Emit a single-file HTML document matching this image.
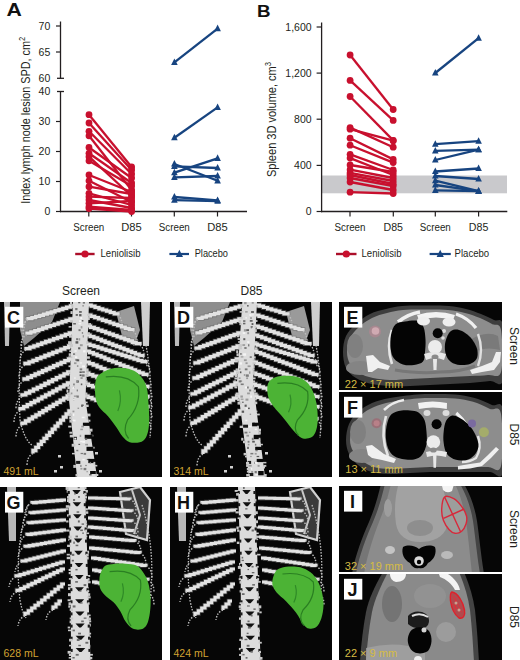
<!DOCTYPE html>
<html><head><meta charset="utf-8"><title>Figure</title>
<style>
html,body{margin:0;padding:0;background:#fff;}
body{width:520px;height:660px;position:relative;overflow:hidden;font-family:"Liberation Sans", sans-serif;}
svg{position:absolute;left:0;top:0;display:block;font-family:"Liberation Sans", sans-serif;}
</style></head><body>
<svg width="520" height="660" viewBox="0 0 520 660">
<text transform="translate(6.6,15.6) scale(1.18,1)" font-size="18" font-weight="bold" fill="#111">A</text>
<line x1="60.5" y1="21.5" x2="60.5" y2="78.6" stroke="#231f20" stroke-width="1.3"/>
<line x1="60.5" y1="91.2" x2="60.5" y2="212.2" stroke="#231f20" stroke-width="1.3"/>
<line x1="57.0" y1="78.3" x2="64.0" y2="78.3" stroke="#231f20" stroke-width="1.3"/>
<line x1="57.0" y1="91.5" x2="64.0" y2="91.5" stroke="#231f20" stroke-width="1.3"/>
<line x1="56.0" y1="26.0" x2="60.5" y2="26.0" stroke="#231f20" stroke-width="1.2"/>
<line x1="56.0" y1="52.0" x2="60.5" y2="52.0" stroke="#231f20" stroke-width="1.2"/>
<line x1="56.0" y1="121.5" x2="60.5" y2="121.5" stroke="#231f20" stroke-width="1.2"/>
<line x1="56.0" y1="151.5" x2="60.5" y2="151.5" stroke="#231f20" stroke-width="1.2"/>
<line x1="56.0" y1="181.5" x2="60.5" y2="181.5" stroke="#231f20" stroke-width="1.2"/>
<line x1="56.0" y1="211.5" x2="60.5" y2="211.5" stroke="#231f20" stroke-width="1.2"/>
<text x="50.3" y="29.8" font-size="10.5" text-anchor="end" fill="#231f20" font-weight="normal" >70</text>
<text x="50.3" y="55.8" font-size="10.5" text-anchor="end" fill="#231f20" font-weight="normal" >65</text>
<text x="50.3" y="82.1" font-size="10.5" text-anchor="end" fill="#231f20" font-weight="normal" >60</text>
<text x="50.3" y="95.3" font-size="10.5" text-anchor="end" fill="#231f20" font-weight="normal" >40</text>
<text x="50.3" y="125.3" font-size="10.5" text-anchor="end" fill="#231f20" font-weight="normal" >30</text>
<text x="50.3" y="155.3" font-size="10.5" text-anchor="end" fill="#231f20" font-weight="normal" >20</text>
<text x="50.3" y="185.3" font-size="10.5" text-anchor="end" fill="#231f20" font-weight="normal" >10</text>
<text x="50.3" y="215.3" font-size="10.5" text-anchor="end" fill="#231f20" font-weight="normal" >0</text>
<line x1="59.9" y1="211.5" x2="247.0" y2="211.5" stroke="#231f20" stroke-width="1.3"/>
<line x1="88.8" y1="211.5" x2="88.8" y2="216.5" stroke="#231f20" stroke-width="1.2"/>
<line x1="131.5" y1="211.5" x2="131.5" y2="216.5" stroke="#231f20" stroke-width="1.2"/>
<line x1="174.3" y1="211.5" x2="174.3" y2="216.5" stroke="#231f20" stroke-width="1.2"/>
<line x1="217.5" y1="211.5" x2="217.5" y2="216.5" stroke="#231f20" stroke-width="1.2"/>
<text x="88.8" y="230.6" font-size="10" text-anchor="middle" fill="#231f20" font-weight="normal" textLength="31" lengthAdjust="spacingAndGlyphs">Screen</text>
<text x="131.5" y="230.6" font-size="10" text-anchor="middle" fill="#231f20" font-weight="normal" textLength="20.5" lengthAdjust="spacingAndGlyphs">D85</text>
<text x="174.3" y="230.6" font-size="10" text-anchor="middle" fill="#231f20" font-weight="normal" textLength="31" lengthAdjust="spacingAndGlyphs">Screen</text>
<text x="217.5" y="230.6" font-size="10" text-anchor="middle" fill="#231f20" font-weight="normal" textLength="20.5" lengthAdjust="spacingAndGlyphs">D85</text>
<text transform="translate(29.8,120.3) rotate(-90) scale(0.836,1)" font-size="13" text-anchor="middle" fill="#231f20">Index lymph node lesion SPD, cm<tspan font-size="9" dy="-5">2</tspan></text>
<line x1="89.0" y1="114.7" x2="131.6" y2="167.0" stroke="#c8102e" stroke-width="2.3"/>
<line x1="89.0" y1="123.0" x2="131.6" y2="170.0" stroke="#c8102e" stroke-width="2.3"/>
<line x1="89.0" y1="131.3" x2="131.6" y2="174.0" stroke="#c8102e" stroke-width="2.3"/>
<line x1="89.0" y1="135.8" x2="131.6" y2="190.0" stroke="#c8102e" stroke-width="2.3"/>
<line x1="89.0" y1="147.5" x2="131.6" y2="178.0" stroke="#c8102e" stroke-width="2.3"/>
<line x1="89.0" y1="153.3" x2="131.6" y2="183.0" stroke="#c8102e" stroke-width="2.3"/>
<line x1="89.0" y1="156.7" x2="131.6" y2="196.0" stroke="#c8102e" stroke-width="2.3"/>
<line x1="89.0" y1="160.8" x2="131.6" y2="186.0" stroke="#c8102e" stroke-width="2.3"/>
<line x1="89.0" y1="175.0" x2="131.6" y2="192.0" stroke="#c8102e" stroke-width="2.3"/>
<line x1="89.0" y1="180.8" x2="131.6" y2="202.0" stroke="#c8102e" stroke-width="2.3"/>
<line x1="89.0" y1="186.7" x2="131.6" y2="194.0" stroke="#c8102e" stroke-width="2.3"/>
<line x1="89.0" y1="193.3" x2="131.6" y2="205.0" stroke="#c8102e" stroke-width="2.3"/>
<line x1="89.0" y1="196.7" x2="131.6" y2="198.0" stroke="#c8102e" stroke-width="2.3"/>
<line x1="89.0" y1="200.0" x2="131.6" y2="208.0" stroke="#c8102e" stroke-width="2.3"/>
<line x1="89.0" y1="203.3" x2="131.6" y2="201.0" stroke="#c8102e" stroke-width="2.3"/>
<line x1="89.0" y1="206.7" x2="131.6" y2="210.0" stroke="#c8102e" stroke-width="2.3"/>
<line x1="89.0" y1="208.5" x2="131.6" y2="211.5" stroke="#c8102e" stroke-width="2.3"/>
<circle cx="89.0" cy="114.7" r="3.4" fill="#c8102e"/>
<circle cx="131.6" cy="167.0" r="3.4" fill="#c8102e"/>
<circle cx="89.0" cy="123.0" r="3.4" fill="#c8102e"/>
<circle cx="131.6" cy="170.0" r="3.4" fill="#c8102e"/>
<circle cx="89.0" cy="131.3" r="3.4" fill="#c8102e"/>
<circle cx="131.6" cy="174.0" r="3.4" fill="#c8102e"/>
<circle cx="89.0" cy="135.8" r="3.4" fill="#c8102e"/>
<circle cx="131.6" cy="190.0" r="3.4" fill="#c8102e"/>
<circle cx="89.0" cy="147.5" r="3.4" fill="#c8102e"/>
<circle cx="131.6" cy="178.0" r="3.4" fill="#c8102e"/>
<circle cx="89.0" cy="153.3" r="3.4" fill="#c8102e"/>
<circle cx="131.6" cy="183.0" r="3.4" fill="#c8102e"/>
<circle cx="89.0" cy="156.7" r="3.4" fill="#c8102e"/>
<circle cx="131.6" cy="196.0" r="3.4" fill="#c8102e"/>
<circle cx="89.0" cy="160.8" r="3.4" fill="#c8102e"/>
<circle cx="131.6" cy="186.0" r="3.4" fill="#c8102e"/>
<circle cx="89.0" cy="175.0" r="3.4" fill="#c8102e"/>
<circle cx="131.6" cy="192.0" r="3.4" fill="#c8102e"/>
<circle cx="89.0" cy="180.8" r="3.4" fill="#c8102e"/>
<circle cx="131.6" cy="202.0" r="3.4" fill="#c8102e"/>
<circle cx="89.0" cy="186.7" r="3.4" fill="#c8102e"/>
<circle cx="131.6" cy="194.0" r="3.4" fill="#c8102e"/>
<circle cx="89.0" cy="193.3" r="3.4" fill="#c8102e"/>
<circle cx="131.6" cy="205.0" r="3.4" fill="#c8102e"/>
<circle cx="89.0" cy="196.7" r="3.4" fill="#c8102e"/>
<circle cx="131.6" cy="198.0" r="3.4" fill="#c8102e"/>
<circle cx="89.0" cy="200.0" r="3.4" fill="#c8102e"/>
<circle cx="131.6" cy="208.0" r="3.4" fill="#c8102e"/>
<circle cx="89.0" cy="203.3" r="3.4" fill="#c8102e"/>
<circle cx="131.6" cy="201.0" r="3.4" fill="#c8102e"/>
<circle cx="89.0" cy="206.7" r="3.4" fill="#c8102e"/>
<circle cx="131.6" cy="210.0" r="3.4" fill="#c8102e"/>
<circle cx="89.0" cy="208.5" r="3.4" fill="#c8102e"/>
<circle cx="131.6" cy="211.5" r="3.4" fill="#c8102e"/>
<line x1="174.4" y1="62.4" x2="217.6" y2="28.6" stroke="#174480" stroke-width="2.3"/>
<line x1="174.4" y1="137.7" x2="217.6" y2="107.4" stroke="#174480" stroke-width="2.3"/>
<line x1="174.4" y1="164.0" x2="217.6" y2="180.8" stroke="#174480" stroke-width="2.3"/>
<line x1="174.4" y1="166.3" x2="217.6" y2="168.0" stroke="#174480" stroke-width="2.3"/>
<line x1="174.4" y1="172.7" x2="217.6" y2="158.3" stroke="#174480" stroke-width="2.3"/>
<line x1="174.4" y1="177.3" x2="217.6" y2="176.0" stroke="#174480" stroke-width="2.3"/>
<line x1="174.4" y1="197.0" x2="217.6" y2="200.4" stroke="#174480" stroke-width="2.3"/>
<line x1="174.4" y1="200.2" x2="217.6" y2="201.2" stroke="#174480" stroke-width="2.3"/>
<path d="M174.4 58.4 L177.7 65.0 L171.1 65.0 Z" fill="#174480"/>
<path d="M217.6 24.6 L220.9 31.2 L214.3 31.2 Z" fill="#174480"/>
<path d="M174.4 133.7 L177.7 140.3 L171.1 140.3 Z" fill="#174480"/>
<path d="M217.6 103.4 L220.9 110.0 L214.3 110.0 Z" fill="#174480"/>
<path d="M174.4 160.0 L177.7 166.6 L171.1 166.6 Z" fill="#174480"/>
<path d="M217.6 176.8 L220.9 183.4 L214.3 183.4 Z" fill="#174480"/>
<path d="M174.4 162.3 L177.7 168.9 L171.1 168.9 Z" fill="#174480"/>
<path d="M217.6 164.0 L220.9 170.6 L214.3 170.6 Z" fill="#174480"/>
<path d="M174.4 168.7 L177.7 175.3 L171.1 175.3 Z" fill="#174480"/>
<path d="M217.6 154.3 L220.9 160.9 L214.3 160.9 Z" fill="#174480"/>
<path d="M174.4 173.3 L177.7 179.9 L171.1 179.9 Z" fill="#174480"/>
<path d="M217.6 172.0 L220.9 178.6 L214.3 178.6 Z" fill="#174480"/>
<path d="M174.4 193.0 L177.7 199.6 L171.1 199.6 Z" fill="#174480"/>
<path d="M217.6 196.4 L220.9 203.0 L214.3 203.0 Z" fill="#174480"/>
<path d="M174.4 196.2 L177.7 202.8 L171.1 202.8 Z" fill="#174480"/>
<path d="M217.6 197.2 L220.9 203.8 L214.3 203.8 Z" fill="#174480"/>
<line x1="75.2" y1="254.0" x2="94.6" y2="254.0" stroke="#ac0f2a" stroke-width="2.4"/>
<circle cx="85.0" cy="254.0" r="3.6" fill="#c8102e"/>
<text x="100.5" y="257.3" font-size="10" text-anchor="start" fill="#231f20" font-weight="normal" textLength="40" lengthAdjust="spacingAndGlyphs">Leniolisib</text>
<line x1="169.4" y1="254.0" x2="189.0" y2="254.0" stroke="#174480" stroke-width="2.2"/>
<path d="M179.4 249.7 L183.0 256.9 L175.8 256.9 Z" fill="#174480"/>
<text x="194.7" y="257.3" font-size="10" text-anchor="start" fill="#231f20" font-weight="normal" textLength="33.3" lengthAdjust="spacingAndGlyphs">Placebo</text>
<text transform="translate(257.0,16.6) scale(1.1,1)" font-size="17" font-weight="bold" fill="#111">B</text>
<rect x="321.6" y="175.5" width="185.4" height="17.8" fill="#c9c9cc"/>
<line x1="321.6" y1="22.5" x2="321.6" y2="212.2" stroke="#231f20" stroke-width="1.3"/>
<line x1="316.6" y1="27.0" x2="321.6" y2="27.0" stroke="#231f20" stroke-width="1.2"/>
<text x="311.6" y="30.8" font-size="10.5" text-anchor="end" fill="#231f20" font-weight="normal" >1,600</text>
<line x1="316.6" y1="73.1" x2="321.6" y2="73.1" stroke="#231f20" stroke-width="1.2"/>
<text x="311.6" y="76.9" font-size="10.5" text-anchor="end" fill="#231f20" font-weight="normal" >1,200</text>
<line x1="316.6" y1="119.2" x2="321.6" y2="119.2" stroke="#231f20" stroke-width="1.2"/>
<text x="311.6" y="123.0" font-size="10.5" text-anchor="end" fill="#231f20" font-weight="normal" >800</text>
<line x1="316.6" y1="165.4" x2="321.6" y2="165.4" stroke="#231f20" stroke-width="1.2"/>
<text x="311.6" y="169.2" font-size="10.5" text-anchor="end" fill="#231f20" font-weight="normal" >400</text>
<line x1="316.6" y1="211.5" x2="321.6" y2="211.5" stroke="#231f20" stroke-width="1.2"/>
<text x="311.6" y="215.3" font-size="10.5" text-anchor="end" fill="#231f20" font-weight="normal" >0</text>
<line x1="321.0" y1="211.5" x2="507.3" y2="211.5" stroke="#231f20" stroke-width="1.3"/>
<line x1="350.0" y1="211.5" x2="350.0" y2="216.5" stroke="#231f20" stroke-width="1.2"/>
<line x1="393.3" y1="211.5" x2="393.3" y2="216.5" stroke="#231f20" stroke-width="1.2"/>
<line x1="435.3" y1="211.5" x2="435.3" y2="216.5" stroke="#231f20" stroke-width="1.2"/>
<line x1="478.6" y1="211.5" x2="478.6" y2="216.5" stroke="#231f20" stroke-width="1.2"/>
<text x="350.0" y="230.6" font-size="10" text-anchor="middle" fill="#231f20" font-weight="normal" textLength="31" lengthAdjust="spacingAndGlyphs">Screen</text>
<text x="393.3" y="230.6" font-size="10" text-anchor="middle" fill="#231f20" font-weight="normal" textLength="19.5" lengthAdjust="spacingAndGlyphs">D85</text>
<text x="435.3" y="230.6" font-size="10" text-anchor="middle" fill="#231f20" font-weight="normal" textLength="31" lengthAdjust="spacingAndGlyphs">Screen</text>
<text x="478.6" y="230.6" font-size="10" text-anchor="middle" fill="#231f20" font-weight="normal" textLength="19.5" lengthAdjust="spacingAndGlyphs">D85</text>
<text transform="translate(276.2,119.5) rotate(-90) scale(0.848,1)" font-size="13" text-anchor="middle" fill="#231f20">Spleen 3D volume, cm<tspan font-size="9" dy="-5">3</tspan></text>
<line x1="350.1" y1="55.0" x2="393.2" y2="109.5" stroke="#c8102e" stroke-width="2.3"/>
<line x1="350.1" y1="80.4" x2="393.2" y2="120.4" stroke="#c8102e" stroke-width="2.3"/>
<line x1="350.1" y1="96.5" x2="393.2" y2="140.4" stroke="#c8102e" stroke-width="2.3"/>
<line x1="350.1" y1="127.6" x2="393.2" y2="147.2" stroke="#c8102e" stroke-width="2.3"/>
<line x1="350.1" y1="129.2" x2="393.2" y2="140.7" stroke="#c8102e" stroke-width="2.3"/>
<line x1="350.1" y1="138.2" x2="393.2" y2="159.4" stroke="#c8102e" stroke-width="2.3"/>
<line x1="350.1" y1="145.2" x2="393.2" y2="162.6" stroke="#c8102e" stroke-width="2.3"/>
<line x1="350.1" y1="154.3" x2="393.2" y2="170.0" stroke="#c8102e" stroke-width="2.3"/>
<line x1="350.1" y1="158.1" x2="393.2" y2="175.0" stroke="#c8102e" stroke-width="2.3"/>
<line x1="350.1" y1="169.7" x2="393.2" y2="178.0" stroke="#c8102e" stroke-width="2.3"/>
<line x1="350.1" y1="172.9" x2="393.2" y2="181.0" stroke="#c8102e" stroke-width="2.3"/>
<line x1="350.1" y1="178.0" x2="393.2" y2="186.0" stroke="#c8102e" stroke-width="2.3"/>
<line x1="350.1" y1="182.0" x2="393.2" y2="190.0" stroke="#c8102e" stroke-width="2.3"/>
<line x1="350.1" y1="192.2" x2="393.2" y2="193.5" stroke="#c8102e" stroke-width="2.3"/>
<line x1="350.1" y1="175.0" x2="393.2" y2="184.0" stroke="#c8102e" stroke-width="2.3"/>
<line x1="350.1" y1="165.0" x2="393.2" y2="172.0" stroke="#c8102e" stroke-width="2.3"/>
<circle cx="350.1" cy="55.0" r="3.4" fill="#c8102e"/>
<circle cx="393.2" cy="109.5" r="3.4" fill="#c8102e"/>
<circle cx="350.1" cy="80.4" r="3.4" fill="#c8102e"/>
<circle cx="393.2" cy="120.4" r="3.4" fill="#c8102e"/>
<circle cx="350.1" cy="96.5" r="3.4" fill="#c8102e"/>
<circle cx="393.2" cy="140.4" r="3.4" fill="#c8102e"/>
<circle cx="350.1" cy="127.6" r="3.4" fill="#c8102e"/>
<circle cx="393.2" cy="147.2" r="3.4" fill="#c8102e"/>
<circle cx="350.1" cy="129.2" r="3.4" fill="#c8102e"/>
<circle cx="393.2" cy="140.7" r="3.4" fill="#c8102e"/>
<circle cx="350.1" cy="138.2" r="3.4" fill="#c8102e"/>
<circle cx="393.2" cy="159.4" r="3.4" fill="#c8102e"/>
<circle cx="350.1" cy="145.2" r="3.4" fill="#c8102e"/>
<circle cx="393.2" cy="162.6" r="3.4" fill="#c8102e"/>
<circle cx="350.1" cy="154.3" r="3.4" fill="#c8102e"/>
<circle cx="393.2" cy="170.0" r="3.4" fill="#c8102e"/>
<circle cx="350.1" cy="158.1" r="3.4" fill="#c8102e"/>
<circle cx="393.2" cy="175.0" r="3.4" fill="#c8102e"/>
<circle cx="350.1" cy="169.7" r="3.4" fill="#c8102e"/>
<circle cx="393.2" cy="178.0" r="3.4" fill="#c8102e"/>
<circle cx="350.1" cy="172.9" r="3.4" fill="#c8102e"/>
<circle cx="393.2" cy="181.0" r="3.4" fill="#c8102e"/>
<circle cx="350.1" cy="178.0" r="3.4" fill="#c8102e"/>
<circle cx="393.2" cy="186.0" r="3.4" fill="#c8102e"/>
<circle cx="350.1" cy="182.0" r="3.4" fill="#c8102e"/>
<circle cx="393.2" cy="190.0" r="3.4" fill="#c8102e"/>
<circle cx="350.1" cy="192.2" r="3.4" fill="#c8102e"/>
<circle cx="393.2" cy="193.5" r="3.4" fill="#c8102e"/>
<circle cx="350.1" cy="175.0" r="3.4" fill="#c8102e"/>
<circle cx="393.2" cy="184.0" r="3.4" fill="#c8102e"/>
<circle cx="350.1" cy="165.0" r="3.4" fill="#c8102e"/>
<circle cx="393.2" cy="172.0" r="3.4" fill="#c8102e"/>
<line x1="435.3" y1="73.0" x2="478.6" y2="38.2" stroke="#174480" stroke-width="2.3"/>
<line x1="435.3" y1="144.2" x2="478.6" y2="141.2" stroke="#174480" stroke-width="2.3"/>
<line x1="435.3" y1="150.9" x2="478.6" y2="149.7" stroke="#174480" stroke-width="2.3"/>
<line x1="435.3" y1="160.0" x2="478.6" y2="149.7" stroke="#174480" stroke-width="2.3"/>
<line x1="435.3" y1="171.5" x2="478.6" y2="168.5" stroke="#174480" stroke-width="2.3"/>
<line x1="435.3" y1="176.0" x2="478.6" y2="179.0" stroke="#174480" stroke-width="2.3"/>
<line x1="435.3" y1="180.6" x2="478.6" y2="191.2" stroke="#174480" stroke-width="2.3"/>
<line x1="435.3" y1="185.0" x2="478.6" y2="191.2" stroke="#174480" stroke-width="2.3"/>
<line x1="435.3" y1="190.3" x2="478.6" y2="191.2" stroke="#174480" stroke-width="2.3"/>
<path d="M435.3 69.0 L438.6 75.6 L432.0 75.6 Z" fill="#174480"/>
<path d="M478.6 34.2 L481.9 40.8 L475.3 40.8 Z" fill="#174480"/>
<path d="M435.3 140.2 L438.6 146.8 L432.0 146.8 Z" fill="#174480"/>
<path d="M478.6 137.2 L481.9 143.8 L475.3 143.8 Z" fill="#174480"/>
<path d="M435.3 146.9 L438.6 153.5 L432.0 153.5 Z" fill="#174480"/>
<path d="M478.6 145.7 L481.9 152.3 L475.3 152.3 Z" fill="#174480"/>
<path d="M435.3 156.0 L438.6 162.6 L432.0 162.6 Z" fill="#174480"/>
<path d="M478.6 145.7 L481.9 152.3 L475.3 152.3 Z" fill="#174480"/>
<path d="M435.3 167.5 L438.6 174.1 L432.0 174.1 Z" fill="#174480"/>
<path d="M478.6 164.5 L481.9 171.1 L475.3 171.1 Z" fill="#174480"/>
<path d="M435.3 172.0 L438.6 178.6 L432.0 178.6 Z" fill="#174480"/>
<path d="M478.6 175.0 L481.9 181.6 L475.3 181.6 Z" fill="#174480"/>
<path d="M435.3 176.6 L438.6 183.2 L432.0 183.2 Z" fill="#174480"/>
<path d="M478.6 187.2 L481.9 193.8 L475.3 193.8 Z" fill="#174480"/>
<path d="M435.3 181.0 L438.6 187.6 L432.0 187.6 Z" fill="#174480"/>
<path d="M478.6 187.2 L481.9 193.8 L475.3 193.8 Z" fill="#174480"/>
<path d="M435.3 186.3 L438.6 192.9 L432.0 192.9 Z" fill="#174480"/>
<path d="M478.6 187.2 L481.9 193.8 L475.3 193.8 Z" fill="#174480"/>
<line x1="336.0" y1="254.0" x2="356.5" y2="254.0" stroke="#ac0f2a" stroke-width="2.4"/>
<circle cx="346.3" cy="254.0" r="3.6" fill="#c8102e"/>
<text x="361.5" y="257.3" font-size="10" text-anchor="start" fill="#231f20" font-weight="normal" textLength="40" lengthAdjust="spacingAndGlyphs">Leniolisib</text>
<line x1="429.6" y1="254.0" x2="450.8" y2="254.0" stroke="#174480" stroke-width="2.2"/>
<path d="M440.2 249.7 L443.8 256.9 L436.6 256.9 Z" fill="#174480"/>
<text x="454.6" y="257.3" font-size="10" text-anchor="start" fill="#231f20" font-weight="normal" textLength="34.5" lengthAdjust="spacingAndGlyphs">Placebo</text>
<clipPath id="cpC"><rect x="0" y="302" width="162" height="175"/></clipPath><g clip-path="url(#cpC)"><rect x="0" y="302" width="162" height="175" fill="#060606"/><path d="M4 302 L10 302 L9 346 L5 346 Z" fill="#bcbcbc"/><path d="M141 302 L150 302 L149 346 L143 346 Z" fill="#cfcfcf"/><path d="M116 312 L134 306 L140 330 L134 346 L122 336 Z" fill="#9a9a9a"/><path d="M20 302 L60 302 L52 322 L34 338 L24 346 L20 330 Z" fill="#8e8e8e"/><path d="M26 318 Q17 360 20 420 Q24 440 33 446" stroke="#bdbdbd" stroke-width="1.3" fill="none" stroke-dasharray="1.6 1.4"/><path d="M146 345 Q154 390 150 438" stroke="#bdbdbd" stroke-width="1.3" fill="none" stroke-dasharray="1.6 1.4"/><path d="M74.3 306.0 L70.5 306.0 L70.5 307.2 L66.6 307.2 L66.6 308.3 L62.8 308.3 L62.8 309.5 L58.9 309.5 L58.9 310.6 L55.0 310.6 L55.0 311.8 L51.2 311.8 L51.2 313.0 L47.3 313.0 L47.3 314.1 L43.4 314.1 L43.4 315.3 L39.6 315.3 L39.6 316.4 L35.7 316.4 L35.7 317.6 L31.9 317.6 L31.9 318.7 L28.0 318.7 L28.0 319.9" stroke="#6a6a6a" stroke-width="4.9" fill="none" stroke-linejoin="miter" opacity="0.55"/><path d="M74.3 306.0 L70.5 306.0 L70.5 307.2 L66.6 307.2 L66.6 308.3 L62.8 308.3 L62.8 309.5 L58.9 309.5 L58.9 310.6 L55.0 310.6 L55.0 311.8 L51.2 311.8 L51.2 313.0 L47.3 313.0 L47.3 314.1 L43.4 314.1 L43.4 315.3 L39.6 315.3 L39.6 316.4 L35.7 316.4 L35.7 317.6 L31.9 317.6 L31.9 318.7 L28.0 318.7 L28.0 319.9" stroke="#e2e2e2" stroke-width="3.3" fill="none" stroke-linejoin="miter" opacity="1"/><path d="M28.0 319.9 Q22.0 322.9 22.0 331.9" stroke="#bdbdbd" stroke-width="1.4" fill="none" stroke-dasharray="1.5 1.5"/><path d="M73.8 319.0 L69.9 319.0 L69.9 320.3 L66.0 320.3 L66.0 321.6 L62.1 321.6 L62.1 322.9 L58.2 322.9 L58.2 324.1 L54.3 324.1 L54.3 325.4 L50.4 325.4 L50.4 326.7 L46.5 326.7 L46.5 328.0 L42.6 328.0 L42.6 329.3 L38.7 329.3 L38.7 330.6 L34.8 330.6 L34.8 331.9 L30.9 331.9 L30.9 333.2 L27.0 333.2 L27.0 334.4" stroke="#6a6a6a" stroke-width="4.9" fill="none" stroke-linejoin="miter" opacity="0.55"/><path d="M73.8 319.0 L69.9 319.0 L69.9 320.3 L66.0 320.3 L66.0 321.6 L62.1 321.6 L62.1 322.9 L58.2 322.9 L58.2 324.1 L54.3 324.1 L54.3 325.4 L50.4 325.4 L50.4 326.7 L46.5 326.7 L46.5 328.0 L42.6 328.0 L42.6 329.3 L38.7 329.3 L38.7 330.6 L34.8 330.6 L34.8 331.9 L30.9 331.9 L30.9 333.2 L27.0 333.2 L27.0 334.4" stroke="#e2e2e2" stroke-width="3.3" fill="none" stroke-linejoin="miter" opacity="1"/><path d="M27.0 334.4 Q21.0 337.4 21.0 346.4" stroke="#bdbdbd" stroke-width="1.4" fill="none" stroke-dasharray="1.5 1.5"/><path d="M73.2 333.0 L69.3 333.0 L69.3 334.4 L65.4 334.4 L65.4 335.8 L61.4 335.8 L61.4 337.3 L57.5 337.3 L57.5 338.7 L53.6 338.7 L53.6 340.1 L49.6 340.1 L49.6 341.5 L45.7 341.5 L45.7 342.9 L41.7 342.9 L41.7 344.3 L37.8 344.3 L37.8 345.8 L33.9 345.8 L33.9 347.2 L29.9 347.2 L29.9 348.6 L26.0 348.6 L26.0 350.0" stroke="#6a6a6a" stroke-width="4.9" fill="none" stroke-linejoin="miter" opacity="0.55"/><path d="M73.2 333.0 L69.3 333.0 L69.3 334.4 L65.4 334.4 L65.4 335.8 L61.4 335.8 L61.4 337.3 L57.5 337.3 L57.5 338.7 L53.6 338.7 L53.6 340.1 L49.6 340.1 L49.6 341.5 L45.7 341.5 L45.7 342.9 L41.7 342.9 L41.7 344.3 L37.8 344.3 L37.8 345.8 L33.9 345.8 L33.9 347.2 L29.9 347.2 L29.9 348.6 L26.0 348.6 L26.0 350.0" stroke="#e2e2e2" stroke-width="3.3" fill="none" stroke-linejoin="miter" opacity="1"/><path d="M26.0 350.0 Q20.0 353.0 20.0 362.0" stroke="#bdbdbd" stroke-width="1.4" fill="none" stroke-dasharray="1.5 1.5"/><path d="M72.7 346.0 L68.7 346.0 L68.7 347.6 L64.8 347.6 L64.8 349.2 L60.8 349.2 L60.8 350.8 L56.8 350.8 L56.8 352.4 L52.8 352.4 L52.8 354.0 L48.9 354.0 L48.9 355.5 L44.9 355.5 L44.9 357.1 L40.9 357.1 L40.9 358.7 L36.9 358.7 L36.9 360.3 L33.0 360.3 L33.0 361.9 L29.0 361.9 L29.0 363.5 L25.0 363.5 L25.0 365.1" stroke="#6a6a6a" stroke-width="4.9" fill="none" stroke-linejoin="miter" opacity="0.55"/><path d="M72.7 346.0 L68.7 346.0 L68.7 347.6 L64.8 347.6 L64.8 349.2 L60.8 349.2 L60.8 350.8 L56.8 350.8 L56.8 352.4 L52.8 352.4 L52.8 354.0 L48.9 354.0 L48.9 355.5 L44.9 355.5 L44.9 357.1 L40.9 357.1 L40.9 358.7 L36.9 358.7 L36.9 360.3 L33.0 360.3 L33.0 361.9 L29.0 361.9 L29.0 363.5 L25.0 363.5 L25.0 365.1" stroke="#e2e2e2" stroke-width="3.3" fill="none" stroke-linejoin="miter" opacity="1"/><path d="M25.0 365.1 Q19.0 368.1 19.0 377.1" stroke="#bdbdbd" stroke-width="1.4" fill="none" stroke-dasharray="1.5 1.5"/><path d="M72.2 359.0 L68.5 359.0 L68.5 360.7 L64.8 360.7 L64.8 362.3 L61.1 362.3 L61.1 364.0 L57.4 364.0 L57.4 365.7 L53.6 365.7 L53.6 367.3 L49.9 367.3 L49.9 369.0 L46.2 369.0 L46.2 370.7 L42.5 370.7 L42.5 372.3 L38.8 372.3 L38.8 374.0 L35.1 374.0 L35.1 375.7 L31.4 375.7 L31.4 377.3 L27.7 377.3 L27.7 379.0 L24.0 379.0 L24.0 380.7" stroke="#6a6a6a" stroke-width="4.9" fill="none" stroke-linejoin="miter" opacity="0.55"/><path d="M72.2 359.0 L68.5 359.0 L68.5 360.7 L64.8 360.7 L64.8 362.3 L61.1 362.3 L61.1 364.0 L57.4 364.0 L57.4 365.7 L53.6 365.7 L53.6 367.3 L49.9 367.3 L49.9 369.0 L46.2 369.0 L46.2 370.7 L42.5 370.7 L42.5 372.3 L38.8 372.3 L38.8 374.0 L35.1 374.0 L35.1 375.7 L31.4 375.7 L31.4 377.3 L27.7 377.3 L27.7 379.0 L24.0 379.0 L24.0 380.7" stroke="#e2e2e2" stroke-width="3.3" fill="none" stroke-linejoin="miter" opacity="1"/><path d="M24.0 380.7 Q18.0 383.7 18.0 392.7" stroke="#bdbdbd" stroke-width="1.4" fill="none" stroke-dasharray="1.5 1.5"/><path d="M71.6 372.0 L67.8 372.0 L67.8 373.9 L64.0 373.9 L64.0 375.8 L60.2 375.8 L60.2 377.7 L56.4 377.7 L56.4 379.6 L52.5 379.6 L52.5 381.5 L48.7 381.5 L48.7 383.5 L44.9 383.5 L44.9 385.4 L41.1 385.4 L41.1 387.3 L37.3 387.3 L37.3 389.2 L33.5 389.2 L33.5 391.1 L29.6 391.1 L29.6 393.0 L25.8 393.0 L25.8 394.9 L22.0 394.9 L22.0 396.8" stroke="#6a6a6a" stroke-width="4.9" fill="none" stroke-linejoin="miter" opacity="0.55"/><path d="M71.6 372.0 L67.8 372.0 L67.8 373.9 L64.0 373.9 L64.0 375.8 L60.2 375.8 L60.2 377.7 L56.4 377.7 L56.4 379.6 L52.5 379.6 L52.5 381.5 L48.7 381.5 L48.7 383.5 L44.9 383.5 L44.9 385.4 L41.1 385.4 L41.1 387.3 L37.3 387.3 L37.3 389.2 L33.5 389.2 L33.5 391.1 L29.6 391.1 L29.6 393.0 L25.8 393.0 L25.8 394.9 L22.0 394.9 L22.0 396.8" stroke="#e2e2e2" stroke-width="3.3" fill="none" stroke-linejoin="miter" opacity="1"/><path d="M22.0 396.8 Q16.0 399.8 16.0 408.8" stroke="#bdbdbd" stroke-width="1.4" fill="none" stroke-dasharray="1.5 1.5"/><path d="M71.2 383.0 L67.5 383.0 L67.5 385.0 L63.9 385.0 L63.9 386.9 L60.2 386.9 L60.2 388.9 L56.6 388.9 L56.6 390.9 L52.9 390.9 L52.9 392.9 L49.3 392.9 L49.3 394.8 L45.6 394.8 L45.6 396.8 L41.9 396.8 L41.9 398.8 L38.3 398.8 L38.3 400.8 L34.6 400.8 L34.6 402.7 L31.0 402.7 L31.0 404.7 L27.3 404.7 L27.3 406.7 L23.7 406.7 L23.7 408.7 L20.0 408.7 L20.0 410.6" stroke="#6a6a6a" stroke-width="4.9" fill="none" stroke-linejoin="miter" opacity="0.55"/><path d="M71.2 383.0 L67.5 383.0 L67.5 385.0 L63.9 385.0 L63.9 386.9 L60.2 386.9 L60.2 388.9 L56.6 388.9 L56.6 390.9 L52.9 390.9 L52.9 392.9 L49.3 392.9 L49.3 394.8 L45.6 394.8 L45.6 396.8 L41.9 396.8 L41.9 398.8 L38.3 398.8 L38.3 400.8 L34.6 400.8 L34.6 402.7 L31.0 402.7 L31.0 404.7 L27.3 404.7 L27.3 406.7 L23.7 406.7 L23.7 408.7 L20.0 408.7 L20.0 410.6" stroke="#e2e2e2" stroke-width="3.3" fill="none" stroke-linejoin="miter" opacity="1"/><path d="M20.0 410.6 Q14.0 413.6 14.0 422.6" stroke="#bdbdbd" stroke-width="1.4" fill="none" stroke-dasharray="1.5 1.5"/><path d="M70.7 396.0 L67.2 396.0 L67.2 398.1 L63.7 398.1 L63.7 400.2 L60.2 400.2 L60.2 402.3 L56.8 402.3 L56.8 404.3 L53.3 404.3 L53.3 406.4 L49.8 406.4 L49.8 408.5 L46.3 408.5 L46.3 410.6 L42.9 410.6 L42.9 412.7 L39.4 412.7 L39.4 414.8 L35.9 414.8 L35.9 416.9 L32.4 416.9 L32.4 418.9 L29.0 418.9 L29.0 421.0 L25.5 421.0 L25.5 423.1 L22.0 423.1 L22.0 425.2" stroke="#6a6a6a" stroke-width="4.9" fill="none" stroke-linejoin="miter" opacity="0.55"/><path d="M70.7 396.0 L67.2 396.0 L67.2 398.1 L63.7 398.1 L63.7 400.2 L60.2 400.2 L60.2 402.3 L56.8 402.3 L56.8 404.3 L53.3 404.3 L53.3 406.4 L49.8 406.4 L49.8 408.5 L46.3 408.5 L46.3 410.6 L42.9 410.6 L42.9 412.7 L39.4 412.7 L39.4 414.8 L35.9 414.8 L35.9 416.9 L32.4 416.9 L32.4 418.9 L29.0 418.9 L29.0 421.0 L25.5 421.0 L25.5 423.1 L22.0 423.1 L22.0 425.2" stroke="#e2e2e2" stroke-width="3.3" fill="none" stroke-linejoin="miter" opacity="1"/><path d="M22.0 425.2 Q16.0 428.2 16.0 437.2" stroke="#bdbdbd" stroke-width="1.4" fill="none" stroke-dasharray="1.5 1.5"/><path d="M71.6 411.0 L68.9 411.0 L68.9 414.0 L66.1 414.0 L66.1 417.1 L63.4 417.1 L63.4 420.1 L60.6 420.1 L60.6 423.1 L57.8 423.1 L57.8 426.2 L55.1 426.2 L55.1 429.2 L52.3 429.2 L52.3 432.3 L49.6 432.3 L49.6 435.3 L46.8 435.3 L46.8 438.3 L44.0 438.3 L44.0 441.4 L41.3 441.4 L41.3 444.4 L38.5 444.4 L38.5 447.4 L35.8 447.4 L35.8 450.5 L33.0 450.5 L33.0 453.5" stroke="#6a6a6a" stroke-width="4.9" fill="none" stroke-linejoin="miter" opacity="0.55"/><path d="M71.6 411.0 L68.9 411.0 L68.9 414.0 L66.1 414.0 L66.1 417.1 L63.4 417.1 L63.4 420.1 L60.6 420.1 L60.6 423.1 L57.8 423.1 L57.8 426.2 L55.1 426.2 L55.1 429.2 L52.3 429.2 L52.3 432.3 L49.6 432.3 L49.6 435.3 L46.8 435.3 L46.8 438.3 L44.0 438.3 L44.0 441.4 L41.3 441.4 L41.3 444.4 L38.5 444.4 L38.5 447.4 L35.8 447.4 L35.8 450.5 L33.0 450.5 L33.0 453.5" stroke="#e2e2e2" stroke-width="3.3" fill="none" stroke-linejoin="miter" opacity="1"/><path d="M33.0 453.5 Q27.0 456.5 27.0 465.5" stroke="#bdbdbd" stroke-width="1.4" fill="none" stroke-dasharray="1.5 1.5"/><path d="M87.4 305.0 L91.2 305.0 L91.2 306.2 L95.0 306.2 L95.0 307.5 L98.9 307.5 L98.9 308.8 L102.7 308.8 L102.7 310.0 L106.5 310.0 L106.5 311.2 L110.3 311.2 L110.3 312.5 L114.2 312.5 L114.2 313.8 L118.0 313.8 L118.0 315.0" stroke="#6a6a6a" stroke-width="4.8" fill="none" stroke-linejoin="miter" opacity="0.55"/><path d="M87.4 305.0 L91.2 305.0 L91.2 306.2 L95.0 306.2 L95.0 307.5 L98.9 307.5 L98.9 308.8 L102.7 308.8 L102.7 310.0 L106.5 310.0 L106.5 311.2 L110.3 311.2 L110.3 312.5 L114.2 312.5 L114.2 313.8 L118.0 313.8 L118.0 315.0" stroke="#e2e2e2" stroke-width="3.2" fill="none" stroke-linejoin="miter" opacity="1"/><path d="M118.0 315.0 Q122.0 318.0 122.0 325.0" stroke="#bdbdbd" stroke-width="1.4" fill="none" stroke-dasharray="1.5 1.5"/><path d="M87.0 315.0 L90.9 315.0 L90.9 316.3 L94.7 316.3 L94.7 317.7 L98.5 317.7 L98.5 319.0 L102.4 319.0 L102.4 320.3 L106.2 320.3 L106.2 321.7 L110.0 321.7 L110.0 323.0 L113.8 323.0 L113.8 324.3 L117.7 324.3 L117.7 325.7 L121.5 325.7 L121.5 327.0 L125.3 327.0 L125.3 328.3 L129.2 328.3 L129.2 329.7 L133.0 329.7 L133.0 331.0" stroke="#6a6a6a" stroke-width="4.8" fill="none" stroke-linejoin="miter" opacity="0.55"/><path d="M87.0 315.0 L90.9 315.0 L90.9 316.3 L94.7 316.3 L94.7 317.7 L98.5 317.7 L98.5 319.0 L102.4 319.0 L102.4 320.3 L106.2 320.3 L106.2 321.7 L110.0 321.7 L110.0 323.0 L113.8 323.0 L113.8 324.3 L117.7 324.3 L117.7 325.7 L121.5 325.7 L121.5 327.0 L125.3 327.0 L125.3 328.3 L129.2 328.3 L129.2 329.7 L133.0 329.7 L133.0 331.0" stroke="#e2e2e2" stroke-width="3.2" fill="none" stroke-linejoin="miter" opacity="1"/><path d="M133.0 331.0 Q137.0 334.0 137.0 341.0" stroke="#bdbdbd" stroke-width="1.4" fill="none" stroke-dasharray="1.5 1.5"/><path d="M86.6 326.0 L90.5 326.0 L90.5 327.4 L94.3 327.4 L94.3 328.7 L98.1 328.7 L98.1 330.1 L101.9 330.1 L101.9 331.4 L105.7 331.4 L105.7 332.8 L109.5 332.8 L109.5 334.1 L113.3 334.1 L113.3 335.5 L117.1 335.5 L117.1 336.9 L120.9 336.9 L120.9 338.2 L124.8 338.2 L124.8 339.6 L128.6 339.6 L128.6 340.9 L132.4 340.9 L132.4 342.3 L136.2 342.3 L136.2 343.6 L140.0 343.6 L140.0 345.0" stroke="#6a6a6a" stroke-width="4.8" fill="none" stroke-linejoin="miter" opacity="0.55"/><path d="M86.6 326.0 L90.5 326.0 L90.5 327.4 L94.3 327.4 L94.3 328.7 L98.1 328.7 L98.1 330.1 L101.9 330.1 L101.9 331.4 L105.7 331.4 L105.7 332.8 L109.5 332.8 L109.5 334.1 L113.3 334.1 L113.3 335.5 L117.1 335.5 L117.1 336.9 L120.9 336.9 L120.9 338.2 L124.8 338.2 L124.8 339.6 L128.6 339.6 L128.6 340.9 L132.4 340.9 L132.4 342.3 L136.2 342.3 L136.2 343.6 L140.0 343.6 L140.0 345.0" stroke="#e2e2e2" stroke-width="3.2" fill="none" stroke-linejoin="miter" opacity="1"/><path d="M140.0 345.0 Q144.0 348.0 144.0 355.0" stroke="#bdbdbd" stroke-width="1.4" fill="none" stroke-dasharray="1.5 1.5"/><path d="M86.3 335.0 L90.1 335.0 L90.1 336.5 L93.9 336.5 L93.9 337.9 L97.7 337.9 L97.7 339.4 L101.4 339.4 L101.4 340.9 L105.2 340.9 L105.2 342.3 L109.0 342.3 L109.0 343.8 L112.8 343.8 L112.8 345.3 L116.5 345.3 L116.5 346.7 L120.3 346.7 L120.3 348.2 L124.1 348.2 L124.1 349.7 L127.9 349.7 L127.9 351.1 L131.7 351.1 L131.7 352.6 L135.4 352.6 L135.4 354.1 L139.2 354.1 L139.2 355.5 L143.0 355.5 L143.0 357.0" stroke="#6a6a6a" stroke-width="4.8" fill="none" stroke-linejoin="miter" opacity="0.55"/><path d="M86.3 335.0 L90.1 335.0 L90.1 336.5 L93.9 336.5 L93.9 337.9 L97.7 337.9 L97.7 339.4 L101.4 339.4 L101.4 340.9 L105.2 340.9 L105.2 342.3 L109.0 342.3 L109.0 343.8 L112.8 343.8 L112.8 345.3 L116.5 345.3 L116.5 346.7 L120.3 346.7 L120.3 348.2 L124.1 348.2 L124.1 349.7 L127.9 349.7 L127.9 351.1 L131.7 351.1 L131.7 352.6 L135.4 352.6 L135.4 354.1 L139.2 354.1 L139.2 355.5 L143.0 355.5 L143.0 357.0" stroke="#e2e2e2" stroke-width="3.2" fill="none" stroke-linejoin="miter" opacity="1"/><path d="M143.0 357.0 Q147.0 360.0 147.0 367.0" stroke="#bdbdbd" stroke-width="1.4" fill="none" stroke-dasharray="1.5 1.5"/><path d="M86.0 344.0 L90.0 344.0 L90.0 345.3 L94.0 345.3 L94.0 346.5 L98.0 346.5 L98.0 347.8 L102.0 347.8 L102.0 349.1 L106.0 349.1 L106.0 350.3 L110.0 350.3 L110.0 351.6 L114.0 351.6 L114.0 352.9 L118.0 352.9 L118.0 354.1 L122.0 354.1 L122.0 355.4 L126.0 355.4 L126.0 356.7 L130.0 356.7 L130.0 357.9 L134.0 357.9 L134.0 359.2 L138.0 359.2 L138.0 360.5 L142.0 360.5 L142.0 361.7 L146.0 361.7 L146.0 363.0" stroke="#6a6a6a" stroke-width="4.8" fill="none" stroke-linejoin="miter" opacity="0.55"/><path d="M86.0 344.0 L90.0 344.0 L90.0 345.3 L94.0 345.3 L94.0 346.5 L98.0 346.5 L98.0 347.8 L102.0 347.8 L102.0 349.1 L106.0 349.1 L106.0 350.3 L110.0 350.3 L110.0 351.6 L114.0 351.6 L114.0 352.9 L118.0 352.9 L118.0 354.1 L122.0 354.1 L122.0 355.4 L126.0 355.4 L126.0 356.7 L130.0 356.7 L130.0 357.9 L134.0 357.9 L134.0 359.2 L138.0 359.2 L138.0 360.5 L142.0 360.5 L142.0 361.7 L146.0 361.7 L146.0 363.0" stroke="#e2e2e2" stroke-width="3.2" fill="none" stroke-linejoin="miter" opacity="1"/><path d="M146.0 363.0 Q150.0 366.0 150.0 373.0" stroke="#bdbdbd" stroke-width="1.4" fill="none" stroke-dasharray="1.5 1.5"/><path d="M85.8 351.0 L89.6 351.0 L89.6 352.6 L93.4 352.6 L93.4 354.1 L97.2 354.1 L97.2 355.7 L101.1 355.7 L101.1 357.2 L104.9 357.2 L104.9 358.8 L108.7 358.8 L108.7 360.4 L112.5 360.4 L112.5 361.9 L116.4 361.9 L116.4 363.5 L120.2 363.5 L120.2 365.1 L124.0 365.1 L124.0 366.6 L127.9 366.6 L127.9 368.2 L131.7 368.2 L131.7 369.8 L135.5 369.8 L135.5 371.3 L139.3 371.3 L139.3 372.9 L143.2 372.9 L143.2 374.4 L147.0 374.4 L147.0 376.0" stroke="#6a6a6a" stroke-width="4.8" fill="none" stroke-linejoin="miter" opacity="0.55"/><path d="M85.8 351.0 L89.6 351.0 L89.6 352.6 L93.4 352.6 L93.4 354.1 L97.2 354.1 L97.2 355.7 L101.1 355.7 L101.1 357.2 L104.9 357.2 L104.9 358.8 L108.7 358.8 L108.7 360.4 L112.5 360.4 L112.5 361.9 L116.4 361.9 L116.4 363.5 L120.2 363.5 L120.2 365.1 L124.0 365.1 L124.0 366.6 L127.9 366.6 L127.9 368.2 L131.7 368.2 L131.7 369.8 L135.5 369.8 L135.5 371.3 L139.3 371.3 L139.3 372.9 L143.2 372.9 L143.2 374.4 L147.0 374.4 L147.0 376.0" stroke="#e2e2e2" stroke-width="3.2" fill="none" stroke-linejoin="miter" opacity="1"/><path d="M147.0 376.0 Q151.0 379.0 151.0 386.0" stroke="#bdbdbd" stroke-width="1.4" fill="none" stroke-dasharray="1.5 1.5"/><path d="M85.4 362.0 L89.3 362.0 L89.3 363.6 L93.2 363.6 L93.2 365.2 L97.1 365.2 L97.1 366.9 L101.0 366.9 L101.0 368.5 L104.9 368.5 L104.9 370.1 L108.8 370.1 L108.8 371.8 L112.8 371.8 L112.8 373.4 L116.7 373.4 L116.7 375.0 L120.6 375.0 L120.6 376.6 L124.5 376.6 L124.5 378.2 L128.4 378.2 L128.4 379.9 L132.3 379.9 L132.3 381.5 L136.3 381.5 L136.3 383.1 L140.2 383.1 L140.2 384.8 L144.1 384.8 L144.1 386.4 L148.0 386.4 L148.0 388.0" stroke="#6a6a6a" stroke-width="4.8" fill="none" stroke-linejoin="miter" opacity="0.55"/><path d="M85.4 362.0 L89.3 362.0 L89.3 363.6 L93.2 363.6 L93.2 365.2 L97.1 365.2 L97.1 366.9 L101.0 366.9 L101.0 368.5 L104.9 368.5 L104.9 370.1 L108.8 370.1 L108.8 371.8 L112.8 371.8 L112.8 373.4 L116.7 373.4 L116.7 375.0 L120.6 375.0 L120.6 376.6 L124.5 376.6 L124.5 378.2 L128.4 378.2 L128.4 379.9 L132.3 379.9 L132.3 381.5 L136.3 381.5 L136.3 383.1 L140.2 383.1 L140.2 384.8 L144.1 384.8 L144.1 386.4 L148.0 386.4 L148.0 388.0" stroke="#e2e2e2" stroke-width="3.2" fill="none" stroke-linejoin="miter" opacity="1"/><path d="M148.0 388.0 Q152.0 391.0 152.0 398.0" stroke="#bdbdbd" stroke-width="1.4" fill="none" stroke-dasharray="1.5 1.5"/><path d="M85.0 373.0 L88.9 373.0 L88.9 374.6 L92.8 374.6 L92.8 376.1 L96.8 376.1 L96.8 377.7 L100.7 377.7 L100.7 379.2 L104.7 379.2 L104.7 380.8 L108.6 380.8 L108.6 382.4 L112.5 382.4 L112.5 383.9 L116.5 383.9 L116.5 385.5 L120.4 385.5 L120.4 387.1 L124.4 387.1 L124.4 388.6 L128.3 388.6 L128.3 390.2 L132.2 390.2 L132.2 391.8 L136.2 391.8 L136.2 393.3 L140.1 393.3 L140.1 394.9 L144.1 394.9 L144.1 396.4 L148.0 396.4 L148.0 398.0" stroke="#6a6a6a" stroke-width="4.8" fill="none" stroke-linejoin="miter" opacity="0.55"/><path d="M85.0 373.0 L88.9 373.0 L88.9 374.6 L92.8 374.6 L92.8 376.1 L96.8 376.1 L96.8 377.7 L100.7 377.7 L100.7 379.2 L104.7 379.2 L104.7 380.8 L108.6 380.8 L108.6 382.4 L112.5 382.4 L112.5 383.9 L116.5 383.9 L116.5 385.5 L120.4 385.5 L120.4 387.1 L124.4 387.1 L124.4 388.6 L128.3 388.6 L128.3 390.2 L132.2 390.2 L132.2 391.8 L136.2 391.8 L136.2 393.3 L140.1 393.3 L140.1 394.9 L144.1 394.9 L144.1 396.4 L148.0 396.4 L148.0 398.0" stroke="#e2e2e2" stroke-width="3.2" fill="none" stroke-linejoin="miter" opacity="1"/><path d="M148.0 398.0 Q152.0 401.0 152.0 408.0" stroke="#bdbdbd" stroke-width="1.4" fill="none" stroke-dasharray="1.5 1.5"/><path d="M84.6 384.0 L88.5 384.0 L88.5 385.5 L92.5 385.5 L92.5 387.0 L96.5 387.0 L96.5 388.5 L100.4 388.5 L100.4 390.0 L104.4 390.0 L104.4 391.5 L108.4 391.5 L108.4 393.0 L112.3 393.0 L112.3 394.5 L116.3 394.5 L116.3 396.0 L120.2 396.0 L120.2 397.5 L124.2 397.5 L124.2 399.0 L128.2 399.0 L128.2 400.5 L132.1 400.5 L132.1 402.0 L136.1 402.0 L136.1 403.5 L140.1 403.5 L140.1 405.0 L144.0 405.0 L144.0 406.5 L148.0 406.5 L148.0 408.0" stroke="#6a6a6a" stroke-width="4.8" fill="none" stroke-linejoin="miter" opacity="0.55"/><path d="M84.6 384.0 L88.5 384.0 L88.5 385.5 L92.5 385.5 L92.5 387.0 L96.5 387.0 L96.5 388.5 L100.4 388.5 L100.4 390.0 L104.4 390.0 L104.4 391.5 L108.4 391.5 L108.4 393.0 L112.3 393.0 L112.3 394.5 L116.3 394.5 L116.3 396.0 L120.2 396.0 L120.2 397.5 L124.2 397.5 L124.2 399.0 L128.2 399.0 L128.2 400.5 L132.1 400.5 L132.1 402.0 L136.1 402.0 L136.1 403.5 L140.1 403.5 L140.1 405.0 L144.0 405.0 L144.0 406.5 L148.0 406.5 L148.0 408.0" stroke="#e2e2e2" stroke-width="3.2" fill="none" stroke-linejoin="miter" opacity="1"/><path d="M148.0 408.0 Q152.0 411.0 152.0 418.0" stroke="#bdbdbd" stroke-width="1.4" fill="none" stroke-dasharray="1.5 1.5"/><path d="M84.1 396.0 L88.1 396.0 L88.1 397.5 L92.0 397.5 L92.0 399.0 L95.9 399.0 L95.9 400.5 L99.9 400.5 L99.9 402.0 L103.8 402.0 L103.8 403.5 L107.7 403.5 L107.7 405.0 L111.6 405.0 L111.6 406.5 L115.6 406.5 L115.6 408.0 L119.5 408.0 L119.5 409.5 L123.4 409.5 L123.4 411.0 L127.4 411.0 L127.4 412.5 L131.3 412.5 L131.3 414.0 L135.2 414.0 L135.2 415.5 L139.1 415.5 L139.1 417.0 L143.1 417.0 L143.1 418.5 L147.0 418.5 L147.0 420.0" stroke="#6a6a6a" stroke-width="4.8" fill="none" stroke-linejoin="miter" opacity="0.55"/><path d="M84.1 396.0 L88.1 396.0 L88.1 397.5 L92.0 397.5 L92.0 399.0 L95.9 399.0 L95.9 400.5 L99.9 400.5 L99.9 402.0 L103.8 402.0 L103.8 403.5 L107.7 403.5 L107.7 405.0 L111.6 405.0 L111.6 406.5 L115.6 406.5 L115.6 408.0 L119.5 408.0 L119.5 409.5 L123.4 409.5 L123.4 411.0 L127.4 411.0 L127.4 412.5 L131.3 412.5 L131.3 414.0 L135.2 414.0 L135.2 415.5 L139.1 415.5 L139.1 417.0 L143.1 417.0 L143.1 418.5 L147.0 418.5 L147.0 420.0" stroke="#e2e2e2" stroke-width="3.2" fill="none" stroke-linejoin="miter" opacity="1"/><path d="M147.0 420.0 Q151.0 423.0 151.0 430.0" stroke="#bdbdbd" stroke-width="1.4" fill="none" stroke-dasharray="1.5 1.5"/><rect x="58" y="455" width="3" height="2.5" fill="#cfcfcf"/><rect x="60" y="466" width="3" height="2.5" fill="#cfcfcf"/><rect x="54" y="470" width="3" height="2.5" fill="#cfcfcf"/><rect x="95" y="452" width="3" height="2.5" fill="#cfcfcf"/><rect x="92" y="466" width="3" height="2.5" fill="#cfcfcf"/><rect x="99" y="470" width="3" height="2.5" fill="#cfcfcf"/><polygon points="73.0,302.0 69.0,400.0 77.0,477.0 97.0,477.0 85.5,400.0 89.0,302.0" fill="#dcdcdc"/><rect x="70.0" y="302.0" width="2.2" height="2.0" fill="#c8c8c8"/><rect x="82.8" y="302.0" width="2.2" height="1.6" fill="#7a7a7a"/><rect x="78.2" y="302.0" width="2.1" height="1.3" fill="#5a5a5a"/><rect x="71.2" y="305.0" width="2.2" height="2.6" fill="#c8c8c8"/><rect x="82.3" y="305.0" width="1.6" height="1.6" fill="#9a9a9a"/><rect x="75.2" y="308.0" width="2.3" height="2.2" fill="#7a7a7a"/><rect x="70.5" y="311.1" width="2.1" height="2.9" fill="#c8c8c8"/><rect x="80.1" y="311.1" width="1.8" height="2.1" fill="#f4f4f4"/><rect x="79.1" y="311.1" width="2.7" height="1.7" fill="#5a5a5a"/><rect x="87.3" y="314.1" width="3.3" height="1.7" fill="#c8c8c8"/><rect x="79.1" y="314.1" width="2.4" height="2.2" fill="#5a5a5a"/><rect x="75.7" y="314.1" width="2.2" height="1.7" fill="#5a5a5a"/><rect x="87.9" y="317.1" width="1.9" height="2.9" fill="#c8c8c8"/><rect x="80.3" y="317.1" width="1.9" height="2.0" fill="#f4f4f4"/><rect x="70.1" y="320.1" width="2.7" height="2.4" fill="#c8c8c8"/><rect x="79.1" y="320.1" width="2.6" height="2.1" fill="#f4f4f4"/><rect x="81.7" y="320.1" width="1.7" height="1.4" fill="#5a5a5a"/><rect x="88.2" y="323.1" width="2.8" height="2.1" fill="#c8c8c8"/><rect x="78.5" y="323.1" width="2.8" height="1.3" fill="#f4f4f4"/><rect x="73.2" y="323.1" width="2.7" height="1.4" fill="#5a5a5a"/><rect x="68.6" y="326.1" width="3.0" height="1.5" fill="#c8c8c8"/><rect x="80.7" y="326.1" width="1.7" height="2.3" fill="#9a9a9a"/><rect x="78.5" y="329.2" width="2.1" height="1.9" fill="#7a7a7a"/><rect x="87.8" y="332.2" width="2.1" height="2.7" fill="#c8c8c8"/><rect x="81.8" y="332.2" width="1.3" height="1.5" fill="#7a7a7a"/><rect x="69.0" y="335.2" width="3.4" height="2.5" fill="#c8c8c8"/><rect x="82.7" y="335.2" width="1.3" height="2.3" fill="#9a9a9a"/><rect x="78.9" y="338.2" width="1.3" height="2.3" fill="#9a9a9a"/><rect x="76.1" y="338.2" width="2.2" height="2.0" fill="#7a7a7a"/><rect x="68.1" y="341.2" width="3.7" height="3.0" fill="#c8c8c8"/><rect x="86.2" y="341.2" width="2.2" height="2.8" fill="#c8c8c8"/><rect x="75.5" y="341.2" width="2.8" height="2.4" fill="#5a5a5a"/><rect x="69.5" y="344.2" width="3.5" height="2.7" fill="#c8c8c8"/><rect x="79.9" y="344.2" width="2.8" height="2.0" fill="#9a9a9a"/><rect x="78.1" y="347.3" width="2.2" height="2.0" fill="#5a5a5a"/><rect x="69.3" y="350.3" width="2.1" height="1.8" fill="#c8c8c8"/><rect x="83.1" y="350.3" width="2.5" height="2.1" fill="#f4f4f4"/><rect x="74.4" y="350.3" width="2.3" height="1.4" fill="#f4f4f4"/><rect x="68.7" y="353.3" width="2.2" height="2.6" fill="#c8c8c8"/><rect x="73.0" y="353.3" width="2.1" height="1.6" fill="#7a7a7a"/><rect x="68.4" y="356.3" width="4.0" height="1.7" fill="#c8c8c8"/><rect x="86.6" y="356.3" width="3.3" height="2.5" fill="#c8c8c8"/><rect x="75.0" y="356.3" width="2.3" height="1.7" fill="#f4f4f4"/><rect x="75.1" y="359.3" width="2.7" height="1.3" fill="#7a7a7a"/><rect x="76.4" y="359.3" width="2.8" height="2.0" fill="#5a5a5a"/><rect x="80.2" y="362.3" width="1.6" height="1.3" fill="#f4f4f4"/><rect x="74.0" y="362.3" width="2.5" height="1.8" fill="#9a9a9a"/><rect x="68.5" y="365.4" width="2.9" height="1.8" fill="#c8c8c8"/><rect x="85.5" y="365.4" width="1.8" height="1.8" fill="#c8c8c8"/><rect x="82.1" y="365.4" width="3.0" height="2.0" fill="#f4f4f4"/><rect x="76.9" y="365.4" width="1.5" height="1.3" fill="#7a7a7a"/><rect x="86.0" y="368.4" width="2.6" height="2.9" fill="#c8c8c8"/><rect x="79.7" y="368.4" width="2.5" height="1.9" fill="#7a7a7a"/><rect x="68.0" y="371.4" width="2.4" height="1.6" fill="#c8c8c8"/><rect x="86.4" y="371.4" width="2.3" height="2.4" fill="#c8c8c8"/><rect x="79.5" y="371.4" width="2.3" height="1.6" fill="#5a5a5a"/><rect x="82.1" y="371.4" width="2.7" height="1.3" fill="#5a5a5a"/><rect x="85.4" y="374.4" width="3.1" height="2.5" fill="#c8c8c8"/><rect x="81.7" y="374.4" width="2.9" height="2.3" fill="#7a7a7a"/><rect x="79.6" y="374.4" width="1.9" height="1.7" fill="#5a5a5a"/><rect x="85.0" y="377.4" width="1.7" height="2.8" fill="#c8c8c8"/><rect x="80.5" y="377.4" width="2.2" height="1.3" fill="#7a7a7a"/><rect x="74.2" y="377.4" width="1.5" height="1.3" fill="#f4f4f4"/><rect x="85.5" y="380.4" width="2.1" height="2.6" fill="#c8c8c8"/><rect x="76.4" y="380.4" width="2.4" height="2.3" fill="#5a5a5a"/><rect x="76.3" y="380.4" width="1.5" height="2.0" fill="#9a9a9a"/><rect x="85.1" y="383.5" width="3.4" height="1.6" fill="#c8c8c8"/><rect x="73.2" y="383.5" width="1.5" height="1.9" fill="#7a7a7a"/><rect x="80.8" y="383.5" width="1.5" height="1.7" fill="#5a5a5a"/><rect x="67.4" y="386.5" width="3.0" height="2.5" fill="#c8c8c8"/><rect x="72.3" y="386.5" width="2.2" height="1.6" fill="#9a9a9a"/><rect x="72.3" y="386.5" width="1.9" height="2.3" fill="#f4f4f4"/><rect x="66.4" y="389.5" width="2.0" height="3.0" fill="#c8c8c8"/><rect x="76.7" y="389.5" width="1.2" height="1.9" fill="#7a7a7a"/><rect x="67.0" y="392.5" width="3.8" height="2.8" fill="#c8c8c8"/><rect x="85.1" y="392.5" width="2.3" height="2.9" fill="#c8c8c8"/><rect x="71.0" y="392.5" width="1.4" height="1.8" fill="#9a9a9a"/><rect x="68.1" y="395.5" width="2.1" height="2.1" fill="#c8c8c8"/><rect x="85.4" y="395.5" width="2.9" height="1.6" fill="#c8c8c8"/><rect x="73.9" y="395.5" width="2.9" height="1.3" fill="#9a9a9a"/><rect x="76.5" y="395.5" width="2.3" height="2.2" fill="#7a7a7a"/><rect x="66.9" y="398.6" width="2.5" height="2.2" fill="#c8c8c8"/><rect x="73.0" y="398.6" width="1.5" height="1.6" fill="#5a5a5a"/><rect x="73.1" y="398.6" width="1.7" height="1.6" fill="#f4f4f4"/><rect x="84.6" y="401.6" width="3.0" height="1.7" fill="#c8c8c8"/><rect x="85.2" y="404.6" width="3.5" height="2.4" fill="#c8c8c8"/><rect x="81.7" y="404.6" width="2.3" height="1.3" fill="#7a7a7a"/><rect x="81.2" y="404.6" width="1.6" height="2.3" fill="#5a5a5a"/><rect x="77.5" y="407.6" width="1.6" height="1.4" fill="#9a9a9a"/><rect x="72.5" y="410.6" width="1.9" height="1.7" fill="#9a9a9a"/><rect x="68.7" y="413.6" width="3.9" height="2.7" fill="#c8c8c8"/><rect x="87.0" y="413.6" width="3.5" height="2.8" fill="#c8c8c8"/><rect x="72.7" y="413.6" width="1.6" height="2.3" fill="#f4f4f4"/><rect x="69.2" y="416.7" width="2.7" height="2.7" fill="#c8c8c8"/><rect x="86.5" y="416.7" width="1.5" height="3.0" fill="#c8c8c8"/><rect x="81.7" y="416.7" width="2.9" height="1.5" fill="#f4f4f4"/><rect x="69.4" y="419.7" width="3.6" height="2.9" fill="#c8c8c8"/><rect x="88.4" y="419.7" width="2.0" height="2.0" fill="#c8c8c8"/><rect x="73.1" y="419.7" width="2.5" height="1.7" fill="#f4f4f4"/><rect x="72.5" y="419.7" width="1.3" height="1.3" fill="#f4f4f4"/><rect x="87.6" y="422.7" width="1.7" height="2.7" fill="#c8c8c8"/><rect x="82.9" y="422.7" width="8.8" height="3.2" fill="#0a0a0a"/><rect x="68.2" y="425.7" width="3.3" height="1.8" fill="#c8c8c8"/><rect x="81.3" y="425.7" width="2.7" height="1.7" fill="#9a9a9a"/><rect x="89.2" y="428.7" width="3.3" height="2.9" fill="#c8c8c8"/><rect x="80.3" y="428.7" width="2.6" height="1.5" fill="#9a9a9a"/><rect x="69.4" y="431.7" width="3.0" height="2.0" fill="#c8c8c8"/><rect x="89.4" y="431.7" width="1.5" height="1.9" fill="#c8c8c8"/><rect x="69.8" y="434.8" width="3.6" height="2.6" fill="#c8c8c8"/><rect x="89.8" y="434.8" width="3.5" height="1.7" fill="#c8c8c8"/><rect x="79.7" y="434.8" width="1.5" height="2.2" fill="#9a9a9a"/><rect x="84.7" y="434.8" width="8.0" height="4.0" fill="#0a0a0a"/><rect x="73.6" y="436.8" width="3.3" height="3" fill="#1a1a1a"/><rect x="85.0" y="437.8" width="2.2" height="2.0" fill="#5a5a5a"/><rect x="74.3" y="437.8" width="2.0" height="1.8" fill="#f4f4f4"/><rect x="82.3" y="440.8" width="2.8" height="2.1" fill="#f4f4f4"/><rect x="80.2" y="440.8" width="2.5" height="1.4" fill="#f4f4f4"/><rect x="71.7" y="443.8" width="3.6" height="2.9" fill="#c8c8c8"/><rect x="78.4" y="443.8" width="1.7" height="1.2" fill="#5a5a5a"/><rect x="85.2" y="443.8" width="2.8" height="1.6" fill="#9a9a9a"/><rect x="92.1" y="446.8" width="2.5" height="1.8" fill="#c8c8c8"/><rect x="86.5" y="446.8" width="6.9" height="4.1" fill="#0a0a0a"/><rect x="76.0" y="449.8" width="2.1" height="2.3" fill="#f4f4f4"/><rect x="76.2" y="449.8" width="2.1" height="1.6" fill="#7a7a7a"/><rect x="72.0" y="452.9" width="3.3" height="1.5" fill="#c8c8c8"/><rect x="83.6" y="452.9" width="2.5" height="1.9" fill="#7a7a7a"/><rect x="80.6" y="452.9" width="2.4" height="1.2" fill="#7a7a7a"/><rect x="82.4" y="458.9" width="2.3" height="1.5" fill="#f4f4f4"/><rect x="86.8" y="458.9" width="3.0" height="1.2" fill="#5a5a5a"/><rect x="88.3" y="458.9" width="7.1" height="4.2" fill="#0a0a0a"/><rect x="76.1" y="460.9" width="4.2" height="3" fill="#1a1a1a"/><rect x="93.4" y="461.9" width="1.9" height="2.9" fill="#c8c8c8"/><rect x="89.6" y="461.9" width="1.5" height="1.5" fill="#7a7a7a"/><rect x="73.3" y="464.9" width="2.6" height="3.0" fill="#c8c8c8"/><rect x="94.6" y="464.9" width="2.7" height="1.6" fill="#c8c8c8"/><rect x="80.3" y="464.9" width="1.2" height="2.1" fill="#7a7a7a"/><rect x="85.0" y="464.9" width="2.0" height="1.2" fill="#9a9a9a"/><rect x="80.4" y="467.9" width="2.0" height="1.7" fill="#9a9a9a"/><rect x="83.6" y="467.9" width="2.7" height="2.3" fill="#7a7a7a"/><rect x="89.7" y="471.0" width="2.0" height="2.0" fill="#f4f4f4"/><rect x="86.5" y="471.0" width="1.3" height="1.3" fill="#9a9a9a"/><rect x="90.1" y="471.0" width="5.7" height="3.0" fill="#0a0a0a"/><rect x="75.5" y="474.0" width="2.2" height="2.6" fill="#c8c8c8"/><rect x="95.3" y="474.0" width="3.0" height="2.0" fill="#c8c8c8"/><rect x="89.2" y="474.0" width="2.4" height="1.4" fill="#5a5a5a"/><path d="M99.4 374.4 C101.9 372.5 107.2 369.8 111.0 368.7 C114.8 367.6 118.7 367.6 122.5 368.0 C126.3 368.4 130.6 369.0 134.0 370.8 C137.4 372.6 140.5 375.8 142.7 378.8 C144.9 381.8 146.0 384.7 147.0 388.8 C148.0 392.9 148.1 398.5 148.5 403.3 C148.9 408.1 149.2 413.4 149.2 417.7 C149.2 422.0 149.1 425.8 148.5 429.2 C147.9 432.6 147.0 435.7 145.6 437.9 C144.2 440.1 142.5 441.5 139.8 442.2 C137.2 442.9 132.6 443.2 129.7 442.2 C126.8 441.2 124.7 438.8 122.5 436.4 C120.3 434.0 119.1 431.1 116.7 427.8 C114.3 424.5 110.9 419.7 108.0 416.3 C105.1 412.9 101.4 410.5 99.4 407.6 C97.4 404.7 96.5 402.0 95.8 398.9 C95.1 395.8 95.0 391.9 95.0 388.8 C95.0 385.7 95.1 382.6 95.8 380.2 C96.5 377.8 96.9 376.3 99.4 374.4 Z" fill="#4cb335"/><path d="M105.8 376.9 Q127.5 373.9 138.4 386.6 Q141.1 405.1 127.5 419.9 Q122.1 431.1 128.6 438.5" stroke="#2a7f22" stroke-width="1.2" fill="none"/><path d="M119.4 390.3 Q122.1 401.4 117.8 411.0" stroke="#2f8a27" stroke-width="1.2" fill="none"/></g><rect x="5" y="306.8" width="18.3" height="20.8" fill="#fff"/><text x="13.4" y="323.6" font-size="18" text-anchor="middle" fill="#111" font-weight="bold" >C</text>
<clipPath id="cpD"><rect x="170" y="302" width="162" height="175"/></clipPath><g clip-path="url(#cpD)"><rect x="170" y="302" width="162" height="175" fill="#060606"/><path d="M174 302 L180 302 L179 346 L175 346 Z" fill="#bcbcbc"/><path d="M311 302 L320 302 L319 346 L313 346 Z" fill="#cfcfcf"/><path d="M286 312 L304 306 L310 330 L304 346 L292 336 Z" fill="#9a9a9a"/><path d="M190 302 L230 302 L222 322 L204 338 L194 346 L190 330 Z" fill="#8e8e8e"/><path d="M196 318 Q187 360 190 420 Q194 440 203 446" stroke="#bdbdbd" stroke-width="1.3" fill="none" stroke-dasharray="1.6 1.4"/><path d="M316 345 Q324 390 320 438" stroke="#bdbdbd" stroke-width="1.3" fill="none" stroke-dasharray="1.6 1.4"/><path d="M243.5 306.0 L239.4 306.0 L239.4 307.2 L235.3 307.2 L235.3 308.5 L231.1 308.5 L231.1 309.7 L227.0 309.7 L227.0 311.0 L222.8 311.0 L222.8 312.2 L218.7 312.2 L218.7 313.5 L214.6 313.5 L214.6 314.7 L210.4 314.7 L210.4 315.9 L206.3 315.9 L206.3 317.2 L202.1 317.2 L202.1 318.4 L198.0 318.4 L198.0 319.7" stroke="#6a6a6a" stroke-width="4.9" fill="none" stroke-linejoin="miter" opacity="0.55"/><path d="M243.5 306.0 L239.4 306.0 L239.4 307.2 L235.3 307.2 L235.3 308.5 L231.1 308.5 L231.1 309.7 L227.0 309.7 L227.0 311.0 L222.8 311.0 L222.8 312.2 L218.7 312.2 L218.7 313.5 L214.6 313.5 L214.6 314.7 L210.4 314.7 L210.4 315.9 L206.3 315.9 L206.3 317.2 L202.1 317.2 L202.1 318.4 L198.0 318.4 L198.0 319.7" stroke="#e2e2e2" stroke-width="3.3" fill="none" stroke-linejoin="miter" opacity="1"/><path d="M198.0 319.7 Q192.0 322.7 192.0 331.7" stroke="#bdbdbd" stroke-width="1.4" fill="none" stroke-dasharray="1.5 1.5"/><path d="M242.7 319.0 L238.9 319.0 L238.9 320.3 L235.1 320.3 L235.1 321.5 L231.3 321.5 L231.3 322.8 L227.4 322.8 L227.4 324.0 L223.6 324.0 L223.6 325.3 L219.8 325.3 L219.8 326.5 L216.0 326.5 L216.0 327.8 L212.2 327.8 L212.2 329.0 L208.4 329.0 L208.4 330.3 L204.6 330.3 L204.6 331.6 L200.8 331.6 L200.8 332.8 L197.0 332.8 L197.0 334.1" stroke="#6a6a6a" stroke-width="4.9" fill="none" stroke-linejoin="miter" opacity="0.55"/><path d="M242.7 319.0 L238.9 319.0 L238.9 320.3 L235.1 320.3 L235.1 321.5 L231.3 321.5 L231.3 322.8 L227.4 322.8 L227.4 324.0 L223.6 324.0 L223.6 325.3 L219.8 325.3 L219.8 326.5 L216.0 326.5 L216.0 327.8 L212.2 327.8 L212.2 329.0 L208.4 329.0 L208.4 330.3 L204.6 330.3 L204.6 331.6 L200.8 331.6 L200.8 332.8 L197.0 332.8 L197.0 334.1" stroke="#e2e2e2" stroke-width="3.3" fill="none" stroke-linejoin="miter" opacity="1"/><path d="M197.0 334.1 Q191.0 337.1 191.0 346.1" stroke="#bdbdbd" stroke-width="1.4" fill="none" stroke-dasharray="1.5 1.5"/><path d="M241.7 333.0 L237.9 333.0 L237.9 334.4 L234.1 334.4 L234.1 335.7 L230.3 335.7 L230.3 337.1 L226.5 337.1 L226.5 338.5 L222.7 338.5 L222.7 339.9 L218.9 339.9 L218.9 341.2 L215.1 341.2 L215.1 342.6 L211.2 342.6 L211.2 344.0 L207.4 344.0 L207.4 345.4 L203.6 345.4 L203.6 346.7 L199.8 346.7 L199.8 348.1 L196.0 348.1 L196.0 349.5" stroke="#6a6a6a" stroke-width="4.9" fill="none" stroke-linejoin="miter" opacity="0.55"/><path d="M241.7 333.0 L237.9 333.0 L237.9 334.4 L234.1 334.4 L234.1 335.7 L230.3 335.7 L230.3 337.1 L226.5 337.1 L226.5 338.5 L222.7 338.5 L222.7 339.9 L218.9 339.9 L218.9 341.2 L215.1 341.2 L215.1 342.6 L211.2 342.6 L211.2 344.0 L207.4 344.0 L207.4 345.4 L203.6 345.4 L203.6 346.7 L199.8 346.7 L199.8 348.1 L196.0 348.1 L196.0 349.5" stroke="#e2e2e2" stroke-width="3.3" fill="none" stroke-linejoin="miter" opacity="1"/><path d="M196.0 349.5 Q190.0 352.5 190.0 361.5" stroke="#bdbdbd" stroke-width="1.4" fill="none" stroke-dasharray="1.5 1.5"/><path d="M240.9 346.0 L237.1 346.0 L237.1 347.5 L233.2 347.5 L233.2 349.1 L229.4 349.1 L229.4 350.6 L225.6 350.6 L225.6 352.1 L221.8 352.1 L221.8 353.6 L217.9 353.6 L217.9 355.2 L214.1 355.2 L214.1 356.7 L210.3 356.7 L210.3 358.2 L206.5 358.2 L206.5 359.8 L202.6 359.8 L202.6 361.3 L198.8 361.3 L198.8 362.8 L195.0 362.8 L195.0 364.4" stroke="#6a6a6a" stroke-width="4.9" fill="none" stroke-linejoin="miter" opacity="0.55"/><path d="M240.9 346.0 L237.1 346.0 L237.1 347.5 L233.2 347.5 L233.2 349.1 L229.4 349.1 L229.4 350.6 L225.6 350.6 L225.6 352.1 L221.8 352.1 L221.8 353.6 L217.9 353.6 L217.9 355.2 L214.1 355.2 L214.1 356.7 L210.3 356.7 L210.3 358.2 L206.5 358.2 L206.5 359.8 L202.6 359.8 L202.6 361.3 L198.8 361.3 L198.8 362.8 L195.0 362.8 L195.0 364.4" stroke="#e2e2e2" stroke-width="3.3" fill="none" stroke-linejoin="miter" opacity="1"/><path d="M195.0 364.4 Q189.0 367.4 189.0 376.4" stroke="#bdbdbd" stroke-width="1.4" fill="none" stroke-dasharray="1.5 1.5"/><path d="M240.0 359.0 L236.2 359.0 L236.2 360.7 L232.4 360.7 L232.4 362.5 L228.5 362.5 L228.5 364.2 L224.7 364.2 L224.7 365.9 L220.8 365.9 L220.8 367.6 L217.0 367.6 L217.0 369.4 L213.2 369.4 L213.2 371.1 L209.3 371.1 L209.3 372.8 L205.5 372.8 L205.5 374.5 L201.7 374.5 L201.7 376.3 L197.8 376.3 L197.8 378.0 L194.0 378.0 L194.0 379.7" stroke="#6a6a6a" stroke-width="4.9" fill="none" stroke-linejoin="miter" opacity="0.55"/><path d="M240.0 359.0 L236.2 359.0 L236.2 360.7 L232.4 360.7 L232.4 362.5 L228.5 362.5 L228.5 364.2 L224.7 364.2 L224.7 365.9 L220.8 365.9 L220.8 367.6 L217.0 367.6 L217.0 369.4 L213.2 369.4 L213.2 371.1 L209.3 371.1 L209.3 372.8 L205.5 372.8 L205.5 374.5 L201.7 374.5 L201.7 376.3 L197.8 376.3 L197.8 378.0 L194.0 378.0 L194.0 379.7" stroke="#e2e2e2" stroke-width="3.3" fill="none" stroke-linejoin="miter" opacity="1"/><path d="M194.0 379.7 Q188.0 382.7 188.0 391.7" stroke="#bdbdbd" stroke-width="1.4" fill="none" stroke-dasharray="1.5 1.5"/><path d="M239.2 372.0 L235.5 372.0 L235.5 373.8 L231.9 373.8 L231.9 375.6 L228.3 375.6 L228.3 377.4 L224.7 377.4 L224.7 379.3 L221.0 379.3 L221.0 381.1 L217.4 381.1 L217.4 382.9 L213.8 382.9 L213.8 384.7 L210.1 384.7 L210.1 386.5 L206.5 386.5 L206.5 388.3 L202.9 388.3 L202.9 390.1 L199.3 390.1 L199.3 392.0 L195.6 392.0 L195.6 393.8 L192.0 393.8 L192.0 395.6" stroke="#6a6a6a" stroke-width="4.9" fill="none" stroke-linejoin="miter" opacity="0.55"/><path d="M239.2 372.0 L235.5 372.0 L235.5 373.8 L231.9 373.8 L231.9 375.6 L228.3 375.6 L228.3 377.4 L224.7 377.4 L224.7 379.3 L221.0 379.3 L221.0 381.1 L217.4 381.1 L217.4 382.9 L213.8 382.9 L213.8 384.7 L210.1 384.7 L210.1 386.5 L206.5 386.5 L206.5 388.3 L202.9 388.3 L202.9 390.1 L199.3 390.1 L199.3 392.0 L195.6 392.0 L195.6 393.8 L192.0 393.8 L192.0 395.6" stroke="#e2e2e2" stroke-width="3.3" fill="none" stroke-linejoin="miter" opacity="1"/><path d="M192.0 395.6 Q186.0 398.6 186.0 407.6" stroke="#bdbdbd" stroke-width="1.4" fill="none" stroke-dasharray="1.5 1.5"/><path d="M238.6 383.0 L234.9 383.0 L234.9 385.0 L231.1 385.0 L231.1 387.0 L227.4 387.0 L227.4 389.1 L223.7 389.1 L223.7 391.1 L219.9 391.1 L219.9 393.1 L216.2 393.1 L216.2 395.1 L212.4 395.1 L212.4 397.1 L208.7 397.1 L208.7 399.2 L205.0 399.2 L205.0 401.2 L201.2 401.2 L201.2 403.2 L197.5 403.2 L197.5 405.2 L193.7 405.2 L193.7 407.2 L190.0 407.2 L190.0 409.3" stroke="#6a6a6a" stroke-width="4.9" fill="none" stroke-linejoin="miter" opacity="0.55"/><path d="M238.6 383.0 L234.9 383.0 L234.9 385.0 L231.1 385.0 L231.1 387.0 L227.4 387.0 L227.4 389.1 L223.7 389.1 L223.7 391.1 L219.9 391.1 L219.9 393.1 L216.2 393.1 L216.2 395.1 L212.4 395.1 L212.4 397.1 L208.7 397.1 L208.7 399.2 L205.0 399.2 L205.0 401.2 L201.2 401.2 L201.2 403.2 L197.5 403.2 L197.5 405.2 L193.7 405.2 L193.7 407.2 L190.0 407.2 L190.0 409.3" stroke="#e2e2e2" stroke-width="3.3" fill="none" stroke-linejoin="miter" opacity="1"/><path d="M190.0 409.3 Q184.0 412.3 184.0 421.3" stroke="#bdbdbd" stroke-width="1.4" fill="none" stroke-dasharray="1.5 1.5"/><path d="M240.3 396.0 L236.8 396.0 L236.8 398.1 L233.4 398.1 L233.4 400.1 L229.9 400.1 L229.9 402.2 L226.5 402.2 L226.5 404.3 L223.0 404.3 L223.0 406.3 L219.6 406.3 L219.6 408.4 L216.1 408.4 L216.1 410.5 L212.7 410.5 L212.7 412.5 L209.2 412.5 L209.2 414.6 L205.8 414.6 L205.8 416.7 L202.3 416.7 L202.3 418.8 L198.9 418.8 L198.9 420.8 L195.4 420.8 L195.4 422.9 L192.0 422.9 L192.0 425.0" stroke="#6a6a6a" stroke-width="4.9" fill="none" stroke-linejoin="miter" opacity="0.55"/><path d="M240.3 396.0 L236.8 396.0 L236.8 398.1 L233.4 398.1 L233.4 400.1 L229.9 400.1 L229.9 402.2 L226.5 402.2 L226.5 404.3 L223.0 404.3 L223.0 406.3 L219.6 406.3 L219.6 408.4 L216.1 408.4 L216.1 410.5 L212.7 410.5 L212.7 412.5 L209.2 412.5 L209.2 414.6 L205.8 414.6 L205.8 416.7 L202.3 416.7 L202.3 418.8 L198.9 418.8 L198.9 420.8 L195.4 420.8 L195.4 422.9 L192.0 422.9 L192.0 425.0" stroke="#e2e2e2" stroke-width="3.3" fill="none" stroke-linejoin="miter" opacity="1"/><path d="M192.0 425.0 Q186.0 428.0 186.0 437.0" stroke="#bdbdbd" stroke-width="1.4" fill="none" stroke-dasharray="1.5 1.5"/><path d="M242.2 411.0 L239.4 411.0 L239.4 414.1 L236.6 414.1 L236.6 417.2 L233.8 417.2 L233.8 420.2 L231.0 420.2 L231.0 423.3 L228.2 423.3 L228.2 426.4 L225.4 426.4 L225.4 429.5 L222.6 429.5 L222.6 432.5 L219.8 432.5 L219.8 435.6 L217.0 435.6 L217.0 438.7 L214.2 438.7 L214.2 441.8 L211.4 441.8 L211.4 444.8 L208.6 444.8 L208.6 447.9 L205.8 447.9 L205.8 451.0 L203.0 451.0 L203.0 454.1" stroke="#6a6a6a" stroke-width="4.9" fill="none" stroke-linejoin="miter" opacity="0.55"/><path d="M242.2 411.0 L239.4 411.0 L239.4 414.1 L236.6 414.1 L236.6 417.2 L233.8 417.2 L233.8 420.2 L231.0 420.2 L231.0 423.3 L228.2 423.3 L228.2 426.4 L225.4 426.4 L225.4 429.5 L222.6 429.5 L222.6 432.5 L219.8 432.5 L219.8 435.6 L217.0 435.6 L217.0 438.7 L214.2 438.7 L214.2 441.8 L211.4 441.8 L211.4 444.8 L208.6 444.8 L208.6 447.9 L205.8 447.9 L205.8 451.0 L203.0 451.0 L203.0 454.1" stroke="#e2e2e2" stroke-width="3.3" fill="none" stroke-linejoin="miter" opacity="1"/><path d="M203.0 454.1 Q197.0 457.1 197.0 466.1" stroke="#bdbdbd" stroke-width="1.4" fill="none" stroke-dasharray="1.5 1.5"/><path d="M255.4 305.0 L259.4 305.0 L259.4 306.2 L263.5 306.2 L263.5 307.5 L267.6 307.5 L267.6 308.8 L271.7 308.8 L271.7 310.0 L275.8 310.0 L275.8 311.2 L279.8 311.2 L279.8 312.5 L283.9 312.5 L283.9 313.8 L288.0 313.8 L288.0 315.0" stroke="#6a6a6a" stroke-width="4.8" fill="none" stroke-linejoin="miter" opacity="0.55"/><path d="M255.4 305.0 L259.4 305.0 L259.4 306.2 L263.5 306.2 L263.5 307.5 L267.6 307.5 L267.6 308.8 L271.7 308.8 L271.7 310.0 L275.8 310.0 L275.8 311.2 L279.8 311.2 L279.8 312.5 L283.9 312.5 L283.9 313.8 L288.0 313.8 L288.0 315.0" stroke="#e2e2e2" stroke-width="3.2" fill="none" stroke-linejoin="miter" opacity="1"/><path d="M288.0 315.0 Q292.0 318.0 292.0 325.0" stroke="#bdbdbd" stroke-width="1.4" fill="none" stroke-dasharray="1.5 1.5"/><path d="M254.9 315.0 L258.9 315.0 L258.9 316.3 L262.9 316.3 L262.9 317.7 L266.9 317.7 L266.9 319.0 L270.9 319.0 L270.9 320.3 L274.9 320.3 L274.9 321.7 L278.9 321.7 L278.9 323.0 L282.9 323.0 L282.9 324.3 L286.9 324.3 L286.9 325.7 L291.0 325.7 L291.0 327.0 L295.0 327.0 L295.0 328.3 L299.0 328.3 L299.0 329.7 L303.0 329.7 L303.0 331.0" stroke="#6a6a6a" stroke-width="4.8" fill="none" stroke-linejoin="miter" opacity="0.55"/><path d="M254.9 315.0 L258.9 315.0 L258.9 316.3 L262.9 316.3 L262.9 317.7 L266.9 317.7 L266.9 319.0 L270.9 319.0 L270.9 320.3 L274.9 320.3 L274.9 321.7 L278.9 321.7 L278.9 323.0 L282.9 323.0 L282.9 324.3 L286.9 324.3 L286.9 325.7 L291.0 325.7 L291.0 327.0 L295.0 327.0 L295.0 328.3 L299.0 328.3 L299.0 329.7 L303.0 329.7 L303.0 331.0" stroke="#e2e2e2" stroke-width="3.2" fill="none" stroke-linejoin="miter" opacity="1"/><path d="M303.0 331.0 Q307.0 334.0 307.0 341.0" stroke="#bdbdbd" stroke-width="1.4" fill="none" stroke-dasharray="1.5 1.5"/><path d="M254.3 326.0 L258.3 326.0 L258.3 327.4 L262.3 327.4 L262.3 328.7 L266.2 328.7 L266.2 330.1 L270.2 330.1 L270.2 331.4 L274.2 331.4 L274.2 332.8 L278.2 332.8 L278.2 334.1 L282.1 334.1 L282.1 335.5 L286.1 335.5 L286.1 336.9 L290.1 336.9 L290.1 338.2 L294.1 338.2 L294.1 339.6 L298.1 339.6 L298.1 340.9 L302.0 340.9 L302.0 342.3 L306.0 342.3 L306.0 343.6 L310.0 343.6 L310.0 345.0" stroke="#6a6a6a" stroke-width="4.8" fill="none" stroke-linejoin="miter" opacity="0.55"/><path d="M254.3 326.0 L258.3 326.0 L258.3 327.4 L262.3 327.4 L262.3 328.7 L266.2 328.7 L266.2 330.1 L270.2 330.1 L270.2 331.4 L274.2 331.4 L274.2 332.8 L278.2 332.8 L278.2 334.1 L282.1 334.1 L282.1 335.5 L286.1 335.5 L286.1 336.9 L290.1 336.9 L290.1 338.2 L294.1 338.2 L294.1 339.6 L298.1 339.6 L298.1 340.9 L302.0 340.9 L302.0 342.3 L306.0 342.3 L306.0 343.6 L310.0 343.6 L310.0 345.0" stroke="#e2e2e2" stroke-width="3.2" fill="none" stroke-linejoin="miter" opacity="1"/><path d="M310.0 345.0 Q314.0 348.0 314.0 355.0" stroke="#bdbdbd" stroke-width="1.4" fill="none" stroke-dasharray="1.5 1.5"/><path d="M253.8 335.0 L257.8 335.0 L257.8 336.5 L261.7 336.5 L261.7 337.9 L265.7 337.9 L265.7 339.4 L269.6 339.4 L269.6 340.9 L273.6 340.9 L273.6 342.3 L277.5 342.3 L277.5 343.8 L281.5 343.8 L281.5 345.3 L285.4 345.3 L285.4 346.7 L289.3 346.7 L289.3 348.2 L293.3 348.2 L293.3 349.7 L297.2 349.7 L297.2 351.1 L301.2 351.1 L301.2 352.6 L305.1 352.6 L305.1 354.1 L309.1 354.1 L309.1 355.5 L313.0 355.5 L313.0 357.0" stroke="#6a6a6a" stroke-width="4.8" fill="none" stroke-linejoin="miter" opacity="0.55"/><path d="M253.8 335.0 L257.8 335.0 L257.8 336.5 L261.7 336.5 L261.7 337.9 L265.7 337.9 L265.7 339.4 L269.6 339.4 L269.6 340.9 L273.6 340.9 L273.6 342.3 L277.5 342.3 L277.5 343.8 L281.5 343.8 L281.5 345.3 L285.4 345.3 L285.4 346.7 L289.3 346.7 L289.3 348.2 L293.3 348.2 L293.3 349.7 L297.2 349.7 L297.2 351.1 L301.2 351.1 L301.2 352.6 L305.1 352.6 L305.1 354.1 L309.1 354.1 L309.1 355.5 L313.0 355.5 L313.0 357.0" stroke="#e2e2e2" stroke-width="3.2" fill="none" stroke-linejoin="miter" opacity="1"/><path d="M313.0 357.0 Q317.0 360.0 317.0 367.0" stroke="#bdbdbd" stroke-width="1.4" fill="none" stroke-dasharray="1.5 1.5"/><path d="M253.4 344.0 L257.3 344.0 L257.3 345.2 L261.2 345.2 L261.2 346.4 L265.1 346.4 L265.1 347.6 L269.1 347.6 L269.1 348.8 L273.0 348.8 L273.0 349.9 L276.9 349.9 L276.9 351.1 L280.8 351.1 L280.8 352.3 L284.7 352.3 L284.7 353.5 L288.6 353.5 L288.6 354.7 L292.5 354.7 L292.5 355.9 L296.4 355.9 L296.4 357.1 L300.4 357.1 L300.4 358.2 L304.3 358.2 L304.3 359.4 L308.2 359.4 L308.2 360.6 L312.1 360.6 L312.1 361.8 L316.0 361.8 L316.0 363.0" stroke="#6a6a6a" stroke-width="4.8" fill="none" stroke-linejoin="miter" opacity="0.55"/><path d="M253.4 344.0 L257.3 344.0 L257.3 345.2 L261.2 345.2 L261.2 346.4 L265.1 346.4 L265.1 347.6 L269.1 347.6 L269.1 348.8 L273.0 348.8 L273.0 349.9 L276.9 349.9 L276.9 351.1 L280.8 351.1 L280.8 352.3 L284.7 352.3 L284.7 353.5 L288.6 353.5 L288.6 354.7 L292.5 354.7 L292.5 355.9 L296.4 355.9 L296.4 357.1 L300.4 357.1 L300.4 358.2 L304.3 358.2 L304.3 359.4 L308.2 359.4 L308.2 360.6 L312.1 360.6 L312.1 361.8 L316.0 361.8 L316.0 363.0" stroke="#e2e2e2" stroke-width="3.2" fill="none" stroke-linejoin="miter" opacity="1"/><path d="M316.0 363.0 Q320.0 366.0 320.0 373.0" stroke="#bdbdbd" stroke-width="1.4" fill="none" stroke-dasharray="1.5 1.5"/><path d="M253.1 351.0 L256.8 351.0 L256.8 352.5 L260.6 352.5 L260.6 353.9 L264.3 353.9 L264.3 355.4 L268.1 355.4 L268.1 356.9 L271.9 356.9 L271.9 358.4 L275.6 358.4 L275.6 359.8 L279.4 359.8 L279.4 361.3 L283.1 361.3 L283.1 362.8 L286.9 362.8 L286.9 364.2 L290.7 364.2 L290.7 365.7 L294.4 365.7 L294.4 367.2 L298.2 367.2 L298.2 368.6 L302.0 368.6 L302.0 370.1 L305.7 370.1 L305.7 371.6 L309.5 371.6 L309.5 373.1 L313.2 373.1 L313.2 374.5 L317.0 374.5 L317.0 376.0" stroke="#6a6a6a" stroke-width="4.8" fill="none" stroke-linejoin="miter" opacity="0.55"/><path d="M253.1 351.0 L256.8 351.0 L256.8 352.5 L260.6 352.5 L260.6 353.9 L264.3 353.9 L264.3 355.4 L268.1 355.4 L268.1 356.9 L271.9 356.9 L271.9 358.4 L275.6 358.4 L275.6 359.8 L279.4 359.8 L279.4 361.3 L283.1 361.3 L283.1 362.8 L286.9 362.8 L286.9 364.2 L290.7 364.2 L290.7 365.7 L294.4 365.7 L294.4 367.2 L298.2 367.2 L298.2 368.6 L302.0 368.6 L302.0 370.1 L305.7 370.1 L305.7 371.6 L309.5 371.6 L309.5 373.1 L313.2 373.1 L313.2 374.5 L317.0 374.5 L317.0 376.0" stroke="#e2e2e2" stroke-width="3.2" fill="none" stroke-linejoin="miter" opacity="1"/><path d="M317.0 376.0 Q321.0 379.0 321.0 386.0" stroke="#bdbdbd" stroke-width="1.4" fill="none" stroke-dasharray="1.5 1.5"/><path d="M252.5 362.0 L256.4 362.0 L256.4 363.5 L260.2 363.5 L260.2 365.1 L264.1 365.1 L264.1 366.6 L267.9 366.6 L267.9 368.1 L271.8 368.1 L271.8 369.6 L275.6 369.6 L275.6 371.2 L279.5 371.2 L279.5 372.7 L283.3 372.7 L283.3 374.2 L287.2 374.2 L287.2 375.8 L291.0 375.8 L291.0 377.3 L294.9 377.3 L294.9 378.8 L298.7 378.8 L298.7 380.4 L302.6 380.4 L302.6 381.9 L306.4 381.9 L306.4 383.4 L310.3 383.4 L310.3 384.9 L314.1 384.9 L314.1 386.5 L318.0 386.5 L318.0 388.0" stroke="#6a6a6a" stroke-width="4.8" fill="none" stroke-linejoin="miter" opacity="0.55"/><path d="M252.5 362.0 L256.4 362.0 L256.4 363.5 L260.2 363.5 L260.2 365.1 L264.1 365.1 L264.1 366.6 L267.9 366.6 L267.9 368.1 L271.8 368.1 L271.8 369.6 L275.6 369.6 L275.6 371.2 L279.5 371.2 L279.5 372.7 L283.3 372.7 L283.3 374.2 L287.2 374.2 L287.2 375.8 L291.0 375.8 L291.0 377.3 L294.9 377.3 L294.9 378.8 L298.7 378.8 L298.7 380.4 L302.6 380.4 L302.6 381.9 L306.4 381.9 L306.4 383.4 L310.3 383.4 L310.3 384.9 L314.1 384.9 L314.1 386.5 L318.0 386.5 L318.0 388.0" stroke="#e2e2e2" stroke-width="3.2" fill="none" stroke-linejoin="miter" opacity="1"/><path d="M318.0 388.0 Q322.0 391.0 322.0 398.0" stroke="#bdbdbd" stroke-width="1.4" fill="none" stroke-dasharray="1.5 1.5"/><path d="M251.9 373.0 L255.8 373.0 L255.8 374.5 L259.7 374.5 L259.7 375.9 L263.6 375.9 L263.6 377.4 L267.5 377.4 L267.5 378.9 L271.4 378.9 L271.4 380.4 L275.3 380.4 L275.3 381.8 L279.1 381.8 L279.1 383.3 L283.0 383.3 L283.0 384.8 L286.9 384.8 L286.9 386.2 L290.8 386.2 L290.8 387.7 L294.7 387.7 L294.7 389.2 L298.6 389.2 L298.6 390.6 L302.5 390.6 L302.5 392.1 L306.3 392.1 L306.3 393.6 L310.2 393.6 L310.2 395.1 L314.1 395.1 L314.1 396.5 L318.0 396.5 L318.0 398.0" stroke="#6a6a6a" stroke-width="4.8" fill="none" stroke-linejoin="miter" opacity="0.55"/><path d="M251.9 373.0 L255.8 373.0 L255.8 374.5 L259.7 374.5 L259.7 375.9 L263.6 375.9 L263.6 377.4 L267.5 377.4 L267.5 378.9 L271.4 378.9 L271.4 380.4 L275.3 380.4 L275.3 381.8 L279.1 381.8 L279.1 383.3 L283.0 383.3 L283.0 384.8 L286.9 384.8 L286.9 386.2 L290.8 386.2 L290.8 387.7 L294.7 387.7 L294.7 389.2 L298.6 389.2 L298.6 390.6 L302.5 390.6 L302.5 392.1 L306.3 392.1 L306.3 393.6 L310.2 393.6 L310.2 395.1 L314.1 395.1 L314.1 396.5 L318.0 396.5 L318.0 398.0" stroke="#e2e2e2" stroke-width="3.2" fill="none" stroke-linejoin="miter" opacity="1"/><path d="M318.0 398.0 Q322.0 401.0 322.0 408.0" stroke="#bdbdbd" stroke-width="1.4" fill="none" stroke-dasharray="1.5 1.5"/><path d="M251.8 384.0 L255.6 384.0 L255.6 385.4 L259.5 385.4 L259.5 386.8 L263.4 386.8 L263.4 388.2 L267.3 388.2 L267.3 389.6 L271.2 389.6 L271.2 391.1 L275.1 391.1 L275.1 392.5 L279.0 392.5 L279.0 393.9 L282.9 393.9 L282.9 395.3 L286.8 395.3 L286.8 396.7 L290.7 396.7 L290.7 398.1 L294.6 398.1 L294.6 399.5 L298.5 399.5 L298.5 400.9 L302.4 400.9 L302.4 402.4 L306.3 402.4 L306.3 403.8 L310.2 403.8 L310.2 405.2 L314.1 405.2 L314.1 406.6 L318.0 406.6 L318.0 408.0" stroke="#6a6a6a" stroke-width="4.8" fill="none" stroke-linejoin="miter" opacity="0.55"/><path d="M251.8 384.0 L255.6 384.0 L255.6 385.4 L259.5 385.4 L259.5 386.8 L263.4 386.8 L263.4 388.2 L267.3 388.2 L267.3 389.6 L271.2 389.6 L271.2 391.1 L275.1 391.1 L275.1 392.5 L279.0 392.5 L279.0 393.9 L282.9 393.9 L282.9 395.3 L286.8 395.3 L286.8 396.7 L290.7 396.7 L290.7 398.1 L294.6 398.1 L294.6 399.5 L298.5 399.5 L298.5 400.9 L302.4 400.9 L302.4 402.4 L306.3 402.4 L306.3 403.8 L310.2 403.8 L310.2 405.2 L314.1 405.2 L314.1 406.6 L318.0 406.6 L318.0 408.0" stroke="#e2e2e2" stroke-width="3.2" fill="none" stroke-linejoin="miter" opacity="1"/><path d="M318.0 408.0 Q322.0 411.0 322.0 418.0" stroke="#bdbdbd" stroke-width="1.4" fill="none" stroke-dasharray="1.5 1.5"/><path d="M253.3 396.0 L257.0 396.0 L257.0 397.4 L260.8 397.4 L260.8 398.8 L264.5 398.8 L264.5 400.2 L268.3 400.2 L268.3 401.6 L272.0 401.6 L272.0 403.1 L275.8 403.1 L275.8 404.5 L279.5 404.5 L279.5 405.9 L283.3 405.9 L283.3 407.3 L287.0 407.3 L287.0 408.7 L290.8 408.7 L290.8 410.1 L294.5 410.1 L294.5 411.5 L298.3 411.5 L298.3 412.9 L302.0 412.9 L302.0 414.4 L305.8 414.4 L305.8 415.8 L309.5 415.8 L309.5 417.2 L313.3 417.2 L313.3 418.6 L317.0 418.6 L317.0 420.0" stroke="#6a6a6a" stroke-width="4.8" fill="none" stroke-linejoin="miter" opacity="0.55"/><path d="M253.3 396.0 L257.0 396.0 L257.0 397.4 L260.8 397.4 L260.8 398.8 L264.5 398.8 L264.5 400.2 L268.3 400.2 L268.3 401.6 L272.0 401.6 L272.0 403.1 L275.8 403.1 L275.8 404.5 L279.5 404.5 L279.5 405.9 L283.3 405.9 L283.3 407.3 L287.0 407.3 L287.0 408.7 L290.8 408.7 L290.8 410.1 L294.5 410.1 L294.5 411.5 L298.3 411.5 L298.3 412.9 L302.0 412.9 L302.0 414.4 L305.8 414.4 L305.8 415.8 L309.5 415.8 L309.5 417.2 L313.3 417.2 L313.3 418.6 L317.0 418.6 L317.0 420.0" stroke="#e2e2e2" stroke-width="3.2" fill="none" stroke-linejoin="miter" opacity="1"/><path d="M317.0 420.0 Q321.0 423.0 321.0 430.0" stroke="#bdbdbd" stroke-width="1.4" fill="none" stroke-dasharray="1.5 1.5"/><rect x="228" y="455" width="3" height="2.5" fill="#cfcfcf"/><rect x="230" y="466" width="3" height="2.5" fill="#cfcfcf"/><rect x="224" y="470" width="3" height="2.5" fill="#cfcfcf"/><rect x="265" y="452" width="3" height="2.5" fill="#cfcfcf"/><rect x="262" y="466" width="3" height="2.5" fill="#cfcfcf"/><rect x="269" y="470" width="3" height="2.5" fill="#cfcfcf"/><polygon points="242.3,302.0 237.0,382.0 249.0,477.0 265.0,477.0 253.0,382.0 257.0,302.0" fill="#dcdcdc"/><rect x="244.1" y="302.0" width="2.5" height="2.2" fill="#9a9a9a"/><rect x="251.7" y="302.0" width="2.1" height="1.7" fill="#9a9a9a"/><rect x="240.0" y="305.0" width="3.3" height="2.3" fill="#c8c8c8"/><rect x="255.9" y="305.0" width="2.3" height="2.4" fill="#c8c8c8"/><rect x="247.1" y="305.0" width="1.5" height="1.6" fill="#5a5a5a"/><rect x="239.6" y="311.1" width="3.9" height="1.6" fill="#c8c8c8"/><rect x="245.1" y="311.1" width="2.6" height="1.5" fill="#9a9a9a"/><rect x="251.1" y="311.1" width="2.8" height="1.8" fill="#5a5a5a"/><rect x="252.2" y="314.1" width="1.4" height="1.5" fill="#f4f4f4"/><rect x="249.4" y="314.1" width="2.3" height="1.8" fill="#f4f4f4"/><rect x="239.3" y="317.1" width="3.5" height="1.6" fill="#c8c8c8"/><rect x="250.2" y="317.1" width="1.6" height="1.9" fill="#9a9a9a"/><rect x="245.5" y="317.1" width="1.3" height="1.5" fill="#f4f4f4"/><rect x="238.6" y="320.1" width="2.4" height="3.0" fill="#c8c8c8"/><rect x="255.6" y="320.1" width="1.9" height="1.8" fill="#c8c8c8"/><rect x="243.1" y="320.1" width="2.3" height="2.2" fill="#7a7a7a"/><rect x="249.8" y="320.1" width="2.8" height="1.6" fill="#5a5a5a"/><rect x="239.4" y="323.1" width="2.7" height="2.1" fill="#c8c8c8"/><rect x="243.0" y="323.1" width="2.4" height="1.2" fill="#5a5a5a"/><rect x="251.6" y="323.1" width="1.8" height="1.9" fill="#5a5a5a"/><rect x="254.4" y="326.1" width="1.8" height="1.5" fill="#c8c8c8"/><rect x="250.8" y="326.1" width="1.9" height="1.5" fill="#5a5a5a"/><rect x="250.8" y="326.1" width="1.2" height="2.2" fill="#7a7a7a"/><rect x="254.7" y="329.2" width="2.1" height="2.9" fill="#c8c8c8"/><rect x="243.9" y="329.2" width="2.5" height="2.3" fill="#9a9a9a"/><rect x="246.3" y="329.2" width="2.7" height="1.9" fill="#5a5a5a"/><rect x="242.7" y="332.2" width="2.6" height="1.7" fill="#f4f4f4"/><rect x="247.2" y="332.2" width="1.9" height="2.0" fill="#9a9a9a"/><rect x="236.8" y="335.2" width="2.6" height="2.1" fill="#c8c8c8"/><rect x="237.6" y="338.2" width="2.9" height="1.7" fill="#c8c8c8"/><rect x="243.3" y="338.2" width="2.0" height="2.0" fill="#5a5a5a"/><rect x="238.1" y="341.2" width="2.3" height="1.6" fill="#c8c8c8"/><rect x="254.8" y="341.2" width="2.6" height="2.1" fill="#c8c8c8"/><rect x="247.2" y="341.2" width="2.2" height="1.9" fill="#f4f4f4"/><rect x="238.4" y="344.2" width="3.6" height="3.0" fill="#c8c8c8"/><rect x="248.0" y="344.2" width="1.4" height="2.2" fill="#7a7a7a"/><rect x="242.4" y="344.2" width="2.7" height="1.7" fill="#9a9a9a"/><rect x="237.9" y="347.3" width="4.0" height="2.0" fill="#c8c8c8"/><rect x="254.6" y="347.3" width="2.9" height="2.6" fill="#c8c8c8"/><rect x="244.3" y="347.3" width="2.3" height="1.4" fill="#5a5a5a"/><rect x="236.2" y="350.3" width="2.1" height="2.8" fill="#c8c8c8"/><rect x="236.5" y="353.3" width="2.3" height="2.8" fill="#c8c8c8"/><rect x="243.1" y="353.3" width="3.0" height="2.4" fill="#f4f4f4"/><rect x="240.1" y="353.3" width="1.6" height="1.3" fill="#5a5a5a"/><rect x="253.9" y="356.3" width="1.8" height="2.3" fill="#c8c8c8"/><rect x="249.7" y="356.3" width="2.1" height="1.6" fill="#7a7a7a"/><rect x="240.7" y="356.3" width="2.7" height="1.2" fill="#9a9a9a"/><rect x="235.0" y="359.3" width="3.7" height="2.1" fill="#c8c8c8"/><rect x="252.7" y="359.3" width="2.7" height="1.6" fill="#c8c8c8"/><rect x="243.9" y="359.3" width="2.8" height="1.8" fill="#9a9a9a"/><rect x="252.5" y="362.3" width="3.3" height="2.1" fill="#c8c8c8"/><rect x="245.5" y="362.3" width="2.1" height="1.8" fill="#9a9a9a"/><rect x="239.4" y="362.3" width="2.5" height="2.3" fill="#f4f4f4"/><rect x="253.0" y="365.4" width="1.7" height="2.8" fill="#c8c8c8"/><rect x="247.6" y="365.4" width="3.0" height="1.7" fill="#9a9a9a"/><rect x="235.6" y="368.4" width="2.3" height="2.0" fill="#c8c8c8"/><rect x="252.2" y="368.4" width="2.4" height="2.3" fill="#c8c8c8"/><rect x="239.2" y="368.4" width="1.2" height="1.3" fill="#7a7a7a"/><rect x="244.8" y="368.4" width="2.7" height="1.9" fill="#7a7a7a"/><rect x="236.0" y="371.4" width="2.9" height="2.5" fill="#c8c8c8"/><rect x="252.6" y="371.4" width="2.2" height="2.7" fill="#c8c8c8"/><rect x="239.9" y="371.4" width="1.5" height="1.8" fill="#5a5a5a"/><rect x="249.0" y="371.4" width="1.4" height="2.4" fill="#9a9a9a"/><rect x="234.9" y="374.4" width="2.2" height="2.6" fill="#c8c8c8"/><rect x="245.8" y="374.4" width="3.0" height="2.4" fill="#7a7a7a"/><rect x="243.8" y="374.4" width="1.5" height="1.2" fill="#7a7a7a"/><rect x="234.4" y="377.4" width="3.7" height="2.1" fill="#c8c8c8"/><rect x="252.8" y="377.4" width="2.8" height="1.9" fill="#c8c8c8"/><rect x="246.2" y="377.4" width="1.9" height="1.7" fill="#9a9a9a"/><rect x="238.7" y="377.4" width="1.8" height="1.6" fill="#9a9a9a"/><rect x="233.6" y="380.4" width="2.3" height="1.6" fill="#c8c8c8"/><rect x="253.0" y="380.4" width="2.1" height="2.2" fill="#c8c8c8"/><rect x="240.2" y="380.4" width="1.9" height="1.4" fill="#9a9a9a"/><rect x="238.7" y="380.4" width="2.5" height="2.0" fill="#7a7a7a"/><rect x="235.5" y="383.5" width="2.5" height="2.4" fill="#c8c8c8"/><rect x="240.7" y="383.5" width="3.0" height="1.6" fill="#7a7a7a"/><rect x="234.4" y="386.5" width="2.6" height="1.9" fill="#c8c8c8"/><rect x="252.2" y="386.5" width="2.4" height="2.0" fill="#c8c8c8"/><rect x="244.9" y="386.5" width="2.4" height="2.0" fill="#f4f4f4"/><rect x="247.1" y="386.5" width="1.6" height="2.0" fill="#7a7a7a"/><rect x="252.8" y="389.5" width="3.1" height="2.8" fill="#c8c8c8"/><rect x="249.1" y="389.5" width="2.1" height="1.9" fill="#7a7a7a"/><rect x="235.6" y="392.5" width="3.8" height="2.6" fill="#c8c8c8"/><rect x="254.1" y="392.5" width="3.5" height="2.7" fill="#c8c8c8"/><rect x="247.1" y="392.5" width="2.8" height="1.8" fill="#9a9a9a"/><rect x="235.7" y="395.5" width="2.7" height="1.8" fill="#c8c8c8"/><rect x="240.4" y="395.5" width="2.5" height="2.1" fill="#9a9a9a"/><rect x="250.2" y="395.5" width="1.8" height="2.3" fill="#f4f4f4"/><rect x="237.1" y="398.6" width="2.6" height="2.4" fill="#c8c8c8"/><rect x="254.7" y="398.6" width="2.1" height="1.8" fill="#c8c8c8"/><rect x="245.5" y="398.6" width="2.9" height="2.1" fill="#9a9a9a"/><rect x="240.7" y="398.6" width="2.8" height="1.2" fill="#9a9a9a"/><rect x="237.5" y="401.6" width="3.8" height="3.0" fill="#c8c8c8"/><rect x="254.4" y="401.6" width="2.9" height="2.6" fill="#c8c8c8"/><rect x="242.0" y="401.6" width="1.7" height="1.4" fill="#7a7a7a"/><rect x="243.9" y="404.6" width="1.3" height="2.2" fill="#f4f4f4"/><rect x="244.5" y="404.6" width="2.2" height="2.2" fill="#5a5a5a"/><rect x="248.0" y="407.6" width="1.8" height="1.5" fill="#5a5a5a"/><rect x="245.7" y="407.6" width="2.0" height="2.0" fill="#f4f4f4"/><rect x="255.9" y="410.6" width="1.5" height="1.7" fill="#c8c8c8"/><rect x="241.7" y="410.6" width="2.4" height="2.2" fill="#5a5a5a"/><rect x="256.6" y="413.6" width="3.2" height="1.8" fill="#c8c8c8"/><rect x="249.7" y="413.6" width="1.4" height="1.4" fill="#9a9a9a"/><rect x="245.3" y="419.7" width="2.0" height="1.6" fill="#f4f4f4"/><rect x="253.4" y="422.7" width="1.6" height="1.8" fill="#9a9a9a"/><rect x="252.6" y="422.7" width="2.2" height="1.8" fill="#5a5a5a"/><rect x="252.1" y="422.7" width="7.7" height="3.6" fill="#0a0a0a"/><rect x="243.1" y="424.7" width="4.9" height="3" fill="#1a1a1a"/><rect x="239.7" y="425.7" width="3.3" height="2.3" fill="#c8c8c8"/><rect x="257.1" y="425.7" width="1.7" height="2.6" fill="#c8c8c8"/><rect x="248.9" y="425.7" width="2.7" height="1.7" fill="#f4f4f4"/><rect x="258.1" y="428.7" width="2.9" height="2.9" fill="#c8c8c8"/><rect x="254.8" y="428.7" width="2.0" height="1.4" fill="#f4f4f4"/><rect x="258.0" y="431.7" width="2.8" height="2.9" fill="#c8c8c8"/><rect x="248.9" y="431.7" width="1.6" height="1.2" fill="#9a9a9a"/><rect x="244.5" y="431.7" width="2.9" height="1.8" fill="#7a7a7a"/><rect x="246.4" y="434.8" width="2.6" height="1.8" fill="#9a9a9a"/><rect x="253.7" y="434.8" width="7.1" height="4.4" fill="#0a0a0a"/><rect x="241.2" y="437.8" width="2.2" height="2.8" fill="#c8c8c8"/><rect x="258.7" y="437.8" width="1.7" height="2.9" fill="#c8c8c8"/><rect x="251.8" y="437.8" width="1.9" height="2.4" fill="#7a7a7a"/><rect x="243.0" y="440.8" width="3.2" height="2.4" fill="#c8c8c8"/><rect x="247.6" y="440.8" width="1.9" height="1.9" fill="#7a7a7a"/><rect x="252.2" y="440.8" width="2.6" height="1.8" fill="#5a5a5a"/><rect x="259.5" y="443.8" width="3.4" height="1.5" fill="#c8c8c8"/><rect x="247.8" y="443.8" width="1.7" height="1.6" fill="#9a9a9a"/><rect x="254.9" y="443.8" width="1.4" height="1.8" fill="#7a7a7a"/><rect x="247.2" y="446.8" width="1.6" height="2.2" fill="#5a5a5a"/><rect x="256.1" y="446.8" width="1.4" height="2.2" fill="#9a9a9a"/><rect x="255.2" y="446.8" width="8.6" height="3.2" fill="#0a0a0a"/><rect x="255.4" y="449.8" width="2.3" height="1.5" fill="#7a7a7a"/><rect x="243.6" y="452.9" width="3.6" height="2.5" fill="#c8c8c8"/><rect x="250.4" y="452.9" width="2.9" height="1.5" fill="#7a7a7a"/><rect x="254.7" y="452.9" width="2.0" height="1.7" fill="#9a9a9a"/><rect x="245.0" y="455.9" width="2.1" height="1.5" fill="#c8c8c8"/><rect x="250.2" y="455.9" width="1.5" height="1.2" fill="#9a9a9a"/><rect x="256.6" y="455.9" width="2.6" height="1.2" fill="#5a5a5a"/><rect x="256.7" y="458.9" width="8.8" height="3.2" fill="#0a0a0a"/><rect x="247.7" y="460.9" width="3.4" height="3" fill="#1a1a1a"/><rect x="246.0" y="461.9" width="3.1" height="2.9" fill="#c8c8c8"/><rect x="263.0" y="461.9" width="3.4" height="1.5" fill="#c8c8c8"/><rect x="254.1" y="461.9" width="1.8" height="2.0" fill="#5a5a5a"/><rect x="254.6" y="461.9" width="3.0" height="2.0" fill="#f4f4f4"/><rect x="246.1" y="464.9" width="3.4" height="2.0" fill="#c8c8c8"/><rect x="263.2" y="464.9" width="3.1" height="1.9" fill="#c8c8c8"/><rect x="257.6" y="464.9" width="2.0" height="1.9" fill="#9a9a9a"/><rect x="248.7" y="464.9" width="3.0" height="1.7" fill="#9a9a9a"/><rect x="246.8" y="467.9" width="4.0" height="2.5" fill="#c8c8c8"/><rect x="250.7" y="467.9" width="1.5" height="1.9" fill="#f4f4f4"/><rect x="246.9" y="471.0" width="2.7" height="1.6" fill="#c8c8c8"/><rect x="251.2" y="471.0" width="1.9" height="2.0" fill="#9a9a9a"/><rect x="254.6" y="471.0" width="2.2" height="2.2" fill="#7a7a7a"/><rect x="258.2" y="471.0" width="5.5" height="4.3" fill="#0a0a0a"/><rect x="249.2" y="473.0" width="4.1" height="3" fill="#1a1a1a"/><rect x="246.2" y="474.0" width="3.6" height="2.5" fill="#c8c8c8"/><rect x="264.3" y="474.0" width="2.4" height="2.9" fill="#c8c8c8"/><rect x="255.3" y="474.0" width="2.4" height="1.6" fill="#f4f4f4"/><path d="M268.7 382.3 C270.0 380.3 272.2 378.4 275.2 377.3 C278.2 376.2 282.8 375.8 286.7 375.8 C290.6 375.8 294.9 376.2 298.3 377.3 C301.7 378.4 304.5 380.0 306.9 382.3 C309.3 384.6 311.1 387.6 312.7 391.0 C314.3 394.4 315.5 398.4 316.3 402.5 C317.1 406.6 317.6 411.4 317.7 415.5 C317.8 419.6 317.7 423.6 317.0 427.0 C316.3 430.4 315.1 433.8 313.4 435.7 C311.7 437.6 308.9 438.2 306.9 438.6 C304.9 439.0 303.3 439.0 301.2 437.8 C299.1 436.6 296.9 434.5 294.0 431.3 C291.1 428.1 287.2 422.5 283.8 418.4 C280.4 414.3 276.3 410.2 273.8 406.8 C271.3 403.4 269.8 401.1 268.7 398.2 C267.6 395.3 267.3 392.1 267.3 389.5 C267.3 386.9 267.4 384.3 268.7 382.3 Z" fill="#4cb335"/><path d="M277.4 383.3 Q297.5 380.8 307.6 391.5 Q310.1 407.2 297.5 419.8 Q292.5 429.2 298.5 435.5" stroke="#2a7f22" stroke-width="1.2" fill="none"/><path d="M290.0 394.6 Q292.5 404.1 288.5 412.2" stroke="#2f8a27" stroke-width="1.2" fill="none"/></g><rect x="175" y="306.8" width="18.3" height="20.8" fill="#fff"/><text x="183.4" y="323.6" font-size="18" text-anchor="middle" fill="#111" font-weight="bold" >D</text>
<clipPath id="cpG"><rect x="0" y="487" width="162" height="173"/></clipPath><g clip-path="url(#cpG)"><rect x="0" y="487" width="162" height="173" fill="#060606"/><path d="M7 487 L16 487 L16 541 L9 541 Z" fill="#b8b8b8"/><path d="M120 492 L140 487 L150 500 L147 540 L126 534 Z" fill="#3a3a3a" stroke="#d0d0d0" stroke-width="2.2"/><path d="M132 490 L140 515 L134 534" stroke="#c8c8c8" stroke-width="2" fill="none"/><path d="M28 505 Q14 550 20 600 Q22 612 26 618" stroke="#bdbdbd" stroke-width="1.3" fill="none" stroke-dasharray="1.6 1.4"/><path d="M142 505 Q156 550 150 600" stroke="#bdbdbd" stroke-width="1.3" fill="none" stroke-dasharray="1.6 1.4"/><path d="M66.0 500.0 L61.8 500.0 L61.8 500.4 L57.5 500.4 L57.5 500.8 L53.2 500.8 L53.2 501.1 L49.0 501.1 L49.0 501.5 L44.8 501.5 L44.8 501.9 L40.5 501.9 L40.5 502.2 L36.2 502.2 L36.2 502.6 L32.0 502.6 L32.0 503.0" stroke="#6a6a6a" stroke-width="4.7" fill="none" stroke-linejoin="miter" opacity="0.55"/><path d="M66.0 500.0 L61.8 500.0 L61.8 500.4 L57.5 500.4 L57.5 500.8 L53.2 500.8 L53.2 501.1 L49.0 501.1 L49.0 501.5 L44.8 501.5 L44.8 501.9 L40.5 501.9 L40.5 502.2 L36.2 502.2 L36.2 502.6 L32.0 502.6 L32.0 503.0" stroke="#e2e2e2" stroke-width="3.1" fill="none" stroke-linejoin="miter" opacity="1"/><path d="M32.0 503.0 Q26.0 505.0 25.0 513.0" stroke="#bdbdbd" stroke-width="1.4" fill="none" stroke-dasharray="1.5 1.5"/><path d="M66.0 510.0 L62.0 510.0 L62.0 510.3 L58.0 510.3 L58.0 510.7 L54.0 510.7 L54.0 511.0 L50.0 511.0 L50.0 511.3 L46.0 511.3 L46.0 511.7 L42.0 511.7 L42.0 512.0 L38.0 512.0 L38.0 512.3 L34.0 512.3 L34.0 512.7 L30.0 512.7 L30.0 513.0" stroke="#6a6a6a" stroke-width="4.7" fill="none" stroke-linejoin="miter" opacity="0.55"/><path d="M66.0 510.0 L62.0 510.0 L62.0 510.3 L58.0 510.3 L58.0 510.7 L54.0 510.7 L54.0 511.0 L50.0 511.0 L50.0 511.3 L46.0 511.3 L46.0 511.7 L42.0 511.7 L42.0 512.0 L38.0 512.0 L38.0 512.3 L34.0 512.3 L34.0 512.7 L30.0 512.7 L30.0 513.0" stroke="#e2e2e2" stroke-width="3.1" fill="none" stroke-linejoin="miter" opacity="1"/><path d="M30.0 513.0 Q24.0 515.0 23.0 523.0" stroke="#bdbdbd" stroke-width="1.4" fill="none" stroke-dasharray="1.5 1.5"/><path d="M66.0 520.0 L61.8 520.0 L61.8 520.3 L57.6 520.3 L57.6 520.7 L53.3 520.7 L53.3 521.0 L49.1 521.0 L49.1 521.3 L44.9 521.3 L44.9 521.7 L40.7 521.7 L40.7 522.0 L36.4 522.0 L36.4 522.3 L32.2 522.3 L32.2 522.7 L28.0 522.7 L28.0 523.0" stroke="#6a6a6a" stroke-width="4.7" fill="none" stroke-linejoin="miter" opacity="0.55"/><path d="M66.0 520.0 L61.8 520.0 L61.8 520.3 L57.6 520.3 L57.6 520.7 L53.3 520.7 L53.3 521.0 L49.1 521.0 L49.1 521.3 L44.9 521.3 L44.9 521.7 L40.7 521.7 L40.7 522.0 L36.4 522.0 L36.4 522.3 L32.2 522.3 L32.2 522.7 L28.0 522.7 L28.0 523.0" stroke="#e2e2e2" stroke-width="3.1" fill="none" stroke-linejoin="miter" opacity="1"/><path d="M28.0 523.0 Q22.0 525.0 21.0 533.0" stroke="#bdbdbd" stroke-width="1.4" fill="none" stroke-dasharray="1.5 1.5"/><path d="M66.0 530.0 L61.7 530.0 L61.7 530.6 L57.3 530.6 L57.3 531.1 L53.0 531.1 L53.0 531.7 L48.7 531.7 L48.7 532.2 L44.3 532.2 L44.3 532.8 L40.0 532.8 L40.0 533.3 L35.7 533.3 L35.7 533.9 L31.3 533.9 L31.3 534.4 L27.0 534.4 L27.0 535.0" stroke="#6a6a6a" stroke-width="4.7" fill="none" stroke-linejoin="miter" opacity="0.55"/><path d="M66.0 530.0 L61.7 530.0 L61.7 530.6 L57.3 530.6 L57.3 531.1 L53.0 531.1 L53.0 531.7 L48.7 531.7 L48.7 532.2 L44.3 532.2 L44.3 532.8 L40.0 532.8 L40.0 533.3 L35.7 533.3 L35.7 533.9 L31.3 533.9 L31.3 534.4 L27.0 534.4 L27.0 535.0" stroke="#e2e2e2" stroke-width="3.1" fill="none" stroke-linejoin="miter" opacity="1"/><path d="M27.0 535.0 Q21.0 537.0 20.0 545.0" stroke="#bdbdbd" stroke-width="1.4" fill="none" stroke-dasharray="1.5 1.5"/><path d="M66.0 540.0 L61.9 540.0 L61.9 540.7 L57.8 540.7 L57.8 541.4 L53.7 541.4 L53.7 542.1 L49.6 542.1 L49.6 542.8 L45.5 542.8 L45.5 543.5 L41.4 543.5 L41.4 544.2 L37.3 544.2 L37.3 544.9 L33.2 544.9 L33.2 545.6 L29.1 545.6 L29.1 546.3 L25.0 546.3 L25.0 547.0" stroke="#6a6a6a" stroke-width="4.7" fill="none" stroke-linejoin="miter" opacity="0.55"/><path d="M66.0 540.0 L61.9 540.0 L61.9 540.7 L57.8 540.7 L57.8 541.4 L53.7 541.4 L53.7 542.1 L49.6 542.1 L49.6 542.8 L45.5 542.8 L45.5 543.5 L41.4 543.5 L41.4 544.2 L37.3 544.2 L37.3 544.9 L33.2 544.9 L33.2 545.6 L29.1 545.6 L29.1 546.3 L25.0 546.3 L25.0 547.0" stroke="#e2e2e2" stroke-width="3.1" fill="none" stroke-linejoin="miter" opacity="1"/><path d="M25.0 547.0 Q19.0 549.0 18.0 557.0" stroke="#bdbdbd" stroke-width="1.4" fill="none" stroke-dasharray="1.5 1.5"/><path d="M66.0 551.0 L62.0 551.0 L62.0 552.0 L58.0 552.0 L58.0 553.0 L54.0 553.0 L54.0 554.0 L50.0 554.0 L50.0 555.0 L46.0 555.0 L46.0 556.0 L42.0 556.0 L42.0 557.0 L38.0 557.0 L38.0 558.0 L34.0 558.0 L34.0 559.0 L30.0 559.0 L30.0 560.0 L26.0 560.0 L26.0 561.0 L22.0 561.0 L22.0 562.0" stroke="#6a6a6a" stroke-width="4.7" fill="none" stroke-linejoin="miter" opacity="0.55"/><path d="M66.0 551.0 L62.0 551.0 L62.0 552.0 L58.0 552.0 L58.0 553.0 L54.0 553.0 L54.0 554.0 L50.0 554.0 L50.0 555.0 L46.0 555.0 L46.0 556.0 L42.0 556.0 L42.0 557.0 L38.0 557.0 L38.0 558.0 L34.0 558.0 L34.0 559.0 L30.0 559.0 L30.0 560.0 L26.0 560.0 L26.0 561.0 L22.0 561.0 L22.0 562.0" stroke="#e2e2e2" stroke-width="3.1" fill="none" stroke-linejoin="miter" opacity="1"/><path d="M22.0 562.0 Q16.0 564.0 15.0 572.0" stroke="#bdbdbd" stroke-width="1.4" fill="none" stroke-dasharray="1.5 1.5"/><path d="M65.0 562.0 L60.9 562.0 L60.9 563.2 L56.8 563.2 L56.8 564.5 L52.8 564.5 L52.8 565.8 L48.7 565.8 L48.7 567.0 L44.6 567.0 L44.6 568.2 L40.5 568.2 L40.5 569.5 L36.4 569.5 L36.4 570.8 L32.3 570.8 L32.3 572.0 L28.2 572.0 L28.2 573.2 L24.2 573.2 L24.2 574.5 L20.1 574.5 L20.1 575.8 L16.0 575.8 L16.0 577.0" stroke="#6a6a6a" stroke-width="4.7" fill="none" stroke-linejoin="miter" opacity="0.55"/><path d="M65.0 562.0 L60.9 562.0 L60.9 563.2 L56.8 563.2 L56.8 564.5 L52.8 564.5 L52.8 565.8 L48.7 565.8 L48.7 567.0 L44.6 567.0 L44.6 568.2 L40.5 568.2 L40.5 569.5 L36.4 569.5 L36.4 570.8 L32.3 570.8 L32.3 572.0 L28.2 572.0 L28.2 573.2 L24.2 573.2 L24.2 574.5 L20.1 574.5 L20.1 575.8 L16.0 575.8 L16.0 577.0" stroke="#e2e2e2" stroke-width="3.1" fill="none" stroke-linejoin="miter" opacity="1"/><path d="M16.0 577.0 Q10.0 579.0 9.0 587.0" stroke="#bdbdbd" stroke-width="1.4" fill="none" stroke-dasharray="1.5 1.5"/><path d="M65.0 569.0 L61.3 569.0 L61.3 570.8 L57.6 570.8 L57.6 572.5 L53.9 572.5 L53.9 574.3 L50.2 574.3 L50.2 576.1 L46.5 576.1 L46.5 577.8 L42.8 577.8 L42.8 579.6 L39.2 579.6 L39.2 581.4 L35.5 581.4 L35.5 583.2 L31.8 583.2 L31.8 584.9 L28.1 584.9 L28.1 586.7 L24.4 586.7 L24.4 588.5 L20.7 588.5 L20.7 590.2 L17.0 590.2 L17.0 592.0" stroke="#6a6a6a" stroke-width="4.7" fill="none" stroke-linejoin="miter" opacity="0.55"/><path d="M65.0 569.0 L61.3 569.0 L61.3 570.8 L57.6 570.8 L57.6 572.5 L53.9 572.5 L53.9 574.3 L50.2 574.3 L50.2 576.1 L46.5 576.1 L46.5 577.8 L42.8 577.8 L42.8 579.6 L39.2 579.6 L39.2 581.4 L35.5 581.4 L35.5 583.2 L31.8 583.2 L31.8 584.9 L28.1 584.9 L28.1 586.7 L24.4 586.7 L24.4 588.5 L20.7 588.5 L20.7 590.2 L17.0 590.2 L17.0 592.0" stroke="#e2e2e2" stroke-width="3.1" fill="none" stroke-linejoin="miter" opacity="1"/><path d="M17.0 592.0 Q11.0 594.0 10.0 602.0" stroke="#bdbdbd" stroke-width="1.4" fill="none" stroke-dasharray="1.5 1.5"/><path d="M65.0 584.0 L61.7 584.0 L61.7 586.7 L58.3 586.7 L58.3 589.3 L55.0 589.3 L55.0 592.0 L51.7 592.0 L51.7 594.7 L48.3 594.7 L48.3 597.3 L45.0 597.3 L45.0 600.0 L41.7 600.0 L41.7 602.7 L38.3 602.7 L38.3 605.3 L35.0 605.3 L35.0 608.0 L31.7 608.0 L31.7 610.7 L28.3 610.7 L28.3 613.3 L25.0 613.3 L25.0 616.0" stroke="#6a6a6a" stroke-width="4.7" fill="none" stroke-linejoin="miter" opacity="0.55"/><path d="M65.0 584.0 L61.7 584.0 L61.7 586.7 L58.3 586.7 L58.3 589.3 L55.0 589.3 L55.0 592.0 L51.7 592.0 L51.7 594.7 L48.3 594.7 L48.3 597.3 L45.0 597.3 L45.0 600.0 L41.7 600.0 L41.7 602.7 L38.3 602.7 L38.3 605.3 L35.0 605.3 L35.0 608.0 L31.7 608.0 L31.7 610.7 L28.3 610.7 L28.3 613.3 L25.0 613.3 L25.0 616.0" stroke="#e2e2e2" stroke-width="3.1" fill="none" stroke-linejoin="miter" opacity="1"/><path d="M25.0 616.0 Q19.0 618.0 18.0 626.0" stroke="#bdbdbd" stroke-width="1.4" fill="none" stroke-dasharray="1.5 1.5"/><path d="M62.0 601.0 L59.0 601.0 L59.0 604.0 L56.0 604.0 L56.0 607.0 L53.0 607.0 L53.0 610.0" stroke="#6a6a6a" stroke-width="4.7" fill="none" stroke-linejoin="miter" opacity="0.55"/><path d="M62.0 601.0 L59.0 601.0 L59.0 604.0 L56.0 604.0 L56.0 607.0 L53.0 607.0 L53.0 610.0" stroke="#e2e2e2" stroke-width="3.1" fill="none" stroke-linejoin="miter" opacity="1"/><path d="M53.0 610.0 Q47.0 612.0 46.0 620.0" stroke="#bdbdbd" stroke-width="1.4" fill="none" stroke-dasharray="1.5 1.5"/><path d="M88.0 498.0 L92.2 498.0 L92.2 498.1 L96.4 498.1 L96.4 498.2 L100.6 498.2 L100.6 498.3 L104.8 498.3 L104.8 498.4 L109.0 498.4 L109.0 498.5 L113.2 498.5 L113.2 498.6 L117.4 498.6 L117.4 498.7 L121.6 498.7 L121.6 498.8 L125.8 498.8 L125.8 498.9 L130.0 498.9 L130.0 499.0" stroke="#6a6a6a" stroke-width="4.6" fill="none" stroke-linejoin="miter" opacity="0.55"/><path d="M88.0 498.0 L92.2 498.0 L92.2 498.1 L96.4 498.1 L96.4 498.2 L100.6 498.2 L100.6 498.3 L104.8 498.3 L104.8 498.4 L109.0 498.4 L109.0 498.5 L113.2 498.5 L113.2 498.6 L117.4 498.6 L117.4 498.7 L121.6 498.7 L121.6 498.8 L125.8 498.8 L125.8 498.9 L130.0 498.9 L130.0 499.0" stroke="#e2e2e2" stroke-width="3.0" fill="none" stroke-linejoin="miter" opacity="1"/><path d="M130.0 499.0 Q136.0 502.0 136.0 511.0" stroke="#bdbdbd" stroke-width="1.4" fill="none" stroke-dasharray="1.5 1.5"/><path d="M88.0 508.0 L92.0 508.0 L92.0 508.3 L96.0 508.3 L96.0 508.5 L100.0 508.5 L100.0 508.8 L104.0 508.8 L104.0 509.1 L108.0 509.1 L108.0 509.4 L112.0 509.4 L112.0 509.6 L116.0 509.6 L116.0 509.9 L120.0 509.9 L120.0 510.2 L124.0 510.2 L124.0 510.5 L128.0 510.5 L128.0 510.7 L132.0 510.7 L132.0 511.0" stroke="#6a6a6a" stroke-width="4.6" fill="none" stroke-linejoin="miter" opacity="0.55"/><path d="M88.0 508.0 L92.0 508.0 L92.0 508.3 L96.0 508.3 L96.0 508.5 L100.0 508.5 L100.0 508.8 L104.0 508.8 L104.0 509.1 L108.0 509.1 L108.0 509.4 L112.0 509.4 L112.0 509.6 L116.0 509.6 L116.0 509.9 L120.0 509.9 L120.0 510.2 L124.0 510.2 L124.0 510.5 L128.0 510.5 L128.0 510.7 L132.0 510.7 L132.0 511.0" stroke="#e2e2e2" stroke-width="3.0" fill="none" stroke-linejoin="miter" opacity="1"/><path d="M132.0 511.0 Q138.0 514.0 138.0 523.0" stroke="#bdbdbd" stroke-width="1.4" fill="none" stroke-dasharray="1.5 1.5"/><path d="M88.0 518.0 L92.0 518.0 L92.0 518.3 L96.0 518.3 L96.0 518.5 L100.0 518.5 L100.0 518.8 L104.0 518.8 L104.0 519.1 L108.0 519.1 L108.0 519.4 L112.0 519.4 L112.0 519.6 L116.0 519.6 L116.0 519.9 L120.0 519.9 L120.0 520.2 L124.0 520.2 L124.0 520.5 L128.0 520.5 L128.0 520.7 L132.0 520.7 L132.0 521.0" stroke="#6a6a6a" stroke-width="4.6" fill="none" stroke-linejoin="miter" opacity="0.55"/><path d="M88.0 518.0 L92.0 518.0 L92.0 518.3 L96.0 518.3 L96.0 518.5 L100.0 518.5 L100.0 518.8 L104.0 518.8 L104.0 519.1 L108.0 519.1 L108.0 519.4 L112.0 519.4 L112.0 519.6 L116.0 519.6 L116.0 519.9 L120.0 519.9 L120.0 520.2 L124.0 520.2 L124.0 520.5 L128.0 520.5 L128.0 520.7 L132.0 520.7 L132.0 521.0" stroke="#e2e2e2" stroke-width="3.0" fill="none" stroke-linejoin="miter" opacity="1"/><path d="M132.0 521.0 Q138.0 524.0 138.0 533.0" stroke="#bdbdbd" stroke-width="1.4" fill="none" stroke-dasharray="1.5 1.5"/><path d="M88.0 527.0 L92.1 527.0 L92.1 527.4 L96.2 527.4 L96.2 527.7 L100.3 527.7 L100.3 528.1 L104.4 528.1 L104.4 528.5 L108.5 528.5 L108.5 528.8 L112.5 528.8 L112.5 529.2 L116.6 529.2 L116.6 529.5 L120.7 529.5 L120.7 529.9 L124.8 529.9 L124.8 530.3 L128.9 530.3 L128.9 530.6 L133.0 530.6 L133.0 531.0" stroke="#6a6a6a" stroke-width="4.6" fill="none" stroke-linejoin="miter" opacity="0.55"/><path d="M88.0 527.0 L92.1 527.0 L92.1 527.4 L96.2 527.4 L96.2 527.7 L100.3 527.7 L100.3 528.1 L104.4 528.1 L104.4 528.5 L108.5 528.5 L108.5 528.8 L112.5 528.8 L112.5 529.2 L116.6 529.2 L116.6 529.5 L120.7 529.5 L120.7 529.9 L124.8 529.9 L124.8 530.3 L128.9 530.3 L128.9 530.6 L133.0 530.6 L133.0 531.0" stroke="#e2e2e2" stroke-width="3.0" fill="none" stroke-linejoin="miter" opacity="1"/><path d="M133.0 531.0 Q139.0 534.0 139.0 543.0" stroke="#bdbdbd" stroke-width="1.4" fill="none" stroke-dasharray="1.5 1.5"/><path d="M89.0 537.0 L93.2 537.0 L93.2 537.4 L97.4 537.4 L97.4 537.7 L101.5 537.7 L101.5 538.1 L105.7 538.1 L105.7 538.5 L109.9 538.5 L109.9 538.8 L114.1 538.8 L114.1 539.2 L118.3 539.2 L118.3 539.5 L122.5 539.5 L122.5 539.9 L126.6 539.9 L126.6 540.3 L130.8 540.3 L130.8 540.6 L135.0 540.6 L135.0 541.0" stroke="#6a6a6a" stroke-width="4.6" fill="none" stroke-linejoin="miter" opacity="0.55"/><path d="M89.0 537.0 L93.2 537.0 L93.2 537.4 L97.4 537.4 L97.4 537.7 L101.5 537.7 L101.5 538.1 L105.7 538.1 L105.7 538.5 L109.9 538.5 L109.9 538.8 L114.1 538.8 L114.1 539.2 L118.3 539.2 L118.3 539.5 L122.5 539.5 L122.5 539.9 L126.6 539.9 L126.6 540.3 L130.8 540.3 L130.8 540.6 L135.0 540.6 L135.0 541.0" stroke="#e2e2e2" stroke-width="3.0" fill="none" stroke-linejoin="miter" opacity="1"/><path d="M135.0 541.0 Q141.0 544.0 141.0 553.0" stroke="#bdbdbd" stroke-width="1.4" fill="none" stroke-dasharray="1.5 1.5"/><path d="M89.0 548.0 L93.2 548.0 L93.2 548.4 L97.5 548.4 L97.5 548.8 L101.8 548.8 L101.8 549.2 L106.0 549.2 L106.0 549.7 L110.2 549.7 L110.2 550.1 L114.5 550.1 L114.5 550.5 L118.8 550.5 L118.8 550.9 L123.0 550.9 L123.0 551.3 L127.2 551.3 L127.2 551.8 L131.5 551.8 L131.5 552.2 L135.8 552.2 L135.8 552.6 L140.0 552.6 L140.0 553.0" stroke="#6a6a6a" stroke-width="4.6" fill="none" stroke-linejoin="miter" opacity="0.55"/><path d="M89.0 548.0 L93.2 548.0 L93.2 548.4 L97.5 548.4 L97.5 548.8 L101.8 548.8 L101.8 549.2 L106.0 549.2 L106.0 549.7 L110.2 549.7 L110.2 550.1 L114.5 550.1 L114.5 550.5 L118.8 550.5 L118.8 550.9 L123.0 550.9 L123.0 551.3 L127.2 551.3 L127.2 551.8 L131.5 551.8 L131.5 552.2 L135.8 552.2 L135.8 552.6 L140.0 552.6 L140.0 553.0" stroke="#e2e2e2" stroke-width="3.0" fill="none" stroke-linejoin="miter" opacity="1"/><path d="M140.0 553.0 Q146.0 556.0 146.0 565.0" stroke="#bdbdbd" stroke-width="1.4" fill="none" stroke-dasharray="1.5 1.5"/><path d="M91.0 558.0 L95.2 558.0 L95.2 558.6 L99.5 558.6 L99.5 559.2 L103.7 559.2 L103.7 559.8 L107.9 559.8 L107.9 560.5 L112.2 560.5 L112.2 561.1 L116.4 561.1 L116.4 561.7 L120.6 561.7 L120.6 562.3 L124.8 562.3 L124.8 562.9 L129.1 562.9 L129.1 563.5 L133.3 563.5 L133.3 564.2 L137.5 564.2 L137.5 564.8 L141.8 564.8 L141.8 565.4 L146.0 565.4 L146.0 566.0" stroke="#6a6a6a" stroke-width="4.6" fill="none" stroke-linejoin="miter" opacity="0.55"/><path d="M91.0 558.0 L95.2 558.0 L95.2 558.6 L99.5 558.6 L99.5 559.2 L103.7 559.2 L103.7 559.8 L107.9 559.8 L107.9 560.5 L112.2 560.5 L112.2 561.1 L116.4 561.1 L116.4 561.7 L120.6 561.7 L120.6 562.3 L124.8 562.3 L124.8 562.9 L129.1 562.9 L129.1 563.5 L133.3 563.5 L133.3 564.2 L137.5 564.2 L137.5 564.8 L141.8 564.8 L141.8 565.4 L146.0 565.4 L146.0 566.0" stroke="#e2e2e2" stroke-width="3.0" fill="none" stroke-linejoin="miter" opacity="1"/><path d="M146.0 566.0 Q152.0 569.0 152.0 578.0" stroke="#bdbdbd" stroke-width="1.4" fill="none" stroke-dasharray="1.5 1.5"/><path d="M92.0 570.0 L96.0 570.0 L96.0 570.7 L100.0 570.7 L100.0 571.4 L104.0 571.4 L104.0 572.1 L108.0 572.1 L108.0 572.9 L112.0 572.9 L112.0 573.6 L116.0 573.6 L116.0 574.3 L120.0 574.3 L120.0 575.0 L124.0 575.0 L124.0 575.7 L128.0 575.7 L128.0 576.4 L132.0 576.4 L132.0 577.1 L136.0 577.1 L136.0 577.9 L140.0 577.9 L140.0 578.6 L144.0 578.6 L144.0 579.3 L148.0 579.3 L148.0 580.0" stroke="#6a6a6a" stroke-width="4.6" fill="none" stroke-linejoin="miter" opacity="0.55"/><path d="M92.0 570.0 L96.0 570.0 L96.0 570.7 L100.0 570.7 L100.0 571.4 L104.0 571.4 L104.0 572.1 L108.0 572.1 L108.0 572.9 L112.0 572.9 L112.0 573.6 L116.0 573.6 L116.0 574.3 L120.0 574.3 L120.0 575.0 L124.0 575.0 L124.0 575.7 L128.0 575.7 L128.0 576.4 L132.0 576.4 L132.0 577.1 L136.0 577.1 L136.0 577.9 L140.0 577.9 L140.0 578.6 L144.0 578.6 L144.0 579.3 L148.0 579.3 L148.0 580.0" stroke="#e2e2e2" stroke-width="3.0" fill="none" stroke-linejoin="miter" opacity="1"/><path d="M148.0 580.0 Q154.0 583.0 154.0 592.0" stroke="#bdbdbd" stroke-width="1.4" fill="none" stroke-dasharray="1.5 1.5"/><path d="M92.0 582.0 L96.0 582.0 L96.0 582.8 L100.0 582.8 L100.0 583.6 L104.0 583.6 L104.0 584.4 L108.0 584.4 L108.0 585.1 L112.0 585.1 L112.0 585.9 L116.0 585.9 L116.0 586.7 L120.0 586.7 L120.0 587.5 L124.0 587.5 L124.0 588.3 L128.0 588.3 L128.0 589.1 L132.0 589.1 L132.0 589.9 L136.0 589.9 L136.0 590.6 L140.0 590.6 L140.0 591.4 L144.0 591.4 L144.0 592.2 L148.0 592.2 L148.0 593.0" stroke="#6a6a6a" stroke-width="4.6" fill="none" stroke-linejoin="miter" opacity="0.55"/><path d="M92.0 582.0 L96.0 582.0 L96.0 582.8 L100.0 582.8 L100.0 583.6 L104.0 583.6 L104.0 584.4 L108.0 584.4 L108.0 585.1 L112.0 585.1 L112.0 585.9 L116.0 585.9 L116.0 586.7 L120.0 586.7 L120.0 587.5 L124.0 587.5 L124.0 588.3 L128.0 588.3 L128.0 589.1 L132.0 589.1 L132.0 589.9 L136.0 589.9 L136.0 590.6 L140.0 590.6 L140.0 591.4 L144.0 591.4 L144.0 592.2 L148.0 592.2 L148.0 593.0" stroke="#e2e2e2" stroke-width="3.0" fill="none" stroke-linejoin="miter" opacity="1"/><path d="M148.0 593.0 Q154.0 596.0 154.0 605.0" stroke="#bdbdbd" stroke-width="1.4" fill="none" stroke-dasharray="1.5 1.5"/><polygon points="68.0,487.0 70.7,573.0 71.0,660.0 90.5,660.0 87.8,573.0 85.0,487.0" fill="#dcdcdc"/><rect x="65.6" y="487.0" width="2.7" height="2.9" fill="#c8c8c8"/><rect x="84.1" y="487.0" width="2.4" height="2.3" fill="#c8c8c8"/><rect x="77.7" y="487.0" width="2.1" height="1.3" fill="#6a6a6a"/><rect x="66.7" y="490.0" width="2.8" height="2.8" fill="#c8c8c8"/><rect x="84.5" y="490.0" width="3.4" height="2.6" fill="#c8c8c8"/><path d="M72.3 490.0 L80.8 490.0 L77.4 494.0 L75.7 494.0 Z" fill="#111"/><rect x="67.6" y="491.0" width="2.2" height="3" fill="#1a1a1a"/><rect x="83.4" y="491.0" width="2.2" height="3" fill="#1a1a1a"/><rect x="84.1" y="493.1" width="2.5" height="2.4" fill="#c8c8c8"/><rect x="74.2" y="493.1" width="1.5" height="1.5" fill="#6a6a6a"/><rect x="67.0" y="496.1" width="2.6" height="2.6" fill="#c8c8c8"/><rect x="84.8" y="496.1" width="2.2" height="2.4" fill="#c8c8c8"/><rect x="78.0" y="496.1" width="1.9" height="1.7" fill="#6a6a6a"/><rect x="67.0" y="499.1" width="2.4" height="2.9" fill="#c8c8c8"/><rect x="84.7" y="499.1" width="1.6" height="2.4" fill="#c8c8c8"/><rect x="73.0" y="499.1" width="2.1" height="1.8" fill="#6a6a6a"/><path d="M72.7 502.2 L81.2 502.2 L77.8 506.2 L76.1 506.2 Z" fill="#111"/><rect x="68.0" y="503.2" width="2.2" height="3" fill="#1a1a1a"/><rect x="83.8" y="503.2" width="2.2" height="3" fill="#1a1a1a"/><rect x="65.8" y="505.2" width="3.8" height="2.6" fill="#c8c8c8"/><rect x="65.6" y="508.2" width="2.9" height="2.1" fill="#c8c8c8"/><rect x="85.1" y="508.2" width="2.8" height="2.2" fill="#c8c8c8"/><rect x="85.7" y="511.3" width="2.6" height="2.5" fill="#c8c8c8"/><rect x="76.6" y="511.3" width="2.6" height="1.5" fill="#6a6a6a"/><rect x="67.0" y="514.3" width="3.7" height="2.3" fill="#c8c8c8"/><path d="M73.1 514.3 L81.6 514.3 L78.2 518.3 L76.5 518.3 Z" fill="#111"/><rect x="68.4" y="515.3" width="2.2" height="3" fill="#1a1a1a"/><rect x="84.2" y="515.3" width="2.2" height="3" fill="#1a1a1a"/><rect x="66.1" y="520.4" width="2.4" height="2.1" fill="#c8c8c8"/><rect x="84.6" y="520.4" width="2.3" height="3.0" fill="#c8c8c8"/><rect x="77.9" y="520.4" width="1.9" height="2.1" fill="#6a6a6a"/><rect x="85.6" y="523.4" width="1.6" height="2.3" fill="#c8c8c8"/><rect x="81.6" y="523.4" width="2.5" height="1.4" fill="#6a6a6a"/><rect x="86.0" y="526.5" width="1.6" height="2.8" fill="#c8c8c8"/><path d="M73.5 526.5 L82.0 526.5 L78.6 530.5 L76.9 530.5 Z" fill="#111"/><rect x="68.7" y="527.5" width="2.2" height="3" fill="#1a1a1a"/><rect x="84.6" y="527.5" width="2.2" height="3" fill="#1a1a1a"/><rect x="66.1" y="529.5" width="3.2" height="2.1" fill="#c8c8c8"/><rect x="85.1" y="529.5" width="2.0" height="2.8" fill="#c8c8c8"/><rect x="80.2" y="529.5" width="2.7" height="1.6" fill="#6a6a6a"/><rect x="86.3" y="532.5" width="2.8" height="1.6" fill="#c8c8c8"/><rect x="82.2" y="532.5" width="1.7" height="1.3" fill="#6a6a6a"/><rect x="68.5" y="535.6" width="3.2" height="2.4" fill="#c8c8c8"/><rect x="85.5" y="535.6" width="1.8" height="1.6" fill="#c8c8c8"/><rect x="75.5" y="535.6" width="2.5" height="1.7" fill="#6a6a6a"/><rect x="68.3" y="538.6" width="3.8" height="2.3" fill="#c8c8c8"/><path d="M73.9 538.6 L82.4 538.6 L79.0 542.6 L77.3 542.6 Z" fill="#111"/><rect x="69.1" y="539.6" width="2.2" height="3" fill="#1a1a1a"/><rect x="85.0" y="539.6" width="2.2" height="3" fill="#1a1a1a"/><rect x="73.3" y="541.6" width="1.5" height="2.2" fill="#6a6a6a"/><rect x="67.1" y="544.7" width="3.7" height="2.3" fill="#c8c8c8"/><rect x="75.6" y="544.7" width="2.7" height="1.5" fill="#6a6a6a"/><rect x="86.0" y="550.7" width="3.1" height="3.0" fill="#c8c8c8"/><path d="M74.3 550.7 L82.8 550.7 L79.4 554.7 L77.7 554.7 Z" fill="#111"/><rect x="69.5" y="551.7" width="2.2" height="3" fill="#1a1a1a"/><rect x="85.4" y="551.7" width="2.2" height="3" fill="#1a1a1a"/><rect x="66.7" y="553.8" width="3.2" height="1.7" fill="#c8c8c8"/><rect x="86.0" y="553.8" width="2.7" height="2.6" fill="#c8c8c8"/><rect x="71.8" y="553.8" width="2.5" height="2.1" fill="#6a6a6a"/><rect x="66.7" y="556.8" width="3.3" height="2.4" fill="#c8c8c8"/><rect x="86.7" y="556.8" width="2.0" height="2.7" fill="#c8c8c8"/><rect x="71.8" y="559.8" width="2.1" height="1.7" fill="#6a6a6a"/><path d="M74.7 562.9 L83.2 562.9 L79.8 566.9 L78.1 566.9 Z" fill="#111"/><rect x="69.9" y="563.9" width="2.2" height="3" fill="#1a1a1a"/><rect x="85.8" y="563.9" width="2.2" height="3" fill="#1a1a1a"/><rect x="68.6" y="568.9" width="2.5" height="2.1" fill="#c8c8c8"/><rect x="75.4" y="568.9" width="2.2" height="1.5" fill="#6a6a6a"/><rect x="68.7" y="572.0" width="2.1" height="2.2" fill="#c8c8c8"/><rect x="86.7" y="575.0" width="3.5" height="1.9" fill="#c8c8c8"/><path d="M75.0 575.0 L83.6 575.0 L80.1 579.0 L78.4 579.0 Z" fill="#111"/><rect x="70.2" y="576.0" width="2.2" height="3" fill="#1a1a1a"/><rect x="86.2" y="576.0" width="2.2" height="3" fill="#1a1a1a"/><rect x="68.9" y="578.1" width="3.2" height="1.6" fill="#c8c8c8"/><rect x="87.6" y="578.1" width="2.0" height="2.7" fill="#c8c8c8"/><rect x="87.4" y="581.1" width="3.2" height="2.2" fill="#c8c8c8"/><rect x="75.2" y="581.1" width="2.7" height="1.6" fill="#6a6a6a"/><rect x="67.9" y="584.1" width="3.9" height="2.1" fill="#c8c8c8"/><rect x="83.6" y="584.1" width="2.7" height="2.0" fill="#6a6a6a"/><rect x="68.0" y="587.2" width="3.4" height="2.7" fill="#c8c8c8"/><rect x="87.0" y="587.2" width="1.6" height="2.1" fill="#c8c8c8"/><path d="M75.1 587.2 L83.9 587.2 L80.4 591.2 L78.6 591.2 Z" fill="#111"/><rect x="70.2" y="588.2" width="2.2" height="3" fill="#1a1a1a"/><rect x="86.5" y="588.2" width="2.2" height="3" fill="#1a1a1a"/><rect x="87.0" y="590.2" width="2.2" height="1.9" fill="#c8c8c8"/><rect x="79.5" y="590.2" width="2.0" height="1.4" fill="#6a6a6a"/><rect x="68.0" y="593.2" width="3.0" height="3.0" fill="#c8c8c8"/><rect x="88.0" y="593.2" width="2.2" height="2.7" fill="#c8c8c8"/><rect x="87.4" y="596.3" width="3.3" height="2.1" fill="#c8c8c8"/><rect x="67.6" y="599.3" width="3.9" height="1.9" fill="#c8c8c8"/><path d="M75.2 599.3 L84.2 599.3 L80.6 603.3 L78.8 603.3 Z" fill="#111"/><rect x="70.3" y="600.3" width="2.2" height="3" fill="#1a1a1a"/><rect x="86.9" y="600.3" width="2.2" height="3" fill="#1a1a1a"/><rect x="68.5" y="602.3" width="2.6" height="2.9" fill="#c8c8c8"/><rect x="87.5" y="602.3" width="2.1" height="2.4" fill="#c8c8c8"/><rect x="80.1" y="602.3" width="2.5" height="1.3" fill="#6a6a6a"/><rect x="68.3" y="605.4" width="2.2" height="2.3" fill="#c8c8c8"/><rect x="72.7" y="605.4" width="2.8" height="2.1" fill="#6a6a6a"/><rect x="69.7" y="608.4" width="3.3" height="2.5" fill="#c8c8c8"/><path d="M75.4 611.4 L84.5 611.4 L80.8 615.4 L79.0 615.4 Z" fill="#111"/><rect x="70.3" y="612.4" width="2.2" height="3" fill="#1a1a1a"/><rect x="87.3" y="612.4" width="2.2" height="3" fill="#1a1a1a"/><rect x="87.7" y="614.5" width="2.9" height="1.7" fill="#c8c8c8"/><rect x="69.7" y="617.5" width="3.5" height="1.9" fill="#c8c8c8"/><rect x="87.9" y="617.5" width="3.0" height="3.0" fill="#c8c8c8"/><rect x="83.7" y="617.5" width="2.8" height="1.3" fill="#6a6a6a"/><rect x="69.6" y="620.5" width="2.1" height="2.7" fill="#c8c8c8"/><rect x="89.1" y="620.5" width="2.1" height="1.8" fill="#c8c8c8"/><rect x="81.2" y="620.5" width="2.6" height="1.7" fill="#6a6a6a"/><rect x="88.2" y="623.6" width="2.6" height="2.9" fill="#c8c8c8"/><path d="M75.5 623.6 L84.7 623.6 L81.0 627.6 L79.2 627.6 Z" fill="#111"/><rect x="70.4" y="624.6" width="2.2" height="3" fill="#1a1a1a"/><rect x="87.7" y="624.6" width="2.2" height="3" fill="#1a1a1a"/><rect x="67.7" y="626.6" width="2.4" height="1.8" fill="#c8c8c8"/><rect x="68.0" y="629.6" width="3.7" height="1.6" fill="#c8c8c8"/><rect x="72.5" y="629.6" width="2.4" height="1.7" fill="#6a6a6a"/><rect x="88.6" y="632.7" width="2.5" height="1.8" fill="#c8c8c8"/><rect x="78.1" y="632.7" width="2.9" height="1.7" fill="#6a6a6a"/><rect x="88.9" y="635.7" width="2.0" height="1.9" fill="#c8c8c8"/><path d="M75.6 635.7 L85.0 635.7 L81.3 639.7 L79.4 639.7 Z" fill="#111"/><rect x="70.4" y="636.7" width="2.2" height="3" fill="#1a1a1a"/><rect x="88.0" y="636.7" width="2.2" height="3" fill="#1a1a1a"/><rect x="69.1" y="638.8" width="3.5" height="2.7" fill="#c8c8c8"/><rect x="76.8" y="638.8" width="2.8" height="2.2" fill="#6a6a6a"/><rect x="85.4" y="641.8" width="2.9" height="1.9" fill="#6a6a6a"/><rect x="69.0" y="644.8" width="3.3" height="1.6" fill="#c8c8c8"/><rect x="88.8" y="644.8" width="1.5" height="2.8" fill="#c8c8c8"/><rect x="78.3" y="644.8" width="2.6" height="1.4" fill="#6a6a6a"/><path d="M75.7 647.9 L85.3 647.9 L81.5 651.9 L79.6 651.9 Z" fill="#111"/><rect x="70.5" y="648.9" width="2.2" height="3" fill="#1a1a1a"/><rect x="88.4" y="648.9" width="2.2" height="3" fill="#1a1a1a"/><rect x="67.6" y="650.9" width="3.2" height="2.8" fill="#c8c8c8"/><rect x="68.9" y="653.9" width="2.7" height="2.1" fill="#c8c8c8"/><rect x="90.0" y="653.9" width="2.9" height="1.7" fill="#c8c8c8"/><rect x="75.7" y="653.9" width="3.0" height="1.8" fill="#6a6a6a"/><rect x="68.7" y="657.0" width="2.8" height="1.6" fill="#c8c8c8"/><rect x="89.7" y="657.0" width="2.6" height="2.3" fill="#c8c8c8"/><rect x="72.4" y="657.0" width="2.3" height="1.5" fill="#6a6a6a"/><path d="M100.9 572.3 C101.9 570.0 103.1 567.2 105.2 565.8 C107.3 564.4 110.4 564.2 113.8 563.9 C117.2 563.5 121.6 563.4 125.4 563.7 C129.2 564.0 133.8 564.1 136.9 565.8 C140.0 567.5 142.2 570.8 144.1 573.8 C146.0 576.8 147.4 579.7 148.5 583.8 C149.6 587.9 150.4 593.5 150.6 598.3 C150.8 603.1 150.5 608.4 149.9 612.7 C149.3 617.0 148.4 621.4 147.0 624.2 C145.6 627.0 143.7 628.6 141.3 629.3 C138.9 630.0 135.2 629.9 132.6 628.6 C129.9 627.3 127.5 624.2 125.4 621.3 C123.4 618.4 122.2 614.4 120.3 611.3 C118.4 608.2 116.3 605.2 113.8 602.6 C111.3 600.0 107.5 597.8 105.2 595.4 C102.9 593.0 101.1 590.9 100.1 588.2 C99.1 585.6 99.3 582.1 99.4 579.5 C99.5 576.9 99.9 574.6 100.9 572.3 Z" fill="#4cb335"/><path d="M109.6 571.6 Q130.1 568.9 140.4 580.1 Q142.9 596.5 130.1 609.6 Q125.0 619.5 131.1 626.0" stroke="#2a7f22" stroke-width="1.2" fill="none"/><path d="M122.4 583.4 Q125.0 593.2 120.9 601.7" stroke="#2f8a27" stroke-width="1.2" fill="none"/></g><rect x="5" y="491.8" width="18.3" height="20.8" fill="#fff"/><text x="13.4" y="508.6" font-size="18" text-anchor="middle" fill="#111" font-weight="bold" >G</text>
<clipPath id="cpH"><rect x="170" y="487" width="162" height="173"/></clipPath><g clip-path="url(#cpH)"><rect x="170" y="487" width="162" height="173" fill="#060606"/><path d="M177 487 L186 487 L186 541 L179 541 Z" fill="#b8b8b8"/><path d="M290 492 L310 487 L320 500 L317 540 L296 534 Z" fill="#3a3a3a" stroke="#d0d0d0" stroke-width="2.2"/><path d="M302 490 L310 515 L304 534" stroke="#c8c8c8" stroke-width="2" fill="none"/><path d="M198 505 Q184 550 190 600 Q192 612 196 618" stroke="#bdbdbd" stroke-width="1.3" fill="none" stroke-dasharray="1.6 1.4"/><path d="M312 505 Q326 550 320 600" stroke="#bdbdbd" stroke-width="1.3" fill="none" stroke-dasharray="1.6 1.4"/><path d="M236.0 500.0 L231.8 500.0 L231.8 500.4 L227.5 500.4 L227.5 500.8 L223.2 500.8 L223.2 501.1 L219.0 501.1 L219.0 501.5 L214.8 501.5 L214.8 501.9 L210.5 501.9 L210.5 502.2 L206.2 502.2 L206.2 502.6 L202.0 502.6 L202.0 503.0" stroke="#6a6a6a" stroke-width="4.7" fill="none" stroke-linejoin="miter" opacity="0.55"/><path d="M236.0 500.0 L231.8 500.0 L231.8 500.4 L227.5 500.4 L227.5 500.8 L223.2 500.8 L223.2 501.1 L219.0 501.1 L219.0 501.5 L214.8 501.5 L214.8 501.9 L210.5 501.9 L210.5 502.2 L206.2 502.2 L206.2 502.6 L202.0 502.6 L202.0 503.0" stroke="#e2e2e2" stroke-width="3.1" fill="none" stroke-linejoin="miter" opacity="1"/><path d="M202.0 503.0 Q196.0 505.0 195.0 513.0" stroke="#bdbdbd" stroke-width="1.4" fill="none" stroke-dasharray="1.5 1.5"/><path d="M236.0 510.0 L232.0 510.0 L232.0 510.3 L228.0 510.3 L228.0 510.7 L224.0 510.7 L224.0 511.0 L220.0 511.0 L220.0 511.3 L216.0 511.3 L216.0 511.7 L212.0 511.7 L212.0 512.0 L208.0 512.0 L208.0 512.3 L204.0 512.3 L204.0 512.7 L200.0 512.7 L200.0 513.0" stroke="#6a6a6a" stroke-width="4.7" fill="none" stroke-linejoin="miter" opacity="0.55"/><path d="M236.0 510.0 L232.0 510.0 L232.0 510.3 L228.0 510.3 L228.0 510.7 L224.0 510.7 L224.0 511.0 L220.0 511.0 L220.0 511.3 L216.0 511.3 L216.0 511.7 L212.0 511.7 L212.0 512.0 L208.0 512.0 L208.0 512.3 L204.0 512.3 L204.0 512.7 L200.0 512.7 L200.0 513.0" stroke="#e2e2e2" stroke-width="3.1" fill="none" stroke-linejoin="miter" opacity="1"/><path d="M200.0 513.0 Q194.0 515.0 193.0 523.0" stroke="#bdbdbd" stroke-width="1.4" fill="none" stroke-dasharray="1.5 1.5"/><path d="M236.0 520.0 L231.8 520.0 L231.8 520.3 L227.6 520.3 L227.6 520.7 L223.3 520.7 L223.3 521.0 L219.1 521.0 L219.1 521.3 L214.9 521.3 L214.9 521.7 L210.7 521.7 L210.7 522.0 L206.4 522.0 L206.4 522.3 L202.2 522.3 L202.2 522.7 L198.0 522.7 L198.0 523.0" stroke="#6a6a6a" stroke-width="4.7" fill="none" stroke-linejoin="miter" opacity="0.55"/><path d="M236.0 520.0 L231.8 520.0 L231.8 520.3 L227.6 520.3 L227.6 520.7 L223.3 520.7 L223.3 521.0 L219.1 521.0 L219.1 521.3 L214.9 521.3 L214.9 521.7 L210.7 521.7 L210.7 522.0 L206.4 522.0 L206.4 522.3 L202.2 522.3 L202.2 522.7 L198.0 522.7 L198.0 523.0" stroke="#e2e2e2" stroke-width="3.1" fill="none" stroke-linejoin="miter" opacity="1"/><path d="M198.0 523.0 Q192.0 525.0 191.0 533.0" stroke="#bdbdbd" stroke-width="1.4" fill="none" stroke-dasharray="1.5 1.5"/><path d="M236.0 530.0 L231.7 530.0 L231.7 530.6 L227.3 530.6 L227.3 531.1 L223.0 531.1 L223.0 531.7 L218.7 531.7 L218.7 532.2 L214.3 532.2 L214.3 532.8 L210.0 532.8 L210.0 533.3 L205.7 533.3 L205.7 533.9 L201.3 533.9 L201.3 534.4 L197.0 534.4 L197.0 535.0" stroke="#6a6a6a" stroke-width="4.7" fill="none" stroke-linejoin="miter" opacity="0.55"/><path d="M236.0 530.0 L231.7 530.0 L231.7 530.6 L227.3 530.6 L227.3 531.1 L223.0 531.1 L223.0 531.7 L218.7 531.7 L218.7 532.2 L214.3 532.2 L214.3 532.8 L210.0 532.8 L210.0 533.3 L205.7 533.3 L205.7 533.9 L201.3 533.9 L201.3 534.4 L197.0 534.4 L197.0 535.0" stroke="#e2e2e2" stroke-width="3.1" fill="none" stroke-linejoin="miter" opacity="1"/><path d="M197.0 535.0 Q191.0 537.0 190.0 545.0" stroke="#bdbdbd" stroke-width="1.4" fill="none" stroke-dasharray="1.5 1.5"/><path d="M236.0 540.0 L231.9 540.0 L231.9 540.7 L227.8 540.7 L227.8 541.4 L223.7 541.4 L223.7 542.1 L219.6 542.1 L219.6 542.8 L215.5 542.8 L215.5 543.5 L211.4 543.5 L211.4 544.2 L207.3 544.2 L207.3 544.9 L203.2 544.9 L203.2 545.6 L199.1 545.6 L199.1 546.3 L195.0 546.3 L195.0 547.0" stroke="#6a6a6a" stroke-width="4.7" fill="none" stroke-linejoin="miter" opacity="0.55"/><path d="M236.0 540.0 L231.9 540.0 L231.9 540.7 L227.8 540.7 L227.8 541.4 L223.7 541.4 L223.7 542.1 L219.6 542.1 L219.6 542.8 L215.5 542.8 L215.5 543.5 L211.4 543.5 L211.4 544.2 L207.3 544.2 L207.3 544.9 L203.2 544.9 L203.2 545.6 L199.1 545.6 L199.1 546.3 L195.0 546.3 L195.0 547.0" stroke="#e2e2e2" stroke-width="3.1" fill="none" stroke-linejoin="miter" opacity="1"/><path d="M195.0 547.0 Q189.0 549.0 188.0 557.0" stroke="#bdbdbd" stroke-width="1.4" fill="none" stroke-dasharray="1.5 1.5"/><path d="M236.0 551.0 L232.0 551.0 L232.0 552.0 L228.0 552.0 L228.0 553.0 L224.0 553.0 L224.0 554.0 L220.0 554.0 L220.0 555.0 L216.0 555.0 L216.0 556.0 L212.0 556.0 L212.0 557.0 L208.0 557.0 L208.0 558.0 L204.0 558.0 L204.0 559.0 L200.0 559.0 L200.0 560.0 L196.0 560.0 L196.0 561.0 L192.0 561.0 L192.0 562.0" stroke="#6a6a6a" stroke-width="4.7" fill="none" stroke-linejoin="miter" opacity="0.55"/><path d="M236.0 551.0 L232.0 551.0 L232.0 552.0 L228.0 552.0 L228.0 553.0 L224.0 553.0 L224.0 554.0 L220.0 554.0 L220.0 555.0 L216.0 555.0 L216.0 556.0 L212.0 556.0 L212.0 557.0 L208.0 557.0 L208.0 558.0 L204.0 558.0 L204.0 559.0 L200.0 559.0 L200.0 560.0 L196.0 560.0 L196.0 561.0 L192.0 561.0 L192.0 562.0" stroke="#e2e2e2" stroke-width="3.1" fill="none" stroke-linejoin="miter" opacity="1"/><path d="M192.0 562.0 Q186.0 564.0 185.0 572.0" stroke="#bdbdbd" stroke-width="1.4" fill="none" stroke-dasharray="1.5 1.5"/><path d="M235.0 562.0 L230.9 562.0 L230.9 563.2 L226.8 563.2 L226.8 564.5 L222.8 564.5 L222.8 565.8 L218.7 565.8 L218.7 567.0 L214.6 567.0 L214.6 568.2 L210.5 568.2 L210.5 569.5 L206.4 569.5 L206.4 570.8 L202.3 570.8 L202.3 572.0 L198.2 572.0 L198.2 573.2 L194.2 573.2 L194.2 574.5 L190.1 574.5 L190.1 575.8 L186.0 575.8 L186.0 577.0" stroke="#6a6a6a" stroke-width="4.7" fill="none" stroke-linejoin="miter" opacity="0.55"/><path d="M235.0 562.0 L230.9 562.0 L230.9 563.2 L226.8 563.2 L226.8 564.5 L222.8 564.5 L222.8 565.8 L218.7 565.8 L218.7 567.0 L214.6 567.0 L214.6 568.2 L210.5 568.2 L210.5 569.5 L206.4 569.5 L206.4 570.8 L202.3 570.8 L202.3 572.0 L198.2 572.0 L198.2 573.2 L194.2 573.2 L194.2 574.5 L190.1 574.5 L190.1 575.8 L186.0 575.8 L186.0 577.0" stroke="#e2e2e2" stroke-width="3.1" fill="none" stroke-linejoin="miter" opacity="1"/><path d="M186.0 577.0 Q180.0 579.0 179.0 587.0" stroke="#bdbdbd" stroke-width="1.4" fill="none" stroke-dasharray="1.5 1.5"/><path d="M235.0 569.0 L231.3 569.0 L231.3 570.8 L227.6 570.8 L227.6 572.5 L223.9 572.5 L223.9 574.3 L220.2 574.3 L220.2 576.1 L216.5 576.1 L216.5 577.8 L212.8 577.8 L212.8 579.6 L209.2 579.6 L209.2 581.4 L205.5 581.4 L205.5 583.2 L201.8 583.2 L201.8 584.9 L198.1 584.9 L198.1 586.7 L194.4 586.7 L194.4 588.5 L190.7 588.5 L190.7 590.2 L187.0 590.2 L187.0 592.0" stroke="#6a6a6a" stroke-width="4.7" fill="none" stroke-linejoin="miter" opacity="0.55"/><path d="M235.0 569.0 L231.3 569.0 L231.3 570.8 L227.6 570.8 L227.6 572.5 L223.9 572.5 L223.9 574.3 L220.2 574.3 L220.2 576.1 L216.5 576.1 L216.5 577.8 L212.8 577.8 L212.8 579.6 L209.2 579.6 L209.2 581.4 L205.5 581.4 L205.5 583.2 L201.8 583.2 L201.8 584.9 L198.1 584.9 L198.1 586.7 L194.4 586.7 L194.4 588.5 L190.7 588.5 L190.7 590.2 L187.0 590.2 L187.0 592.0" stroke="#e2e2e2" stroke-width="3.1" fill="none" stroke-linejoin="miter" opacity="1"/><path d="M187.0 592.0 Q181.0 594.0 180.0 602.0" stroke="#bdbdbd" stroke-width="1.4" fill="none" stroke-dasharray="1.5 1.5"/><path d="M235.0 584.0 L231.7 584.0 L231.7 586.7 L228.3 586.7 L228.3 589.3 L225.0 589.3 L225.0 592.0 L221.7 592.0 L221.7 594.7 L218.3 594.7 L218.3 597.3 L215.0 597.3 L215.0 600.0 L211.7 600.0 L211.7 602.7 L208.3 602.7 L208.3 605.3 L205.0 605.3 L205.0 608.0 L201.7 608.0 L201.7 610.7 L198.3 610.7 L198.3 613.3 L195.0 613.3 L195.0 616.0" stroke="#6a6a6a" stroke-width="4.7" fill="none" stroke-linejoin="miter" opacity="0.55"/><path d="M235.0 584.0 L231.7 584.0 L231.7 586.7 L228.3 586.7 L228.3 589.3 L225.0 589.3 L225.0 592.0 L221.7 592.0 L221.7 594.7 L218.3 594.7 L218.3 597.3 L215.0 597.3 L215.0 600.0 L211.7 600.0 L211.7 602.7 L208.3 602.7 L208.3 605.3 L205.0 605.3 L205.0 608.0 L201.7 608.0 L201.7 610.7 L198.3 610.7 L198.3 613.3 L195.0 613.3 L195.0 616.0" stroke="#e2e2e2" stroke-width="3.1" fill="none" stroke-linejoin="miter" opacity="1"/><path d="M195.0 616.0 Q189.0 618.0 188.0 626.0" stroke="#bdbdbd" stroke-width="1.4" fill="none" stroke-dasharray="1.5 1.5"/><path d="M232.0 601.0 L229.0 601.0 L229.0 604.0 L226.0 604.0 L226.0 607.0 L223.0 607.0 L223.0 610.0" stroke="#6a6a6a" stroke-width="4.7" fill="none" stroke-linejoin="miter" opacity="0.55"/><path d="M232.0 601.0 L229.0 601.0 L229.0 604.0 L226.0 604.0 L226.0 607.0 L223.0 607.0 L223.0 610.0" stroke="#e2e2e2" stroke-width="3.1" fill="none" stroke-linejoin="miter" opacity="1"/><path d="M223.0 610.0 Q217.0 612.0 216.0 620.0" stroke="#bdbdbd" stroke-width="1.4" fill="none" stroke-dasharray="1.5 1.5"/><path d="M258.0 498.0 L262.2 498.0 L262.2 498.1 L266.4 498.1 L266.4 498.2 L270.6 498.2 L270.6 498.3 L274.8 498.3 L274.8 498.4 L279.0 498.4 L279.0 498.5 L283.2 498.5 L283.2 498.6 L287.4 498.6 L287.4 498.7 L291.6 498.7 L291.6 498.8 L295.8 498.8 L295.8 498.9 L300.0 498.9 L300.0 499.0" stroke="#6a6a6a" stroke-width="4.6" fill="none" stroke-linejoin="miter" opacity="0.55"/><path d="M258.0 498.0 L262.2 498.0 L262.2 498.1 L266.4 498.1 L266.4 498.2 L270.6 498.2 L270.6 498.3 L274.8 498.3 L274.8 498.4 L279.0 498.4 L279.0 498.5 L283.2 498.5 L283.2 498.6 L287.4 498.6 L287.4 498.7 L291.6 498.7 L291.6 498.8 L295.8 498.8 L295.8 498.9 L300.0 498.9 L300.0 499.0" stroke="#e2e2e2" stroke-width="3.0" fill="none" stroke-linejoin="miter" opacity="1"/><path d="M300.0 499.0 Q306.0 502.0 306.0 511.0" stroke="#bdbdbd" stroke-width="1.4" fill="none" stroke-dasharray="1.5 1.5"/><path d="M258.0 508.0 L262.0 508.0 L262.0 508.3 L266.0 508.3 L266.0 508.5 L270.0 508.5 L270.0 508.8 L274.0 508.8 L274.0 509.1 L278.0 509.1 L278.0 509.4 L282.0 509.4 L282.0 509.6 L286.0 509.6 L286.0 509.9 L290.0 509.9 L290.0 510.2 L294.0 510.2 L294.0 510.5 L298.0 510.5 L298.0 510.7 L302.0 510.7 L302.0 511.0" stroke="#6a6a6a" stroke-width="4.6" fill="none" stroke-linejoin="miter" opacity="0.55"/><path d="M258.0 508.0 L262.0 508.0 L262.0 508.3 L266.0 508.3 L266.0 508.5 L270.0 508.5 L270.0 508.8 L274.0 508.8 L274.0 509.1 L278.0 509.1 L278.0 509.4 L282.0 509.4 L282.0 509.6 L286.0 509.6 L286.0 509.9 L290.0 509.9 L290.0 510.2 L294.0 510.2 L294.0 510.5 L298.0 510.5 L298.0 510.7 L302.0 510.7 L302.0 511.0" stroke="#e2e2e2" stroke-width="3.0" fill="none" stroke-linejoin="miter" opacity="1"/><path d="M302.0 511.0 Q308.0 514.0 308.0 523.0" stroke="#bdbdbd" stroke-width="1.4" fill="none" stroke-dasharray="1.5 1.5"/><path d="M258.0 518.0 L262.0 518.0 L262.0 518.3 L266.0 518.3 L266.0 518.5 L270.0 518.5 L270.0 518.8 L274.0 518.8 L274.0 519.1 L278.0 519.1 L278.0 519.4 L282.0 519.4 L282.0 519.6 L286.0 519.6 L286.0 519.9 L290.0 519.9 L290.0 520.2 L294.0 520.2 L294.0 520.5 L298.0 520.5 L298.0 520.7 L302.0 520.7 L302.0 521.0" stroke="#6a6a6a" stroke-width="4.6" fill="none" stroke-linejoin="miter" opacity="0.55"/><path d="M258.0 518.0 L262.0 518.0 L262.0 518.3 L266.0 518.3 L266.0 518.5 L270.0 518.5 L270.0 518.8 L274.0 518.8 L274.0 519.1 L278.0 519.1 L278.0 519.4 L282.0 519.4 L282.0 519.6 L286.0 519.6 L286.0 519.9 L290.0 519.9 L290.0 520.2 L294.0 520.2 L294.0 520.5 L298.0 520.5 L298.0 520.7 L302.0 520.7 L302.0 521.0" stroke="#e2e2e2" stroke-width="3.0" fill="none" stroke-linejoin="miter" opacity="1"/><path d="M302.0 521.0 Q308.0 524.0 308.0 533.0" stroke="#bdbdbd" stroke-width="1.4" fill="none" stroke-dasharray="1.5 1.5"/><path d="M258.0 527.0 L262.1 527.0 L262.1 527.4 L266.2 527.4 L266.2 527.7 L270.3 527.7 L270.3 528.1 L274.4 528.1 L274.4 528.5 L278.5 528.5 L278.5 528.8 L282.5 528.8 L282.5 529.2 L286.6 529.2 L286.6 529.5 L290.7 529.5 L290.7 529.9 L294.8 529.9 L294.8 530.3 L298.9 530.3 L298.9 530.6 L303.0 530.6 L303.0 531.0" stroke="#6a6a6a" stroke-width="4.6" fill="none" stroke-linejoin="miter" opacity="0.55"/><path d="M258.0 527.0 L262.1 527.0 L262.1 527.4 L266.2 527.4 L266.2 527.7 L270.3 527.7 L270.3 528.1 L274.4 528.1 L274.4 528.5 L278.5 528.5 L278.5 528.8 L282.5 528.8 L282.5 529.2 L286.6 529.2 L286.6 529.5 L290.7 529.5 L290.7 529.9 L294.8 529.9 L294.8 530.3 L298.9 530.3 L298.9 530.6 L303.0 530.6 L303.0 531.0" stroke="#e2e2e2" stroke-width="3.0" fill="none" stroke-linejoin="miter" opacity="1"/><path d="M303.0 531.0 Q309.0 534.0 309.0 543.0" stroke="#bdbdbd" stroke-width="1.4" fill="none" stroke-dasharray="1.5 1.5"/><path d="M259.0 537.0 L263.2 537.0 L263.2 537.4 L267.4 537.4 L267.4 537.7 L271.5 537.7 L271.5 538.1 L275.7 538.1 L275.7 538.5 L279.9 538.5 L279.9 538.8 L284.1 538.8 L284.1 539.2 L288.3 539.2 L288.3 539.5 L292.5 539.5 L292.5 539.9 L296.6 539.9 L296.6 540.3 L300.8 540.3 L300.8 540.6 L305.0 540.6 L305.0 541.0" stroke="#6a6a6a" stroke-width="4.6" fill="none" stroke-linejoin="miter" opacity="0.55"/><path d="M259.0 537.0 L263.2 537.0 L263.2 537.4 L267.4 537.4 L267.4 537.7 L271.5 537.7 L271.5 538.1 L275.7 538.1 L275.7 538.5 L279.9 538.5 L279.9 538.8 L284.1 538.8 L284.1 539.2 L288.3 539.2 L288.3 539.5 L292.5 539.5 L292.5 539.9 L296.6 539.9 L296.6 540.3 L300.8 540.3 L300.8 540.6 L305.0 540.6 L305.0 541.0" stroke="#e2e2e2" stroke-width="3.0" fill="none" stroke-linejoin="miter" opacity="1"/><path d="M305.0 541.0 Q311.0 544.0 311.0 553.0" stroke="#bdbdbd" stroke-width="1.4" fill="none" stroke-dasharray="1.5 1.5"/><path d="M259.0 548.0 L263.2 548.0 L263.2 548.4 L267.5 548.4 L267.5 548.8 L271.8 548.8 L271.8 549.2 L276.0 549.2 L276.0 549.7 L280.2 549.7 L280.2 550.1 L284.5 550.1 L284.5 550.5 L288.8 550.5 L288.8 550.9 L293.0 550.9 L293.0 551.3 L297.2 551.3 L297.2 551.8 L301.5 551.8 L301.5 552.2 L305.8 552.2 L305.8 552.6 L310.0 552.6 L310.0 553.0" stroke="#6a6a6a" stroke-width="4.6" fill="none" stroke-linejoin="miter" opacity="0.55"/><path d="M259.0 548.0 L263.2 548.0 L263.2 548.4 L267.5 548.4 L267.5 548.8 L271.8 548.8 L271.8 549.2 L276.0 549.2 L276.0 549.7 L280.2 549.7 L280.2 550.1 L284.5 550.1 L284.5 550.5 L288.8 550.5 L288.8 550.9 L293.0 550.9 L293.0 551.3 L297.2 551.3 L297.2 551.8 L301.5 551.8 L301.5 552.2 L305.8 552.2 L305.8 552.6 L310.0 552.6 L310.0 553.0" stroke="#e2e2e2" stroke-width="3.0" fill="none" stroke-linejoin="miter" opacity="1"/><path d="M310.0 553.0 Q316.0 556.0 316.0 565.0" stroke="#bdbdbd" stroke-width="1.4" fill="none" stroke-dasharray="1.5 1.5"/><path d="M261.0 558.0 L265.2 558.0 L265.2 558.6 L269.5 558.6 L269.5 559.2 L273.7 559.2 L273.7 559.8 L277.9 559.8 L277.9 560.5 L282.2 560.5 L282.2 561.1 L286.4 561.1 L286.4 561.7 L290.6 561.7 L290.6 562.3 L294.8 562.3 L294.8 562.9 L299.1 562.9 L299.1 563.5 L303.3 563.5 L303.3 564.2 L307.5 564.2 L307.5 564.8 L311.8 564.8 L311.8 565.4 L316.0 565.4 L316.0 566.0" stroke="#6a6a6a" stroke-width="4.6" fill="none" stroke-linejoin="miter" opacity="0.55"/><path d="M261.0 558.0 L265.2 558.0 L265.2 558.6 L269.5 558.6 L269.5 559.2 L273.7 559.2 L273.7 559.8 L277.9 559.8 L277.9 560.5 L282.2 560.5 L282.2 561.1 L286.4 561.1 L286.4 561.7 L290.6 561.7 L290.6 562.3 L294.8 562.3 L294.8 562.9 L299.1 562.9 L299.1 563.5 L303.3 563.5 L303.3 564.2 L307.5 564.2 L307.5 564.8 L311.8 564.8 L311.8 565.4 L316.0 565.4 L316.0 566.0" stroke="#e2e2e2" stroke-width="3.0" fill="none" stroke-linejoin="miter" opacity="1"/><path d="M316.0 566.0 Q322.0 569.0 322.0 578.0" stroke="#bdbdbd" stroke-width="1.4" fill="none" stroke-dasharray="1.5 1.5"/><path d="M262.0 570.0 L266.0 570.0 L266.0 570.7 L270.0 570.7 L270.0 571.4 L274.0 571.4 L274.0 572.1 L278.0 572.1 L278.0 572.9 L282.0 572.9 L282.0 573.6 L286.0 573.6 L286.0 574.3 L290.0 574.3 L290.0 575.0 L294.0 575.0 L294.0 575.7 L298.0 575.7 L298.0 576.4 L302.0 576.4 L302.0 577.1 L306.0 577.1 L306.0 577.9 L310.0 577.9 L310.0 578.6 L314.0 578.6 L314.0 579.3 L318.0 579.3 L318.0 580.0" stroke="#6a6a6a" stroke-width="4.6" fill="none" stroke-linejoin="miter" opacity="0.55"/><path d="M262.0 570.0 L266.0 570.0 L266.0 570.7 L270.0 570.7 L270.0 571.4 L274.0 571.4 L274.0 572.1 L278.0 572.1 L278.0 572.9 L282.0 572.9 L282.0 573.6 L286.0 573.6 L286.0 574.3 L290.0 574.3 L290.0 575.0 L294.0 575.0 L294.0 575.7 L298.0 575.7 L298.0 576.4 L302.0 576.4 L302.0 577.1 L306.0 577.1 L306.0 577.9 L310.0 577.9 L310.0 578.6 L314.0 578.6 L314.0 579.3 L318.0 579.3 L318.0 580.0" stroke="#e2e2e2" stroke-width="3.0" fill="none" stroke-linejoin="miter" opacity="1"/><path d="M318.0 580.0 Q324.0 583.0 324.0 592.0" stroke="#bdbdbd" stroke-width="1.4" fill="none" stroke-dasharray="1.5 1.5"/><path d="M262.0 582.0 L266.0 582.0 L266.0 582.8 L270.0 582.8 L270.0 583.6 L274.0 583.6 L274.0 584.4 L278.0 584.4 L278.0 585.1 L282.0 585.1 L282.0 585.9 L286.0 585.9 L286.0 586.7 L290.0 586.7 L290.0 587.5 L294.0 587.5 L294.0 588.3 L298.0 588.3 L298.0 589.1 L302.0 589.1 L302.0 589.9 L306.0 589.9 L306.0 590.6 L310.0 590.6 L310.0 591.4 L314.0 591.4 L314.0 592.2 L318.0 592.2 L318.0 593.0" stroke="#6a6a6a" stroke-width="4.6" fill="none" stroke-linejoin="miter" opacity="0.55"/><path d="M262.0 582.0 L266.0 582.0 L266.0 582.8 L270.0 582.8 L270.0 583.6 L274.0 583.6 L274.0 584.4 L278.0 584.4 L278.0 585.1 L282.0 585.1 L282.0 585.9 L286.0 585.9 L286.0 586.7 L290.0 586.7 L290.0 587.5 L294.0 587.5 L294.0 588.3 L298.0 588.3 L298.0 589.1 L302.0 589.1 L302.0 589.9 L306.0 589.9 L306.0 590.6 L310.0 590.6 L310.0 591.4 L314.0 591.4 L314.0 592.2 L318.0 592.2 L318.0 593.0" stroke="#e2e2e2" stroke-width="3.0" fill="none" stroke-linejoin="miter" opacity="1"/><path d="M318.0 593.0 Q324.0 596.0 324.0 605.0" stroke="#bdbdbd" stroke-width="1.4" fill="none" stroke-dasharray="1.5 1.5"/><polygon points="238.0,487.0 240.7,573.0 241.0,660.0 260.5,660.0 257.8,573.0 255.0,487.0" fill="#dcdcdc"/><rect x="243.0" y="487.0" width="1.7" height="1.9" fill="#6a6a6a"/><rect x="234.7" y="490.0" width="3.6" height="1.9" fill="#c8c8c8"/><path d="M242.3 490.0 L250.8 490.0 L247.4 494.0 L245.7 494.0 Z" fill="#111"/><rect x="237.6" y="491.0" width="2.2" height="3" fill="#1a1a1a"/><rect x="253.4" y="491.0" width="2.2" height="3" fill="#1a1a1a"/><rect x="236.1" y="493.1" width="2.9" height="2.6" fill="#c8c8c8"/><rect x="235.7" y="499.1" width="3.0" height="2.5" fill="#c8c8c8"/><rect x="254.0" y="499.1" width="2.4" height="2.4" fill="#c8c8c8"/><rect x="248.0" y="499.1" width="2.0" height="2.1" fill="#6a6a6a"/><path d="M242.7 502.2 L251.2 502.2 L247.8 506.2 L246.1 506.2 Z" fill="#111"/><rect x="238.0" y="503.2" width="2.2" height="3" fill="#1a1a1a"/><rect x="253.8" y="503.2" width="2.2" height="3" fill="#1a1a1a"/><rect x="235.3" y="508.2" width="2.2" height="1.6" fill="#c8c8c8"/><rect x="245.2" y="508.2" width="2.3" height="1.3" fill="#6a6a6a"/><rect x="235.5" y="511.3" width="3.3" height="2.1" fill="#c8c8c8"/><rect x="254.5" y="511.3" width="3.3" height="2.8" fill="#c8c8c8"/><path d="M243.1 514.3 L251.6 514.3 L248.2 518.3 L246.5 518.3 Z" fill="#111"/><rect x="238.4" y="515.3" width="2.2" height="3" fill="#1a1a1a"/><rect x="254.2" y="515.3" width="2.2" height="3" fill="#1a1a1a"/><rect x="237.6" y="517.4" width="3.4" height="1.7" fill="#c8c8c8"/><rect x="255.3" y="520.4" width="2.7" height="2.8" fill="#c8c8c8"/><rect x="236.4" y="526.5" width="2.5" height="2.9" fill="#c8c8c8"/><rect x="255.3" y="526.5" width="2.7" height="2.1" fill="#c8c8c8"/><path d="M243.5 526.5 L252.0 526.5 L248.6 530.5 L246.9 530.5 Z" fill="#111"/><rect x="238.7" y="527.5" width="2.2" height="3" fill="#1a1a1a"/><rect x="254.6" y="527.5" width="2.2" height="3" fill="#1a1a1a"/><rect x="237.1" y="529.5" width="2.2" height="2.3" fill="#c8c8c8"/><rect x="251.6" y="529.5" width="2.3" height="2.0" fill="#6a6a6a"/><rect x="255.9" y="532.5" width="2.9" height="1.6" fill="#c8c8c8"/><rect x="255.7" y="535.6" width="3.4" height="2.3" fill="#c8c8c8"/><rect x="255.6" y="538.6" width="2.5" height="1.5" fill="#c8c8c8"/><path d="M243.9 538.6 L252.4 538.6 L249.0 542.6 L247.3 542.6 Z" fill="#111"/><rect x="239.1" y="539.6" width="2.2" height="3" fill="#1a1a1a"/><rect x="255.0" y="539.6" width="2.2" height="3" fill="#1a1a1a"/><rect x="236.8" y="541.6" width="2.5" height="2.4" fill="#c8c8c8"/><rect x="256.0" y="547.7" width="1.9" height="2.8" fill="#c8c8c8"/><rect x="249.2" y="547.7" width="2.2" height="1.7" fill="#6a6a6a"/><path d="M244.3 550.7 L252.8 550.7 L249.4 554.7 L247.7 554.7 Z" fill="#111"/><rect x="239.5" y="551.7" width="2.2" height="3" fill="#1a1a1a"/><rect x="255.4" y="551.7" width="2.2" height="3" fill="#1a1a1a"/><rect x="257.1" y="553.8" width="3.4" height="1.7" fill="#c8c8c8"/><rect x="241.6" y="556.8" width="1.6" height="1.7" fill="#6a6a6a"/><rect x="241.6" y="559.8" width="2.3" height="1.3" fill="#6a6a6a"/><rect x="239.0" y="562.9" width="2.7" height="2.7" fill="#c8c8c8"/><path d="M244.7 562.9 L253.2 562.9 L249.8 566.9 L248.1 566.9 Z" fill="#111"/><rect x="239.9" y="563.9" width="2.2" height="3" fill="#1a1a1a"/><rect x="255.8" y="563.9" width="2.2" height="3" fill="#1a1a1a"/><rect x="237.9" y="565.9" width="3.2" height="3.0" fill="#c8c8c8"/><rect x="256.5" y="565.9" width="2.2" height="1.7" fill="#c8c8c8"/><rect x="251.5" y="565.9" width="2.1" height="1.6" fill="#6a6a6a"/><rect x="247.5" y="568.9" width="1.5" height="1.2" fill="#6a6a6a"/><rect x="251.8" y="572.0" width="2.6" height="1.3" fill="#6a6a6a"/><rect x="239.6" y="575.0" width="3.2" height="3.0" fill="#c8c8c8"/><rect x="257.6" y="575.0" width="1.6" height="2.1" fill="#c8c8c8"/><path d="M245.0 575.0 L253.6 575.0 L250.1 579.0 L248.4 579.0 Z" fill="#111"/><rect x="240.2" y="576.0" width="2.2" height="3" fill="#1a1a1a"/><rect x="256.2" y="576.0" width="2.2" height="3" fill="#1a1a1a"/><rect x="238.7" y="578.1" width="2.5" height="2.2" fill="#c8c8c8"/><rect x="257.2" y="578.1" width="1.9" height="2.7" fill="#c8c8c8"/><rect x="247.3" y="578.1" width="1.5" height="2.0" fill="#6a6a6a"/><rect x="239.5" y="581.1" width="2.2" height="2.5" fill="#c8c8c8"/><rect x="257.8" y="581.1" width="3.0" height="1.6" fill="#c8c8c8"/><rect x="252.2" y="584.1" width="2.8" height="1.5" fill="#6a6a6a"/><path d="M245.1 587.2 L253.9 587.2 L250.4 591.2 L248.6 591.2 Z" fill="#111"/><rect x="240.2" y="588.2" width="2.2" height="3" fill="#1a1a1a"/><rect x="256.5" y="588.2" width="2.2" height="3" fill="#1a1a1a"/><rect x="239.6" y="590.2" width="2.3" height="2.3" fill="#c8c8c8"/><rect x="257.3" y="593.2" width="1.5" height="2.6" fill="#c8c8c8"/><rect x="241.9" y="593.2" width="2.7" height="1.8" fill="#6a6a6a"/><rect x="257.4" y="596.3" width="2.6" height="2.1" fill="#c8c8c8"/><path d="M245.2 599.3 L254.2 599.3 L250.6 603.3 L248.8 603.3 Z" fill="#111"/><rect x="240.3" y="600.3" width="2.2" height="3" fill="#1a1a1a"/><rect x="256.9" y="600.3" width="2.2" height="3" fill="#1a1a1a"/><rect x="239.5" y="602.3" width="4.0" height="1.8" fill="#c8c8c8"/><rect x="238.7" y="605.4" width="2.5" height="2.5" fill="#c8c8c8"/><rect x="258.3" y="605.4" width="3.0" height="2.9" fill="#c8c8c8"/><rect x="247.0" y="605.4" width="2.8" height="1.2" fill="#6a6a6a"/><rect x="239.2" y="608.4" width="2.6" height="1.6" fill="#c8c8c8"/><rect x="257.8" y="608.4" width="1.8" height="2.3" fill="#c8c8c8"/><rect x="253.4" y="608.4" width="2.3" height="1.5" fill="#6a6a6a"/><rect x="258.9" y="611.4" width="2.8" height="1.9" fill="#c8c8c8"/><path d="M245.4 611.4 L254.5 611.4 L250.8 615.4 L249.0 615.4 Z" fill="#111"/><rect x="240.3" y="612.4" width="2.2" height="3" fill="#1a1a1a"/><rect x="257.3" y="612.4" width="2.2" height="3" fill="#1a1a1a"/><rect x="250.8" y="614.5" width="1.8" height="2.0" fill="#6a6a6a"/><rect x="239.0" y="617.5" width="3.6" height="2.3" fill="#c8c8c8"/><rect x="247.5" y="620.5" width="2.1" height="1.7" fill="#6a6a6a"/><path d="M245.5 623.6 L254.7 623.6 L251.0 627.6 L249.2 627.6 Z" fill="#111"/><rect x="240.4" y="624.6" width="2.2" height="3" fill="#1a1a1a"/><rect x="257.7" y="624.6" width="2.2" height="3" fill="#1a1a1a"/><rect x="247.9" y="626.6" width="2.8" height="2.0" fill="#6a6a6a"/><rect x="258.2" y="629.6" width="1.7" height="2.5" fill="#c8c8c8"/><rect x="246.7" y="632.7" width="1.9" height="1.4" fill="#6a6a6a"/><path d="M245.6 635.7 L255.0 635.7 L251.3 639.7 L249.4 639.7 Z" fill="#111"/><rect x="240.4" y="636.7" width="2.2" height="3" fill="#1a1a1a"/><rect x="258.0" y="636.7" width="2.2" height="3" fill="#1a1a1a"/><rect x="239.3" y="638.8" width="2.3" height="2.2" fill="#c8c8c8"/><rect x="244.5" y="638.8" width="2.9" height="1.4" fill="#6a6a6a"/><rect x="258.6" y="641.8" width="3.2" height="1.8" fill="#c8c8c8"/><rect x="246.7" y="644.8" width="2.8" height="1.9" fill="#6a6a6a"/><rect x="238.9" y="647.9" width="4.0" height="2.3" fill="#c8c8c8"/><path d="M245.7 647.9 L255.3 647.9 L251.5 651.9 L249.6 651.9 Z" fill="#111"/><rect x="240.5" y="648.9" width="2.2" height="3" fill="#1a1a1a"/><rect x="258.4" y="648.9" width="2.2" height="3" fill="#1a1a1a"/><rect x="259.0" y="650.9" width="2.0" height="2.1" fill="#c8c8c8"/><rect x="250.4" y="650.9" width="2.4" height="1.8" fill="#6a6a6a"/><rect x="239.1" y="653.9" width="3.5" height="2.1" fill="#c8c8c8"/><rect x="242.4" y="653.9" width="2.2" height="1.5" fill="#6a6a6a"/><rect x="259.1" y="657.0" width="3.4" height="2.7" fill="#c8c8c8"/><rect x="245.6" y="657.0" width="1.9" height="1.7" fill="#6a6a6a"/><path d="M274.4 573.8 C275.5 571.3 276.4 569.9 278.8 568.7 C281.2 567.5 285.2 566.7 288.8 566.5 C292.4 566.3 296.8 566.3 300.4 567.3 C304.0 568.3 307.6 570.0 310.5 572.3 C313.4 574.6 315.8 577.6 317.7 581.0 C319.6 584.4 321.0 588.4 322.0 592.5 C323.0 596.6 323.6 601.2 323.5 605.5 C323.4 609.8 322.5 614.9 321.3 618.5 C320.1 622.1 318.4 625.4 316.3 627.1 C314.2 628.8 311.2 629.1 309.0 628.6 C306.8 628.1 305.4 626.9 303.3 624.2 C301.2 621.6 299.0 616.5 296.1 612.7 C293.2 608.9 289.2 604.6 286.0 601.2 C282.8 597.8 278.9 595.4 276.6 592.5 C274.3 589.6 272.7 586.9 272.3 583.8 C271.9 580.7 273.3 576.3 274.4 573.8 Z" fill="#4cb335"/><path d="M282.5 574.0 Q303.0 571.5 313.3 582.0 Q315.8 597.5 303.0 610.0 Q297.9 619.3 304.0 625.5" stroke="#2a7f22" stroke-width="1.2" fill="none"/><path d="M295.3 585.1 Q297.9 594.4 293.8 602.5" stroke="#2f8a27" stroke-width="1.2" fill="none"/></g><rect x="175" y="491.8" width="18.3" height="20.8" fill="#fff"/><text x="183.4" y="508.6" font-size="18" text-anchor="middle" fill="#111" font-weight="bold" >H</text>
<clipPath id="cpE"><rect x="339" y="302" width="163" height="88"/></clipPath><g clip-path="url(#cpE)"><rect x="339" y="302" width="163" height="88" fill="#060606"/><path d="M343.0 352.0 C343.0 346.7 343.8 340.7 346.0 336.0 C348.2 331.3 352.0 327.7 356.0 324.0 C360.0 320.3 365.0 316.5 370.0 314.0 C375.0 311.5 380.7 310.3 386.0 309.0 C391.3 307.7 395.5 306.6 402.0 306.0 C408.5 305.4 417.2 305.5 425.0 305.5 C432.8 305.5 442.2 305.4 449.0 306.0 C455.8 306.6 460.7 307.7 466.0 309.0 C471.3 310.3 476.3 312.2 481.0 314.0 C485.7 315.8 490.3 318.0 494.0 320.0 C497.7 322.0 501.5 316.0 503.0 326.0 C504.5 336.0 505.2 370.8 503.0 380.0 C500.8 389.2 495.5 380.5 490.0 381.0 C484.5 381.5 476.7 382.5 470.0 383.0 C463.3 383.5 456.7 383.7 450.0 384.0 C443.3 384.3 436.7 384.7 430.0 385.0 C423.3 385.3 416.7 385.8 410.0 386.0 C403.3 386.2 396.3 386.3 390.0 386.0 C383.7 385.7 377.7 385.3 372.0 384.0 C366.3 382.7 360.3 380.7 356.0 378.0 C351.7 375.3 348.2 372.3 346.0 368.0 C343.8 363.7 343.0 357.3 343.0 352.0 Z" fill="#3e3e3e"/><path d="M347.0 352.0 C347.0 347.7 348.0 342.2 350.0 338.0 C352.0 333.8 355.3 330.3 359.0 327.0 C362.7 323.7 367.3 320.3 372.0 318.0 C376.7 315.7 381.8 314.3 387.0 313.0 C392.2 311.7 396.7 310.6 403.0 310.0 C409.3 309.4 417.5 309.5 425.0 309.5 C432.5 309.5 441.3 309.4 448.0 310.0 C454.7 310.6 459.7 311.7 465.0 313.0 C470.3 314.3 475.5 316.2 480.0 318.0 C484.5 319.8 488.5 322.0 492.0 324.0 C495.5 326.0 499.5 322.0 501.0 330.0 C502.5 338.0 503.2 364.5 501.0 372.0 C498.8 379.5 493.2 374.3 488.0 375.0 C482.8 375.7 476.3 375.7 470.0 376.0 C463.7 376.3 456.7 376.7 450.0 377.0 C443.3 377.3 436.7 377.7 430.0 378.0 C423.3 378.3 416.7 378.7 410.0 379.0 C403.3 379.3 396.2 380.2 390.0 380.0 C383.8 379.8 378.2 379.2 373.0 378.0 C367.8 376.8 362.8 375.3 359.0 373.0 C355.2 370.7 352.0 367.5 350.0 364.0 C348.0 360.5 347.0 356.3 347.0 352.0 Z" fill="#8d8d8d"/><ellipse cx="355" cy="346" rx="8" ry="12" fill="#808080"/><ellipse cx="360" cy="368" rx="14" ry="7" fill="#848484"/><path d="M470 340 Q486 330 498 336 L500 350 Q486 346 474 352 Z" fill="#7a7a7a"/><path d="M395 370 Q420 374 440 372 Q460 372 475 366" stroke="#777" stroke-width="3" fill="none"/><path d="M392 330 Q386 346 392 364" stroke="#e6e6e6" stroke-width="2.6" fill="none"/><path d="M478 334 Q484 350 478 366" stroke="#e0e0e0" stroke-width="2.4" fill="none"/><path d="M398 322 Q408 314 420 312" stroke="#f0f0f0" stroke-width="3.6" fill="none"/><path d="M456 314 Q468 318 476 328" stroke="#f0f0f0" stroke-width="3.4" fill="none"/><path d="M395.4 324.5 C397.7 322.2 401.3 322.1 405.0 321.5 C408.7 320.9 414.3 319.9 417.4 320.8 C420.5 321.7 422.1 323.9 423.5 327.0 C424.9 330.1 425.2 335.4 425.5 339.6 C425.8 343.8 425.4 348.3 425.0 352.0 C424.6 355.7 424.8 359.4 423.0 361.6 C421.2 363.8 417.3 364.5 414.0 365.0 C410.7 365.5 406.3 365.6 403.0 364.5 C399.7 363.4 396.1 361.0 394.0 358.4 C391.9 355.8 391.2 352.9 390.7 349.0 C390.2 345.1 390.2 339.1 391.0 335.0 C391.8 330.9 393.1 326.8 395.4 324.5 Z" fill="#040404"/><path d="M449.0 333.0 C450.7 330.6 452.8 329.8 455.0 329.5 C457.2 329.2 459.7 329.9 462.0 331.0 C464.3 332.1 466.9 334.0 469.0 336.0 C471.1 338.0 473.1 340.5 474.5 343.0 C475.9 345.5 477.2 348.3 477.5 351.0 C477.8 353.7 477.8 356.8 476.5 359.0 C475.2 361.2 472.8 363.0 470.0 364.0 C467.2 365.0 463.2 365.3 460.0 365.0 C456.8 364.7 453.3 363.7 451.0 362.0 C448.7 360.3 447.0 358.0 446.0 355.0 C445.0 352.0 444.5 347.7 445.0 344.0 C445.5 340.3 447.3 335.4 449.0 333.0 Z" fill="#040404"/><path d="M417 315 Q436 309 455 315 L453 320 Q436 315 419 320 Z" fill="#f2f2f2"/><ellipse cx="423.5" cy="321" rx="6.5" ry="4.5" fill="#eeeeee"/><ellipse cx="449" cy="322" rx="6.5" ry="4.5" fill="#eeeeee"/><circle cx="444" cy="331" r="2" fill="#dddddd"/><circle cx="443" cy="338" r="1.8" fill="#dddddd"/><circle cx="437.7" cy="333.3" r="5" fill="#040404"/><circle cx="435" cy="347" r="7" fill="#ececec"/><path d="M424 354 Q435 350 446 354 L444 360 Q435 356 426 360 Z" fill="#e8e8e8"/><ellipse cx="435" cy="357" rx="3.5" ry="2.6" fill="#8a8a8a"/><path d="M433 359 L437 359 L436.5 370 L433.5 370 Z" fill="#e8e8e8"/><path d="M366 356 L373 355 L380 362 L390 366 L388 370 L378 368 L372 372 L368 372 Z" fill="#f0f0f0"/><path d="M470 370 L482 366 L492 362 L496 352 L501 352 L500 362 L494 370 L482 372 L472 374 Z" fill="#efefef"/><circle cx="375" cy="331.5" r="6" fill="#a88890"/><circle cx="375.5" cy="331" r="3.8" fill="#d0aab2"/></g><rect x="344" y="306.8" width="18.3" height="20.8" fill="#fff"/><text x="352.4" y="323.6" font-size="18" text-anchor="middle" fill="#111" font-weight="bold" >E</text>
<clipPath id="cpF"><rect x="339" y="392" width="163" height="85"/></clipPath><g clip-path="url(#cpF)"><rect x="339" y="392" width="163" height="85" fill="#060606"/><path d="M346.0 440.0 C346.0 435.0 347.0 428.7 349.0 424.0 C351.0 419.3 354.2 415.5 358.0 412.0 C361.8 408.5 366.7 405.3 372.0 403.0 C377.3 400.7 382.5 399.4 390.0 398.0 C397.5 396.6 408.7 395.2 417.0 394.5 C425.3 393.8 432.8 393.9 440.0 394.0 C447.2 394.1 453.7 394.2 460.0 395.0 C466.3 395.8 472.7 397.3 478.0 399.0 C483.3 400.7 487.8 403.2 492.0 405.0 C496.2 406.8 501.2 398.8 503.0 410.0 C504.8 421.2 505.2 461.7 503.0 472.0 C500.8 482.3 495.5 472.0 490.0 472.0 C484.5 472.0 476.7 472.0 470.0 472.0 C463.3 472.0 456.7 472.0 450.0 472.0 C443.3 472.0 436.7 471.8 430.0 472.0 C423.3 472.2 416.7 472.7 410.0 473.0 C403.3 473.3 396.3 474.2 390.0 474.0 C383.7 473.8 377.3 473.5 372.0 472.0 C366.7 470.5 361.8 468.0 358.0 465.0 C354.2 462.0 351.0 458.2 349.0 454.0 C347.0 449.8 346.0 445.0 346.0 440.0 Z" fill="#3e3e3e"/><path d="M350.0 440.0 C350.0 435.8 351.2 430.2 353.0 426.0 C354.8 421.8 357.5 418.2 361.0 415.0 C364.5 411.8 369.0 409.2 374.0 407.0 C379.0 404.8 383.8 403.4 391.0 402.0 C398.2 400.6 408.8 399.2 417.0 398.5 C425.2 397.8 432.8 397.9 440.0 398.0 C447.2 398.1 453.8 398.2 460.0 399.0 C466.2 399.8 472.0 401.3 477.0 403.0 C482.0 404.7 486.0 407.2 490.0 409.0 C494.0 410.8 499.2 404.5 501.0 414.0 C502.8 423.5 503.2 457.2 501.0 466.0 C498.8 474.8 493.2 466.8 488.0 467.0 C482.8 467.2 476.3 467.0 470.0 467.0 C463.7 467.0 456.7 467.0 450.0 467.0 C443.3 467.0 436.7 466.8 430.0 467.0 C423.3 467.2 416.7 467.7 410.0 468.0 C403.3 468.3 396.0 469.2 390.0 469.0 C384.0 468.8 378.8 468.5 374.0 467.0 C369.2 465.5 364.5 462.7 361.0 460.0 C357.5 457.3 354.8 454.3 353.0 451.0 C351.2 447.7 350.0 444.2 350.0 440.0 Z" fill="#8d8d8d"/><ellipse cx="358" cy="432" rx="8" ry="12" fill="#808080"/><ellipse cx="362" cy="456" rx="13" ry="7" fill="#848484"/><path d="M386 416 Q380 436 388 456" stroke="#e6e6e6" stroke-width="2.6" fill="none"/><path d="M478 436 Q482 448 476 458 Q470 462 462 462" stroke="#e6e6e6" stroke-width="2.4" fill="none"/><path d="M384 410 Q392 402 404 400" stroke="#ececec" stroke-width="2.6" fill="none"/><path d="M456.3 413 Q462 418 467.3 426" stroke="#f0f0f0" stroke-width="3" fill="none"/><path d="M390.0 416.0 C392.1 412.8 395.3 411.9 398.6 411.0 C401.9 410.1 406.7 410.2 410.0 410.5 C413.3 410.8 416.1 410.9 418.5 412.5 C420.9 414.1 423.2 416.8 424.5 420.0 C425.8 423.2 426.2 428.0 426.5 432.0 C426.8 436.0 427.2 440.2 426.5 444.0 C425.8 447.8 424.1 452.4 422.0 455.0 C419.9 457.6 417.3 458.8 414.0 459.5 C410.7 460.2 405.6 459.8 402.0 459.0 C398.4 458.2 394.8 457.0 392.3 454.7 C389.8 452.4 388.1 449.1 387.0 445.0 C385.9 440.9 385.5 434.8 386.0 430.0 C386.5 425.2 387.9 419.2 390.0 416.0 Z" fill="#040404"/><path d="M446.0 421.0 C447.3 418.4 449.3 416.3 451.5 415.7 C453.7 415.1 456.4 416.2 459.0 417.5 C461.6 418.8 464.8 421.1 467.3 423.5 C469.8 425.9 472.1 428.6 474.0 432.0 C475.9 435.4 478.1 440.5 478.4 444.0 C478.7 447.5 477.7 450.4 476.0 453.0 C474.3 455.6 471.3 458.4 468.0 459.5 C464.7 460.6 459.5 460.7 456.0 459.8 C452.5 458.9 449.1 456.8 447.0 454.0 C444.9 451.2 444.2 446.8 443.7 443.0 C443.1 439.2 443.3 435.1 443.7 431.4 C444.1 427.7 444.7 423.6 446.0 421.0 Z" fill="#040404"/><path d="M418 403 Q433 400 447 403 L446.8 409 Q433 406 419 409 Z" fill="#f2f2f2"/><ellipse cx="427" cy="413" rx="3.5" ry="3" fill="#dcdcdc"/><ellipse cx="446" cy="413" rx="3.5" ry="3" fill="#dcdcdc"/><circle cx="436.6" cy="424.3" r="5" fill="#040404"/><circle cx="433.4" cy="442" r="6.8" fill="#ececec"/><path d="M426 452 Q436 449 447 452 L446 457 Q436 454 427 457 Z" fill="#e8e8e8"/><ellipse cx="433.4" cy="450" rx="3.3" ry="2.6" fill="#8a8a8a"/><path d="M433 455 L436.5 455 L436 467.7 L433.5 467.7 Z" fill="#e8e8e8"/><path d="M366 446 L372 445 L384 454 L396 459 L394 463 L382 460 L372 458 L368 455 Z" fill="#f0f0f0"/><path d="M457.9 466 L470 464 L480 462.5 L488 455 L496 447 L499 449.5 L491 458 L482 466 L470 468.5 L458 469.5 Z" fill="#efefef"/><circle cx="376.6" cy="423.3" r="5" fill="#9a7078"/><circle cx="376.6" cy="423.3" r="3" fill="#b88088"/><circle cx="472" cy="423.5" r="4" fill="#7a6aa0"/><circle cx="483.9" cy="432.2" r="5" fill="#a4ac6a"/></g><rect x="344" y="396.8" width="18.3" height="20.8" fill="#fff"/><text x="352.4" y="413.6" font-size="18" text-anchor="middle" fill="#111" font-weight="bold" >F</text>
<clipPath id="cpI"><rect x="339" y="486" width="163" height="86"/></clipPath><g clip-path="url(#cpI)"><rect x="339" y="486" width="163" height="86" fill="#060606"/><path d="M381 484 L464 484 C470 494 475 508 477 521 C479 535 481 555 484 574 L352 574 C355 556 362 538 369 522 C375 508 378 496 381 484 Z" fill="#444"/><path d="M385 484 L460 484 C466 494 471 508 473 521 C475 535 477 555 480 574 L356 574 C359 556 366 538 373 522 C379 508 382 496 385 484 Z" fill="#a0a0a0" opacity="0.55"/><path d="M391 484 L455 484 C460 494 464 508 466 521 C468 535 470 555 472 574 L364 574 C367 556 373 538 379 522 C385 508 388 496 391 484 Z" fill="#8c8c8c"/><path d="M398 486 L442 486 C447 500 449 514 447 526 C444 538 432 542 420 542 C407 542 398 536 396 524 C394 510 395 498 398 486 Z" fill="#a2a2a2"/><ellipse cx="420" cy="528" rx="13" ry="8" fill="#8e8e8e"/><ellipse cx="388" cy="508" rx="4" ry="9" fill="#9e9e9e"/><path d="M403 547 C409 544 415 546 419 549 C423 546 430 544 435 547 C437 553 434 560 428 563 C426 567 423 569 419 568 C415 569 412 567 410 563 C404 560 401 553 403 547 Z" fill="#040404"/><circle cx="419" cy="561" r="4.8" fill="#d8d8d8"/><circle cx="419" cy="562" r="2.2" fill="#040404"/><path d="M442 486 L453.5 486 L452 491 Q447 494 443 490 Z" fill="#f4f4f4"/><ellipse cx="390" cy="550" rx="5" ry="4" fill="#c4c4c4"/><ellipse cx="447" cy="555" rx="6" ry="4" fill="#bababa"/><path d="M444.6 497.0 C446.6 495.3 450.9 497.1 453.8 498.7 C456.7 500.3 459.8 503.9 461.9 506.8 C464.0 509.7 465.8 513.1 466.5 516.0 C467.2 518.9 466.8 521.5 466.0 524.0 C465.2 526.5 463.7 529.5 461.9 531.0 C460.1 532.5 457.1 533.5 455.0 533.3 C452.9 533.1 451.1 531.9 449.2 529.8 C447.3 527.7 444.8 524.1 443.5 520.6 C442.2 517.1 441.5 512.9 441.7 509.0 C441.9 505.1 442.6 498.7 444.6 497.0 Z" fill="#9c9e9c" stroke="#d8283a" stroke-width="1.4"/><path d="M444.6 497 L460.8 532.2 M443.5 518.3 L464.2 509" stroke="#d8283a" stroke-width="1.4" fill="none"/></g><rect x="344" y="490.8" width="18.3" height="20.8" fill="#fff"/><text x="352.4" y="507.6" font-size="18" text-anchor="middle" fill="#111" font-weight="bold" >I</text>
<clipPath id="cpJ"><rect x="339" y="574" width="163" height="86"/></clipPath><g clip-path="url(#cpJ)"><rect x="339" y="574" width="163" height="86" fill="#060606"/><path d="M383 572 L464 572 C469 584 473 596 475 610 C477 628 478 645 479 662 L360 662 C361 645 363 628 366 612 C369 598 375 586 383 572 Z" fill="#444"/><path d="M388 572 L459 572 C464 584 468 596 470 610 C472 628 473 645 474 662 L366 662 C367 645 369 628 372 612 C375 598 381 586 388 572 Z" fill="#8a8a8a"/><ellipse cx="392" cy="604" rx="10" ry="18" fill="#747474"/><ellipse cx="430" cy="596" rx="16" ry="12" fill="#929292"/><ellipse cx="446" cy="632" rx="10" ry="10" fill="#9c9c9c"/><path d="M366 648 Q395 640 425 650 L425 662 L366 662 Z" fill="#a2a2a2" opacity="0.8"/><path d="M390 574 L406 574 C406 579 402 582 396 582 C392 581 390 578 390 574 Z" fill="#f4f4f4"/><path d="M439 574 L448 574 C454 578 459 584 460 590 L455 590 C452 584 446 579 440 577 Z" fill="#f4f4f4"/><path d="M408 616 C412 611 420 610 426 614 C430 618 430 624 426 627 C420 630 412 628 408 624 Z" fill="#1c1c1c"/><path d="M410 632 C414 626 424 626 429 631 C433 637 432 646 428 651 C422 655 413 654 410 648 C407 643 407 637 410 632 Z" fill="#040404"/><path d="M412 616 Q420 612 428 617" stroke="#e0e0e0" stroke-width="2" fill="none"/><circle cx="424" cy="630" r="2.5" fill="#d4d4d4"/><circle cx="418" cy="660" r="4" fill="#f0f0f0"/><path d="M452 592 C458 593 463 602 464.5 610 C465.5 616 463 619 459 618 C455 615 451.5 608 450.5 601 C450 596 450 593 452 592 Z" fill="#b04a4e" stroke="#e0202a" stroke-width="1.4"/><path d="M453 596 L460 608 M456 598 L455 612 M452 604 L462 612" stroke="#e0303a" stroke-width="0.9" fill="none"/><circle cx="456" cy="603" r="1.5" fill="#c8a090"/><circle cx="459" cy="610" r="1.5" fill="#c8a090"/></g><rect x="344" y="578.8" width="18.3" height="20.8" fill="#fff"/><text x="352.4" y="595.6" font-size="18" text-anchor="middle" fill="#111" font-weight="bold" >J</text>
<text x="3.5" y="474.8" font-size="10.5" text-anchor="start" fill="#d2a332" font-weight="normal" >491 mL</text>
<text x="173.5" y="474.8" font-size="10.5" text-anchor="start" fill="#d2a332" font-weight="normal" >314 mL</text>
<text x="3.5" y="656.5" font-size="10.5" text-anchor="start" fill="#d2a332" font-weight="normal" >628 mL</text>
<text x="173.5" y="656.5" font-size="10.5" text-anchor="start" fill="#d2a332" font-weight="normal" >424 mL</text>
<text x="344.8" y="387.6" font-size="11" text-anchor="start" fill="#d6bc44" font-weight="normal" >22 × 17 mm</text>
<text x="345.3" y="472.9" font-size="11" text-anchor="start" fill="#d6bc44" font-weight="normal" >13 × 11 mm</text>
<text x="344.8" y="569.6" font-size="11" text-anchor="start" fill="#d6bc44" font-weight="normal" >32 × 19 mm</text>
<text x="344.8" y="656.9" font-size="11" text-anchor="start" fill="#d6bc44" font-weight="normal" >22 × 9 mm</text>
<text x="81.0" y="294.7" font-size="12" text-anchor="middle" fill="#231f20" font-weight="normal" >Screen</text>
<text x="251.5" y="294.7" font-size="12" text-anchor="middle" fill="#231f20" font-weight="normal" >D85</text>
<text transform="translate(509.8,346) rotate(90)" font-size="12" text-anchor="middle" fill="#231f20">Screen</text>
<text transform="translate(509.8,434.5) rotate(90)" font-size="12" text-anchor="middle" fill="#231f20">D85</text>
<text transform="translate(509.8,529) rotate(90)" font-size="12" text-anchor="middle" fill="#231f20">Screen</text>
<text transform="translate(509.8,617) rotate(90)" font-size="12" text-anchor="middle" fill="#231f20">D85</text>
</svg>
</body></html>
